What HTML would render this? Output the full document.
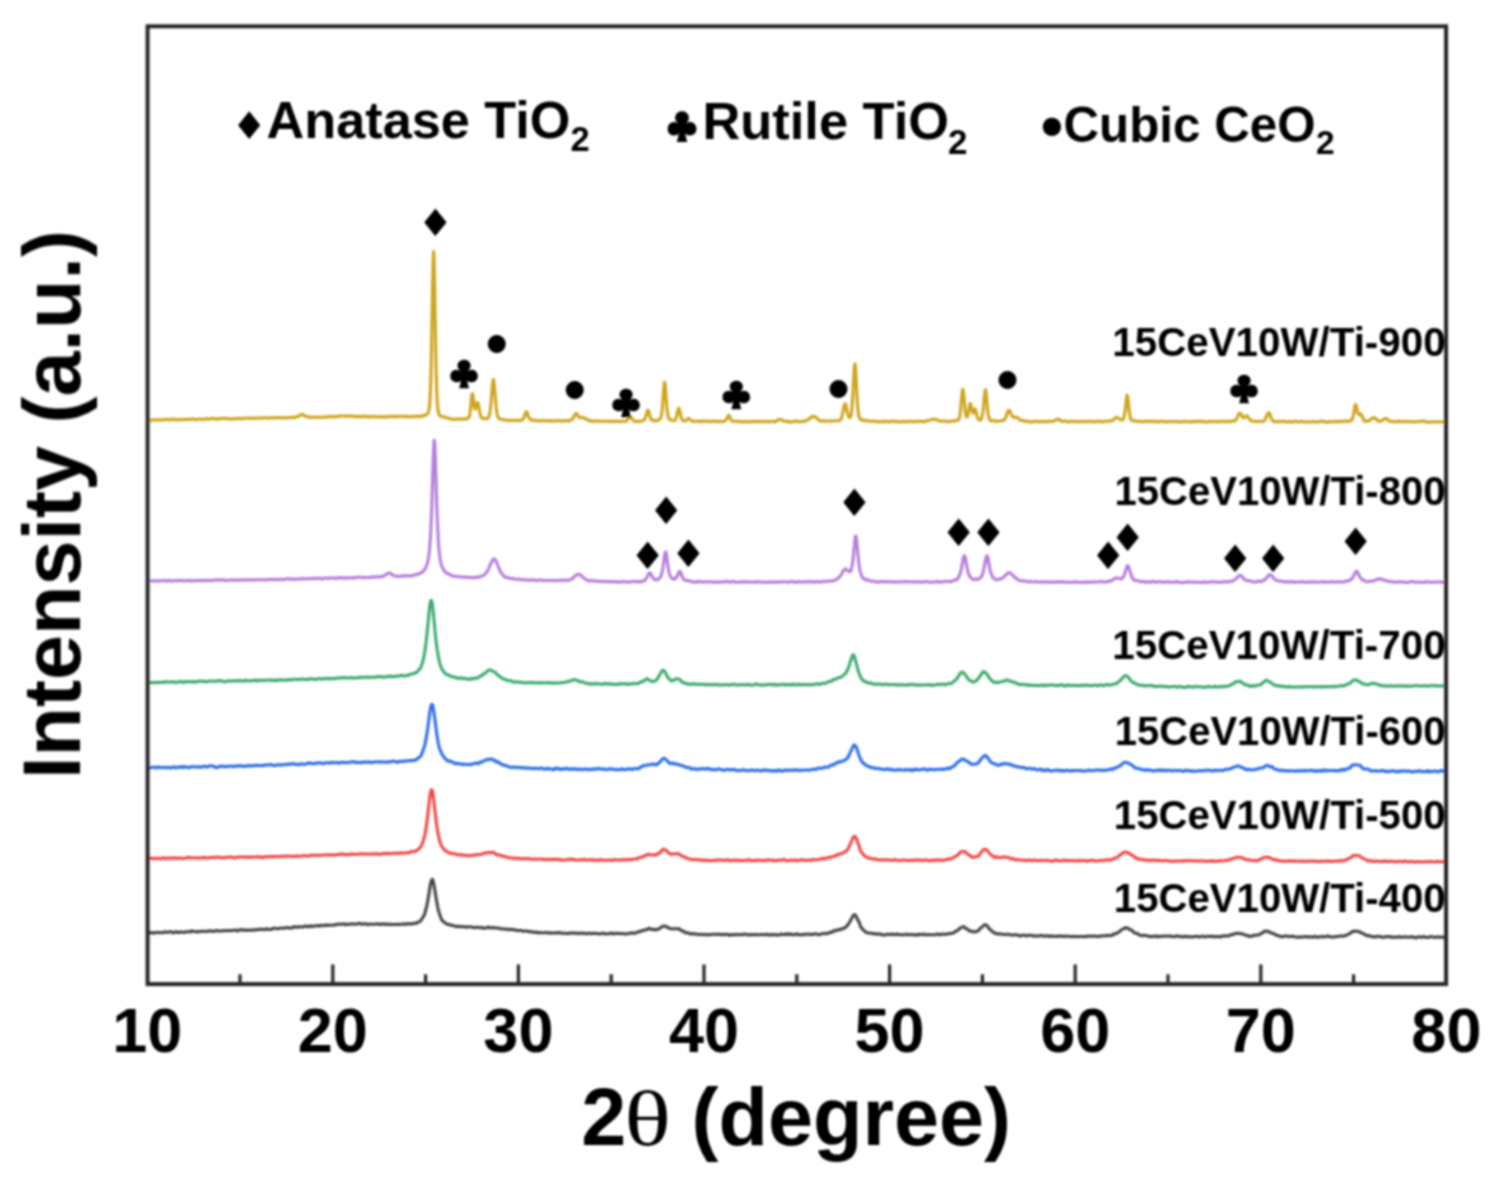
<!DOCTYPE html>
<html lang="en"><head><meta charset="utf-8"><title>XRD patterns</title>
<style>html,body{margin:0;padding:0;background:#fff}svg{display:block}</style></head>
<body>
<svg width="1497" height="1185" viewBox="0 0 1497 1185">
<rect width="100%" height="100%" fill="#fff"/>
<defs><filter id="soft" x="0" y="0" width="1497" height="1185" filterUnits="userSpaceOnUse"><feGaussianBlur stdDeviation="1"/></filter><clipPath id="cp"><rect x="147.6" y="26.3" width="1298.5" height="957.8"/></clipPath></defs>
<g filter="url(#soft)">
<g fill="none" stroke-width="3.1" stroke-linejoin="round" stroke-linecap="round" clip-path="url(#cp)">
<path stroke="#454545" d="M147.6,933.3 L148.1,933.1 L148.6,932.8 L149.1,932.5 L149.6,932.6 L150.1,932.6 L150.6,932.7 L151.1,932.7 L151.6,932.6 L152.1,932.6 L152.6,932.7 L153.1,933.0 L153.6,933.2 L154.1,933.3 L154.6,933.0 L155.1,932.6 L155.6,932.5 L156.1,932.4 L156.6,932.5 L157.1,932.4 L157.6,932.5 L158.1,932.6 L158.6,932.8 L159.1,932.7 L159.6,932.5 L160.1,932.5 L160.6,932.5 L161.1,932.5 L161.6,932.5 L162.1,932.6 L162.6,932.8 L163.1,932.8 L163.6,932.5 L164.1,932.1 L164.6,931.8 L165.1,931.7 L165.6,931.9 L166.1,932.1 L166.6,932.3 L167.1,932.3 L167.6,932.2 L168.1,932.2 L168.6,932.0 L169.1,931.9 L169.6,931.9 L170.1,931.9 L170.6,931.9 L171.1,931.9 L171.6,931.8 L172.1,932.1 L172.6,932.5 L173.1,932.7 L173.6,932.8 L174.1,932.7 L174.6,932.6 L175.1,932.2 L175.6,932.0 L176.1,931.7 L176.6,931.7 L177.1,931.8 L177.6,932.2 L178.1,932.4 L178.6,932.5 L179.1,932.4 L179.6,932.2 L180.1,932.0 L180.6,931.9 L181.1,932.0 L181.6,932.1 L182.1,932.3 L182.6,932.1 L183.1,932.2 L183.6,932.2 L184.1,932.4 L184.6,932.3 L185.1,932.3 L185.6,932.1 L186.1,931.9 L186.6,931.7 L187.1,931.8 L187.6,931.7 L188.1,931.8 L188.6,931.8 L189.1,931.8 L189.6,931.9 L190.1,931.9 L190.6,931.6 L191.1,931.2 L191.6,930.9 L192.1,931.0 L192.6,931.1 L193.1,931.3 L193.6,931.4 L194.1,931.5 L194.6,931.5 L195.1,931.6 L195.6,931.5 L196.1,931.6 L196.6,931.8 L197.1,931.9 L197.6,931.8 L198.1,931.5 L198.6,931.5 L199.1,931.7 L199.6,931.7 L200.1,931.6 L200.6,931.4 L201.1,931.3 L201.6,931.4 L202.1,931.4 L202.6,931.3 L203.1,931.3 L203.6,931.3 L204.1,931.3 L204.6,931.4 L205.1,931.5 L205.6,931.5 L206.1,931.5 L206.6,931.3 L207.1,931.4 L207.6,931.2 L208.1,931.1 L208.6,930.9 L209.1,930.8 L209.6,931.0 L210.1,931.1 L210.6,931.2 L211.1,931.1 L211.6,930.9 L212.1,931.0 L212.6,931.2 L213.1,931.4 L213.6,931.4 L214.1,931.2 L214.6,931.0 L215.1,930.9 L215.6,931.0 L216.1,930.9 L216.6,930.7 L217.1,930.5 L217.6,930.5 L218.1,930.8 L218.6,931.0 L219.1,931.1 L219.6,931.0 L220.1,931.0 L220.6,931.0 L221.1,931.0 L221.6,931.0 L222.1,930.9 L222.6,930.8 L223.1,930.7 L223.6,930.6 L224.1,930.7 L224.6,930.7 L225.1,930.7 L225.6,930.6 L226.1,930.7 L226.6,930.7 L227.1,930.7 L227.6,930.6 L228.1,930.5 L228.6,930.5 L229.1,930.6 L229.6,930.8 L230.1,930.7 L230.6,930.5 L231.1,930.5 L231.6,930.5 L232.1,930.6 L232.6,930.5 L233.1,930.4 L233.6,930.3 L234.1,930.1 L234.6,930.0 L235.1,929.9 L235.6,930.0 L236.1,930.3 L236.6,930.7 L237.1,930.9 L237.6,930.9 L238.1,930.6 L238.6,930.3 L239.1,929.9 L239.6,929.7 L240.1,929.7 L240.6,929.9 L241.1,930.1 L241.6,930.2 L242.1,930.0 L242.6,929.8 L243.1,929.8 L243.6,930.0 L244.1,930.1 L244.6,930.2 L245.1,930.3 L245.6,930.5 L246.1,930.4 L246.6,930.2 L247.1,930.0 L247.6,929.9 L248.1,930.0 L248.6,930.1 L249.1,930.2 L249.6,930.4 L250.1,930.4 L250.6,930.3 L251.1,930.1 L251.6,929.9 L252.1,929.8 L252.6,929.8 L253.1,930.1 L253.6,930.1 L254.1,930.1 L254.6,929.9 L255.1,929.9 L255.6,929.9 L256.1,929.8 L256.6,929.7 L257.1,929.5 L257.6,929.4 L258.1,929.4 L258.6,929.5 L259.1,929.7 L259.6,929.6 L260.1,929.4 L260.6,929.1 L261.1,929.1 L261.6,929.2 L262.1,929.4 L262.6,929.5 L263.1,929.4 L263.6,929.5 L264.1,929.6 L264.6,929.7 L265.1,929.5 L265.6,929.3 L266.1,928.9 L266.6,928.8 L267.1,928.8 L267.6,929.1 L268.1,929.4 L268.6,929.5 L269.1,929.5 L269.6,929.4 L270.1,929.5 L270.6,929.5 L271.1,929.4 L271.6,929.3 L272.1,929.0 L272.6,928.7 L273.1,928.3 L273.6,928.2 L274.1,928.2 L274.6,928.3 L275.1,928.2 L275.6,928.3 L276.1,928.6 L276.6,928.8 L277.1,928.8 L277.6,928.7 L278.1,928.6 L278.6,928.5 L279.1,928.6 L279.6,928.5 L280.1,928.4 L280.6,928.2 L281.1,928.1 L281.6,928.0 L282.1,928.0 L282.6,928.1 L283.1,928.1 L283.6,928.3 L284.1,928.3 L284.6,928.3 L285.1,928.0 L285.6,927.8 L286.1,927.5 L286.6,927.6 L287.1,927.6 L287.6,927.7 L288.1,927.7 L288.6,927.8 L289.1,927.9 L289.6,928.1 L290.1,928.1 L290.6,927.9 L291.1,927.7 L291.6,927.8 L292.1,927.9 L292.6,927.8 L293.1,927.3 L293.6,927.0 L294.1,926.7 L294.6,926.7 L295.1,926.7 L295.6,927.0 L296.1,927.2 L296.6,927.4 L297.1,927.2 L297.6,927.0 L298.1,926.8 L298.6,926.9 L299.1,926.9 L299.6,926.8 L300.1,926.7 L300.6,926.7 L301.1,926.9 L301.6,927.0 L302.1,927.1 L302.6,927.0 L303.1,926.9 L303.6,926.6 L304.1,926.5 L304.6,926.3 L305.1,926.1 L305.6,926.2 L306.1,926.1 L306.6,926.3 L307.1,926.4 L307.6,926.8 L308.1,926.9 L308.6,926.8 L309.1,926.4 L309.6,926.0 L310.1,925.8 L310.6,926.0 L311.1,926.3 L311.6,926.5 L312.1,926.5 L312.6,926.3 L313.1,926.2 L313.6,926.3 L314.1,926.2 L314.6,926.0 L315.1,925.7 L315.6,925.7 L316.1,925.7 L316.6,925.9 L317.1,925.7 L317.6,925.6 L318.1,925.6 L318.6,926.0 L319.1,926.1 L319.6,926.1 L320.1,925.6 L320.6,925.3 L321.1,925.1 L321.6,925.3 L322.1,925.4 L322.6,925.5 L323.1,925.6 L323.6,925.7 L324.1,925.8 L324.6,925.5 L325.1,925.3 L325.6,924.9 L326.1,924.9 L326.6,925.0 L327.1,925.3 L327.6,925.4 L328.1,925.4 L328.6,925.2 L329.1,925.2 L329.6,925.1 L330.1,925.1 L330.6,925.2 L331.1,925.2 L331.6,925.3 L332.1,925.2 L332.6,925.3 L333.1,925.2 L333.6,925.1 L334.1,924.9 L334.6,924.8 L335.1,924.8 L335.6,924.9 L336.1,924.8 L336.6,924.5 L337.1,924.3 L337.6,924.2 L338.1,924.3 L338.6,924.2 L339.1,924.2 L339.6,924.0 L340.1,924.1 L340.6,924.2 L341.1,924.3 L341.6,924.3 L342.1,924.2 L342.6,924.1 L343.1,923.9 L343.6,923.7 L344.1,923.9 L344.6,924.3 L345.1,924.7 L345.6,924.8 L346.1,924.6 L346.6,924.3 L347.1,924.0 L347.6,924.2 L348.1,924.3 L348.6,924.3 L349.1,924.2 L349.6,924.2 L350.1,924.4 L350.6,924.4 L351.1,924.2 L351.6,923.9 L352.1,923.7 L352.6,923.7 L353.1,923.9 L353.6,924.1 L354.1,924.3 L354.6,924.3 L355.1,924.2 L355.6,924.0 L356.1,923.9 L356.6,923.9 L357.1,924.0 L357.6,923.9 L358.1,923.7 L358.6,923.5 L359.1,923.4 L359.6,923.3 L360.1,923.4 L360.6,923.7 L361.1,924.0 L361.6,924.2 L362.1,924.2 L362.6,924.2 L363.1,924.1 L363.6,923.9 L364.1,923.8 L364.6,923.8 L365.1,923.7 L365.6,923.7 L366.1,923.9 L366.6,924.3 L367.1,924.5 L367.6,924.6 L368.1,924.5 L368.6,924.4 L369.1,924.2 L369.6,924.0 L370.1,924.0 L370.6,924.1 L371.1,924.2 L371.6,924.3 L372.1,924.3 L372.6,924.3 L373.1,924.3 L373.6,924.3 L374.1,924.3 L374.6,924.3 L375.1,924.3 L375.6,924.1 L376.1,923.9 L376.6,923.8 L377.1,923.9 L377.6,924.0 L378.1,924.3 L378.6,924.2 L379.1,924.0 L379.6,924.0 L380.1,924.2 L380.6,924.5 L381.1,924.5 L381.6,924.3 L382.1,924.1 L382.6,923.9 L383.1,923.9 L383.6,923.9 L384.1,924.0 L384.6,924.3 L385.1,924.5 L385.6,924.4 L386.1,924.2 L386.6,924.0 L387.1,924.1 L387.6,924.2 L388.1,924.5 L388.6,924.6 L389.1,924.5 L389.6,924.3 L390.1,924.2 L390.6,924.4 L391.1,924.4 L391.6,924.4 L392.1,924.4 L392.6,924.5 L393.1,924.5 L393.6,924.5 L394.1,924.4 L394.6,924.4 L395.1,924.5 L395.6,924.5 L396.1,924.4 L396.6,924.3 L397.1,924.3 L397.6,924.4 L398.1,924.3 L398.6,924.4 L399.1,924.4 L399.6,924.5 L400.1,924.5 L400.6,924.4 L401.1,924.3 L401.6,924.2 L402.1,924.1 L402.6,924.0 L403.1,924.0 L403.6,924.1 L404.1,924.3 L404.6,924.4 L405.1,924.5 L405.6,924.2 L406.1,923.8 L406.6,923.6 L407.1,923.7 L407.6,923.9 L408.1,924.0 L408.6,923.9 L409.1,923.8 L409.6,923.5 L410.1,923.7 L410.6,923.9 L411.1,924.1 L411.6,924.0 L412.1,923.8 L412.6,923.7 L413.1,923.7 L413.6,923.6 L414.1,923.3 L414.6,923.1 L415.1,923.2 L415.6,923.4 L416.1,923.4 L416.6,923.2 L417.1,922.7 L417.6,922.3 L418.1,922.0 L418.6,921.9 L419.1,921.8 L419.6,921.6 L420.1,921.3 L420.6,920.9 L421.1,920.1 L421.6,919.3 L422.1,918.4 L422.6,917.7 L423.1,916.9 L423.6,916.1 L424.1,915.3 L424.6,914.1 L425.1,912.5 L425.6,910.5 L426.1,908.6 L426.6,906.6 L427.1,904.4 L427.6,901.7 L428.1,899.0 L428.6,896.0 L429.1,892.9 L429.6,889.6 L430.1,886.6 L430.6,883.8 L431.1,881.7 L431.6,880.1 L432.1,879.3 L432.6,879.6 L433.1,881.0 L433.6,883.3 L434.1,886.0 L434.6,888.8 L435.1,891.7 L435.6,894.8 L436.1,898.0 L436.6,901.0 L437.1,903.8 L437.6,906.5 L438.1,908.8 L438.6,911.0 L439.1,912.6 L439.6,914.1 L440.1,915.4 L440.6,916.8 L441.1,918.2 L441.6,919.5 L442.1,920.5 L442.6,921.0 L443.1,921.3 L443.6,921.6 L444.1,921.8 L444.6,922.3 L445.1,922.8 L445.6,923.4 L446.1,923.7 L446.6,923.9 L447.1,924.0 L447.6,924.3 L448.1,924.5 L448.6,924.5 L449.1,924.5 L449.6,924.6 L450.1,924.9 L450.6,925.2 L451.1,925.3 L451.6,925.3 L452.1,925.3 L452.6,925.5 L453.1,925.6 L453.6,925.7 L454.1,925.8 L454.6,926.1 L455.1,926.3 L455.6,926.4 L456.1,926.6 L456.6,926.7 L457.1,926.7 L457.6,926.5 L458.1,926.3 L458.6,926.3 L459.1,926.5 L459.6,926.6 L460.1,926.7 L460.6,926.6 L461.1,926.6 L461.6,926.6 L462.1,926.8 L462.6,926.7 L463.1,926.7 L463.6,926.6 L464.1,926.7 L464.6,926.9 L465.1,927.1 L465.6,927.1 L466.1,926.9 L466.6,926.7 L467.1,926.9 L467.6,927.1 L468.1,927.1 L468.6,926.9 L469.1,926.8 L469.6,926.7 L470.1,926.7 L470.6,926.8 L471.1,926.9 L471.6,927.0 L472.1,927.1 L472.6,927.3 L473.1,927.4 L473.6,927.7 L474.1,927.7 L474.6,927.7 L475.1,927.6 L475.6,927.4 L476.1,927.4 L476.6,927.2 L477.1,927.3 L477.6,927.2 L478.1,927.4 L478.6,927.5 L479.1,927.7 L479.6,927.7 L480.1,927.8 L480.6,927.6 L481.1,927.5 L481.6,927.4 L482.1,927.5 L482.6,927.7 L483.1,928.0 L483.6,928.3 L484.1,928.4 L484.6,928.2 L485.1,928.1 L485.6,927.8 L486.1,927.8 L486.6,927.6 L487.1,927.6 L487.6,927.3 L488.1,927.1 L488.6,927.2 L489.1,927.4 L489.6,927.8 L490.1,927.9 L490.6,928.0 L491.1,927.8 L491.6,927.7 L492.1,927.6 L492.6,927.8 L493.1,927.9 L493.6,927.7 L494.1,927.6 L494.6,927.7 L495.1,928.0 L495.6,928.0 L496.1,928.0 L496.6,928.0 L497.1,928.1 L497.6,928.0 L498.1,927.9 L498.6,928.0 L499.1,928.3 L499.6,928.6 L500.1,928.7 L500.6,928.8 L501.1,928.8 L501.6,928.8 L502.1,928.8 L502.6,928.9 L503.1,929.0 L503.6,929.0 L504.1,928.9 L504.6,929.0 L505.1,929.0 L505.6,929.2 L506.1,929.2 L506.6,929.1 L507.1,929.1 L507.6,929.3 L508.1,929.5 L508.6,929.5 L509.1,929.7 L509.6,929.5 L510.1,929.5 L510.6,929.3 L511.1,929.5 L511.6,929.5 L512.1,929.6 L512.6,929.6 L513.1,929.5 L513.6,929.5 L514.1,929.6 L514.6,929.9 L515.1,930.2 L515.6,930.3 L516.1,930.3 L516.6,930.3 L517.1,930.4 L517.6,930.5 L518.1,930.6 L518.6,930.4 L519.1,930.3 L519.6,930.3 L520.1,930.5 L520.6,930.5 L521.1,930.6 L521.6,930.7 L522.1,930.9 L522.6,931.2 L523.1,931.3 L523.6,931.2 L524.1,931.1 L524.6,930.9 L525.1,931.0 L525.6,931.1 L526.1,931.3 L526.6,931.3 L527.1,931.3 L527.6,931.1 L528.1,931.1 L528.6,931.3 L529.1,931.7 L529.6,931.9 L530.1,931.8 L530.6,931.7 L531.1,931.7 L531.6,931.7 L532.1,931.6 L532.6,931.8 L533.1,932.1 L533.6,932.3 L534.1,932.4 L534.6,932.4 L535.1,932.4 L535.6,932.3 L536.1,932.2 L536.6,932.1 L537.1,932.3 L537.6,932.6 L538.1,932.9 L538.6,932.8 L539.1,932.7 L539.6,932.5 L540.1,932.5 L540.6,932.6 L541.1,932.8 L541.6,932.8 L542.1,932.8 L542.6,932.8 L543.1,932.8 L543.6,932.8 L544.1,932.8 L544.6,932.8 L545.1,932.8 L545.6,932.7 L546.1,932.6 L546.6,932.6 L547.1,932.7 L547.6,932.7 L548.1,932.6 L548.6,932.7 L549.1,932.8 L549.6,933.1 L550.1,933.1 L550.6,933.1 L551.1,932.8 L551.6,932.7 L552.1,932.7 L552.6,932.9 L553.1,933.0 L553.6,933.1 L554.1,933.1 L554.6,933.0 L555.1,933.0 L555.6,932.9 L556.1,932.8 L556.6,932.8 L557.1,933.0 L557.6,933.1 L558.1,932.9 L558.6,932.5 L559.1,932.4 L559.6,932.7 L560.1,933.0 L560.6,933.1 L561.1,933.1 L561.6,933.0 L562.1,933.2 L562.6,933.3 L563.1,933.4 L563.6,933.3 L564.1,933.3 L564.6,933.2 L565.1,933.2 L565.6,933.2 L566.1,933.2 L566.6,933.2 L567.1,933.5 L567.6,933.7 L568.1,933.7 L568.6,933.5 L569.1,933.2 L569.6,933.1 L570.1,933.0 L570.6,933.0 L571.1,933.2 L571.6,933.2 L572.1,933.2 L572.6,933.0 L573.1,933.0 L573.6,933.0 L574.1,933.3 L574.6,933.2 L575.1,933.1 L575.6,932.9 L576.1,932.9 L576.6,933.0 L577.1,933.4 L577.6,933.5 L578.1,933.7 L578.6,933.6 L579.1,933.5 L579.6,933.1 L580.1,932.9 L580.6,933.0 L581.1,933.2 L581.6,933.4 L582.1,933.4 L582.6,933.5 L583.1,933.5 L583.6,933.2 L584.1,933.0 L584.6,933.0 L585.1,933.3 L585.6,933.6 L586.1,933.8 L586.6,933.8 L587.1,933.8 L587.6,933.7 L588.1,933.5 L588.6,933.2 L589.1,933.1 L589.6,933.2 L590.1,933.4 L590.6,933.6 L591.1,933.7 L591.6,933.5 L592.1,933.4 L592.6,933.3 L593.1,933.4 L593.6,933.4 L594.1,933.4 L594.6,933.4 L595.1,933.5 L595.6,933.5 L596.1,933.4 L596.6,933.4 L597.1,933.6 L597.6,933.7 L598.1,933.7 L598.6,933.7 L599.1,933.9 L599.6,933.9 L600.1,933.9 L600.6,933.6 L601.1,933.5 L601.6,933.5 L602.1,933.6 L602.6,933.4 L603.1,933.2 L603.6,933.1 L604.1,933.4 L604.6,933.7 L605.1,934.0 L605.6,934.0 L606.1,933.9 L606.6,933.7 L607.1,933.8 L607.6,933.8 L608.1,933.8 L608.6,933.8 L609.1,933.7 L609.6,933.5 L610.1,933.4 L610.6,933.1 L611.1,933.1 L611.6,933.1 L612.1,933.6 L612.6,933.9 L613.1,934.1 L613.6,933.7 L614.1,933.5 L614.6,933.3 L615.1,933.5 L615.6,933.4 L616.1,933.4 L616.6,933.2 L617.1,933.4 L617.6,933.5 L618.1,933.6 L618.6,933.5 L619.1,933.3 L619.6,933.4 L620.1,933.6 L620.6,933.7 L621.1,933.6 L621.6,933.5 L622.1,933.6 L622.6,933.7 L623.1,933.7 L623.6,933.7 L624.1,933.6 L624.6,933.7 L625.1,933.9 L625.6,934.0 L626.1,934.0 L626.6,934.0 L627.1,933.8 L627.6,933.8 L628.1,933.5 L628.6,933.5 L629.1,933.4 L629.6,933.4 L630.1,933.3 L630.6,933.1 L631.1,932.9 L631.6,932.8 L632.1,933.0 L632.6,933.2 L633.1,933.2 L633.6,933.2 L634.1,933.2 L634.6,933.2 L635.1,933.0 L635.6,932.8 L636.1,932.7 L636.6,932.6 L637.1,932.4 L637.6,932.2 L638.1,932.0 L638.6,931.8 L639.1,931.8 L639.6,931.6 L640.1,931.5 L640.6,931.3 L641.1,931.0 L641.6,930.8 L642.1,930.7 L642.6,930.7 L643.1,930.6 L643.6,930.4 L644.1,930.2 L644.6,930.0 L645.1,929.8 L645.6,929.8 L646.1,929.7 L646.6,929.7 L647.1,929.5 L647.6,929.2 L648.1,928.9 L648.6,928.5 L649.1,928.3 L649.6,928.3 L650.1,928.7 L650.6,929.2 L651.1,929.4 L651.6,929.6 L652.1,929.4 L652.6,929.4 L653.1,929.3 L653.6,929.3 L654.1,929.5 L654.6,929.7 L655.1,929.9 L655.6,929.8 L656.1,929.7 L656.6,929.5 L657.1,929.4 L657.6,929.2 L658.1,929.2 L658.6,928.9 L659.1,928.7 L659.6,928.5 L660.1,928.2 L660.6,927.8 L661.1,927.4 L661.6,926.9 L662.1,926.6 L662.6,926.4 L663.1,926.2 L663.6,926.2 L664.1,926.0 L664.6,925.9 L665.1,926.0 L665.6,926.5 L666.1,926.8 L666.6,926.9 L667.1,926.9 L667.6,927.1 L668.1,927.7 L668.6,928.0 L669.1,928.3 L669.6,928.3 L670.1,928.6 L670.6,928.7 L671.1,928.8 L671.6,928.8 L672.1,928.8 L672.6,928.7 L673.1,928.7 L673.6,928.7 L674.1,928.7 L674.6,928.7 L675.1,928.8 L675.6,928.7 L676.1,928.7 L676.6,928.7 L677.1,928.9 L677.6,928.7 L678.1,928.8 L678.6,928.5 L679.1,928.8 L679.6,929.2 L680.1,929.8 L680.6,930.0 L681.1,930.2 L681.6,930.5 L682.1,931.0 L682.6,931.2 L683.1,931.3 L683.6,931.2 L684.1,931.6 L684.6,932.1 L685.1,932.6 L685.6,932.7 L686.1,932.8 L686.6,932.8 L687.1,933.0 L687.6,933.0 L688.1,932.9 L688.6,932.9 L689.1,933.3 L689.6,933.6 L690.1,933.9 L690.6,933.8 L691.1,933.9 L691.6,933.8 L692.1,933.7 L692.6,933.5 L693.1,933.6 L693.6,933.8 L694.1,934.0 L694.6,934.1 L695.1,934.1 L695.6,934.1 L696.1,934.0 L696.6,934.1 L697.1,934.2 L697.6,934.4 L698.1,934.5 L698.6,934.5 L699.1,934.5 L699.6,934.5 L700.1,934.5 L700.6,934.3 L701.1,934.3 L701.6,934.2 L702.1,934.4 L702.6,934.4 L703.1,934.7 L703.6,934.8 L704.1,934.8 L704.6,934.5 L705.1,934.4 L705.6,934.4 L706.1,934.6 L706.6,934.8 L707.1,934.9 L707.6,934.9 L708.1,934.6 L708.6,934.5 L709.1,934.4 L709.6,934.5 L710.1,934.6 L710.6,934.7 L711.1,934.7 L711.6,934.6 L712.1,934.4 L712.6,934.2 L713.1,934.2 L713.6,934.3 L714.1,934.3 L714.6,934.2 L715.1,934.2 L715.6,934.3 L716.1,934.4 L716.6,934.5 L717.1,934.5 L717.6,934.3 L718.1,934.3 L718.6,934.3 L719.1,934.4 L719.6,934.4 L720.1,934.4 L720.6,934.3 L721.1,934.5 L721.6,934.7 L722.1,934.8 L722.6,934.6 L723.1,934.6 L723.6,934.5 L724.1,934.6 L724.6,934.5 L725.1,934.3 L725.6,934.2 L726.1,934.3 L726.6,934.6 L727.1,934.7 L727.6,934.7 L728.1,934.5 L728.6,934.6 L729.1,935.0 L729.6,935.3 L730.1,935.4 L730.6,935.0 L731.1,934.6 L731.6,934.5 L732.1,934.6 L732.6,934.8 L733.1,934.8 L733.6,934.8 L734.1,934.8 L734.6,934.9 L735.1,934.8 L735.6,934.4 L736.1,934.3 L736.6,934.4 L737.1,934.7 L737.6,934.7 L738.1,934.7 L738.6,934.6 L739.1,934.8 L739.6,934.7 L740.1,934.7 L740.6,934.5 L741.1,934.6 L741.6,934.7 L742.1,934.8 L742.6,934.6 L743.1,934.3 L743.6,934.2 L744.1,934.3 L744.6,934.4 L745.1,934.3 L745.6,934.3 L746.1,934.3 L746.6,934.4 L747.1,934.6 L747.6,934.7 L748.1,934.9 L748.6,935.0 L749.1,934.9 L749.6,934.7 L750.1,934.6 L750.6,934.6 L751.1,934.8 L751.6,934.9 L752.1,934.9 L752.6,934.9 L753.1,934.7 L753.6,934.6 L754.1,934.4 L754.6,934.5 L755.1,934.5 L755.6,934.7 L756.1,934.6 L756.6,934.7 L757.1,934.7 L757.6,934.8 L758.1,934.8 L758.6,934.8 L759.1,934.8 L759.6,934.8 L760.1,934.8 L760.6,934.7 L761.1,934.6 L761.6,934.5 L762.1,934.5 L762.6,934.6 L763.1,934.7 L763.6,934.7 L764.1,934.8 L764.6,934.8 L765.1,934.7 L765.6,934.6 L766.1,934.3 L766.6,934.3 L767.1,934.3 L767.6,934.6 L768.1,935.0 L768.6,935.1 L769.1,934.9 L769.6,934.6 L770.1,934.6 L770.6,934.9 L771.1,935.0 L771.6,935.0 L772.1,934.6 L772.6,934.4 L773.1,934.3 L773.6,934.5 L774.1,934.7 L774.6,934.7 L775.1,934.9 L775.6,934.9 L776.1,934.9 L776.6,934.9 L777.1,934.9 L777.6,934.9 L778.1,934.9 L778.6,935.0 L779.1,935.1 L779.6,935.0 L780.1,934.7 L780.6,934.2 L781.1,934.1 L781.6,934.1 L782.1,934.4 L782.6,934.5 L783.1,934.6 L783.6,934.5 L784.1,934.6 L784.6,934.5 L785.1,934.5 L785.6,934.3 L786.1,934.0 L786.6,933.7 L787.1,933.8 L787.6,934.2 L788.1,934.6 L788.6,934.8 L789.1,934.6 L789.6,934.2 L790.1,933.9 L790.6,934.0 L791.1,934.1 L791.6,934.4 L792.1,934.5 L792.6,934.7 L793.1,934.7 L793.6,934.8 L794.1,934.7 L794.6,934.7 L795.1,934.5 L795.6,934.4 L796.1,934.0 L796.6,933.9 L797.1,934.0 L797.6,934.4 L798.1,934.7 L798.6,934.9 L799.1,934.9 L799.6,934.7 L800.1,934.6 L800.6,934.6 L801.1,934.7 L801.6,934.7 L802.1,934.8 L802.6,935.0 L803.1,934.9 L803.6,934.7 L804.1,934.3 L804.6,934.1 L805.1,934.1 L805.6,934.2 L806.1,934.3 L806.6,934.3 L807.1,934.4 L807.6,934.3 L808.1,934.3 L808.6,934.2 L809.1,934.3 L809.6,934.4 L810.1,934.4 L810.6,934.4 L811.1,934.3 L811.6,934.4 L812.1,934.4 L812.6,934.5 L813.1,934.5 L813.6,934.5 L814.1,934.2 L814.6,933.9 L815.1,933.7 L815.6,933.7 L816.1,933.9 L816.6,934.0 L817.1,934.1 L817.6,934.3 L818.1,934.6 L818.6,934.7 L819.1,934.6 L819.6,934.6 L820.1,934.4 L820.6,934.2 L821.1,933.9 L821.6,933.8 L822.1,933.8 L822.6,933.8 L823.1,933.6 L823.6,933.6 L824.1,933.5 L824.6,933.4 L825.1,933.3 L825.6,933.4 L826.1,933.5 L826.6,933.7 L827.1,933.5 L827.6,933.4 L828.1,933.1 L828.6,932.9 L829.1,932.6 L829.6,932.5 L830.1,932.4 L830.6,932.4 L831.1,932.5 L831.6,932.3 L832.1,932.2 L832.6,931.7 L833.1,931.3 L833.6,930.8 L834.1,930.6 L834.6,930.6 L835.1,930.7 L835.6,930.8 L836.1,930.7 L836.6,930.5 L837.1,930.2 L837.6,929.9 L838.1,929.7 L838.6,929.6 L839.1,929.6 L839.6,929.7 L840.1,929.6 L840.6,929.6 L841.1,929.3 L841.6,929.0 L842.1,928.7 L842.6,928.5 L843.1,928.4 L843.6,928.4 L844.1,928.2 L844.6,927.8 L845.1,927.5 L845.6,927.2 L846.1,926.9 L846.6,926.3 L847.1,925.7 L847.6,925.0 L848.1,924.4 L848.6,923.8 L849.1,923.0 L849.6,922.2 L850.1,921.3 L850.6,920.4 L851.1,919.4 L851.6,918.5 L852.1,917.7 L852.6,916.8 L853.1,915.9 L853.6,915.2 L854.1,914.9 L854.6,914.7 L855.1,914.9 L855.6,915.3 L856.1,916.2 L856.6,917.3 L857.1,918.5 L857.6,919.5 L858.1,920.4 L858.6,921.2 L859.1,922.2 L859.6,923.4 L860.1,925.0 L860.6,926.4 L861.1,927.4 L861.6,928.1 L862.1,928.7 L862.6,929.2 L863.1,929.7 L863.6,930.0 L864.1,930.6 L864.6,931.1 L865.1,931.6 L865.6,932.0 L866.1,932.4 L866.6,932.7 L867.1,932.7 L867.6,932.7 L868.1,932.7 L868.6,932.9 L869.1,933.1 L869.6,933.3 L870.1,933.3 L870.6,933.2 L871.1,933.2 L871.6,933.3 L872.1,933.4 L872.6,933.6 L873.1,933.6 L873.6,933.7 L874.1,933.6 L874.6,933.7 L875.1,933.8 L875.6,934.1 L876.1,934.1 L876.6,934.2 L877.1,934.1 L877.6,933.9 L878.1,933.7 L878.6,933.7 L879.1,934.0 L879.6,934.3 L880.1,934.4 L880.6,934.4 L881.1,934.4 L881.6,934.4 L882.1,934.7 L882.6,934.8 L883.1,935.0 L883.6,934.9 L884.1,935.0 L884.6,935.0 L885.1,934.9 L885.6,934.8 L886.1,934.6 L886.6,934.5 L887.1,934.2 L887.6,934.2 L888.1,934.2 L888.6,934.3 L889.1,934.4 L889.6,934.5 L890.1,934.6 L890.6,934.5 L891.1,934.3 L891.6,934.0 L892.1,934.0 L892.6,934.0 L893.1,934.3 L893.6,934.4 L894.1,934.6 L894.6,934.6 L895.1,934.8 L895.6,934.6 L896.1,934.3 L896.6,934.0 L897.1,934.0 L897.6,934.2 L898.1,934.6 L898.6,934.7 L899.1,934.7 L899.6,934.7 L900.1,934.5 L900.6,934.5 L901.1,934.7 L901.6,934.8 L902.1,934.8 L902.6,934.7 L903.1,934.7 L903.6,934.7 L904.1,934.7 L904.6,934.7 L905.1,934.6 L905.6,934.5 L906.1,934.4 L906.6,934.4 L907.1,934.3 L907.6,934.5 L908.1,934.6 L908.6,934.8 L909.1,934.7 L909.6,934.7 L910.1,934.7 L910.6,934.6 L911.1,934.6 L911.6,934.5 L912.1,934.5 L912.6,934.6 L913.1,934.8 L913.6,934.9 L914.1,934.9 L914.6,934.9 L915.1,935.0 L915.6,935.0 L916.1,934.8 L916.6,934.5 L917.1,934.7 L917.6,934.9 L918.1,935.0 L918.6,934.7 L919.1,934.4 L919.6,934.4 L920.1,934.4 L920.6,934.5 L921.1,934.5 L921.6,934.8 L922.1,934.8 L922.6,934.6 L923.1,934.3 L923.6,934.1 L924.1,934.1 L924.6,934.3 L925.1,934.5 L925.6,934.8 L926.1,934.9 L926.6,934.8 L927.1,934.8 L927.6,934.8 L928.1,934.8 L928.6,934.7 L929.1,934.6 L929.6,934.6 L930.1,934.7 L930.6,934.8 L931.1,934.8 L931.6,934.8 L932.1,934.7 L932.6,934.8 L933.1,934.8 L933.6,934.8 L934.1,934.8 L934.6,934.8 L935.1,934.7 L935.6,934.6 L936.1,934.4 L936.6,934.2 L937.1,934.0 L937.6,934.1 L938.1,934.2 L938.6,934.5 L939.1,934.7 L939.6,934.8 L940.1,934.7 L940.6,934.5 L941.1,934.2 L941.6,934.0 L942.1,934.1 L942.6,934.2 L943.1,934.3 L943.6,934.3 L944.1,934.3 L944.6,934.3 L945.1,934.4 L945.6,934.3 L946.1,934.3 L946.6,934.0 L947.1,934.0 L947.6,933.8 L948.1,933.8 L948.6,933.8 L949.1,933.7 L949.6,933.6 L950.1,933.5 L950.6,933.6 L951.1,933.5 L951.6,933.4 L952.1,933.2 L952.6,933.0 L953.1,933.0 L953.6,932.8 L954.1,932.4 L954.6,932.1 L955.1,931.7 L955.6,931.3 L956.1,931.0 L956.6,930.8 L957.1,930.7 L957.6,930.5 L958.1,930.1 L958.6,929.6 L959.1,928.9 L959.6,928.4 L960.1,928.1 L960.6,927.9 L961.1,927.9 L961.6,927.5 L962.1,927.2 L962.6,926.9 L963.1,926.8 L963.6,926.8 L964.1,926.8 L964.6,927.2 L965.1,927.8 L965.6,928.3 L966.1,928.5 L966.6,928.7 L967.1,929.0 L967.6,929.3 L968.1,929.8 L968.6,930.2 L969.1,930.8 L969.6,931.0 L970.1,931.1 L970.6,931.1 L971.1,931.1 L971.6,931.2 L972.1,931.5 L972.6,931.7 L973.1,931.7 L973.6,931.7 L974.1,931.8 L974.6,931.9 L975.1,931.8 L975.6,931.8 L976.1,931.7 L976.6,931.5 L977.1,931.2 L977.6,930.9 L978.1,930.8 L978.6,930.6 L979.1,930.0 L979.6,929.1 L980.1,928.5 L980.6,928.2 L981.1,927.8 L981.6,927.4 L982.1,926.9 L982.6,926.5 L983.1,926.0 L983.6,925.4 L984.1,925.1 L984.6,924.9 L985.1,924.9 L985.6,924.9 L986.1,925.0 L986.6,925.2 L987.1,925.7 L987.6,926.5 L988.1,927.5 L988.6,928.2 L989.1,928.6 L989.6,928.9 L990.1,929.3 L990.6,930.0 L991.1,930.6 L991.6,930.9 L992.1,931.2 L992.6,931.6 L993.1,932.2 L993.6,932.4 L994.1,932.7 L994.6,932.9 L995.1,933.3 L995.6,933.4 L996.1,933.5 L996.6,933.7 L997.1,933.8 L997.6,933.9 L998.1,933.8 L998.6,933.9 L999.1,933.8 L999.6,934.0 L1000.1,934.0 L1000.6,934.0 L1001.1,934.0 L1001.6,934.1 L1002.1,934.2 L1002.6,934.3 L1003.1,934.4 L1003.6,934.5 L1004.1,934.5 L1004.6,934.5 L1005.1,934.5 L1005.6,934.5 L1006.1,934.5 L1006.6,934.4 L1007.1,934.3 L1007.6,934.3 L1008.1,934.3 L1008.6,934.5 L1009.1,934.6 L1009.6,934.8 L1010.1,934.8 L1010.6,934.8 L1011.1,934.8 L1011.6,934.9 L1012.1,935.0 L1012.6,935.2 L1013.1,935.2 L1013.6,935.1 L1014.1,934.9 L1014.6,934.7 L1015.1,934.6 L1015.6,934.6 L1016.1,934.7 L1016.6,934.9 L1017.1,935.1 L1017.6,935.3 L1018.1,935.2 L1018.6,935.3 L1019.1,935.5 L1019.6,935.8 L1020.1,936.0 L1020.6,935.8 L1021.1,935.6 L1021.6,935.5 L1022.1,935.4 L1022.6,935.3 L1023.1,935.1 L1023.6,935.3 L1024.1,935.3 L1024.6,935.3 L1025.1,935.3 L1025.6,935.5 L1026.1,935.8 L1026.6,935.9 L1027.1,935.8 L1027.6,935.6 L1028.1,935.4 L1028.6,935.3 L1029.1,935.1 L1029.6,935.2 L1030.1,935.2 L1030.6,935.4 L1031.1,935.5 L1031.6,935.5 L1032.1,935.4 L1032.6,935.6 L1033.1,935.9 L1033.6,936.2 L1034.1,936.1 L1034.6,936.0 L1035.1,935.8 L1035.6,935.8 L1036.1,935.9 L1036.6,936.0 L1037.1,936.1 L1037.6,936.1 L1038.1,936.1 L1038.6,935.9 L1039.1,935.8 L1039.6,935.7 L1040.1,935.6 L1040.6,935.7 L1041.1,935.6 L1041.6,935.5 L1042.1,935.5 L1042.6,935.6 L1043.1,935.9 L1043.6,936.1 L1044.1,936.1 L1044.6,936.1 L1045.1,936.0 L1045.6,936.0 L1046.1,936.0 L1046.6,935.8 L1047.1,935.8 L1047.6,935.7 L1048.1,936.0 L1048.6,936.4 L1049.1,936.5 L1049.6,936.4 L1050.1,936.2 L1050.6,935.9 L1051.1,935.9 L1051.6,935.9 L1052.1,936.2 L1052.6,936.3 L1053.1,936.5 L1053.6,936.5 L1054.1,936.4 L1054.6,936.3 L1055.1,936.3 L1055.6,936.3 L1056.1,936.4 L1056.6,936.4 L1057.1,936.5 L1057.6,936.3 L1058.1,936.0 L1058.6,935.9 L1059.1,935.9 L1059.6,936.0 L1060.1,936.2 L1060.6,936.3 L1061.1,936.2 L1061.6,936.1 L1062.1,936.1 L1062.6,936.1 L1063.1,936.4 L1063.6,936.5 L1064.1,936.6 L1064.6,936.3 L1065.1,936.2 L1065.6,936.1 L1066.1,936.2 L1066.6,936.2 L1067.1,936.3 L1067.6,936.3 L1068.1,936.4 L1068.6,936.3 L1069.1,936.3 L1069.6,936.3 L1070.1,936.4 L1070.6,936.5 L1071.1,936.6 L1071.6,936.6 L1072.1,936.7 L1072.6,936.7 L1073.1,936.5 L1073.6,936.4 L1074.1,936.4 L1074.6,936.5 L1075.1,936.5 L1075.6,936.6 L1076.1,936.5 L1076.6,936.6 L1077.1,936.6 L1077.6,936.7 L1078.1,936.7 L1078.6,936.6 L1079.1,936.5 L1079.6,936.5 L1080.1,936.5 L1080.6,936.5 L1081.1,936.5 L1081.6,936.5 L1082.1,936.6 L1082.6,936.6 L1083.1,936.7 L1083.6,936.5 L1084.1,936.4 L1084.6,936.3 L1085.1,936.4 L1085.6,936.6 L1086.1,936.6 L1086.6,936.6 L1087.1,936.3 L1087.6,936.1 L1088.1,935.9 L1088.6,935.9 L1089.1,936.1 L1089.6,936.3 L1090.1,936.3 L1090.6,936.4 L1091.1,936.3 L1091.6,936.3 L1092.1,936.1 L1092.6,936.1 L1093.1,936.0 L1093.6,936.1 L1094.1,936.2 L1094.6,936.1 L1095.1,936.2 L1095.6,936.2 L1096.1,936.3 L1096.6,936.4 L1097.1,936.4 L1097.6,936.5 L1098.1,936.5 L1098.6,936.5 L1099.1,936.3 L1099.6,936.1 L1100.1,936.0 L1100.6,936.1 L1101.1,936.2 L1101.6,936.2 L1102.1,936.0 L1102.6,935.9 L1103.1,935.8 L1103.6,935.8 L1104.1,935.7 L1104.6,935.8 L1105.1,935.8 L1105.6,935.9 L1106.1,935.8 L1106.6,935.7 L1107.1,935.5 L1107.6,935.3 L1108.1,935.3 L1108.6,935.4 L1109.1,935.6 L1109.6,935.7 L1110.1,935.6 L1110.6,935.5 L1111.1,935.5 L1111.6,935.5 L1112.1,935.3 L1112.6,934.8 L1113.1,934.2 L1113.6,933.9 L1114.1,933.9 L1114.6,934.1 L1115.1,934.1 L1115.6,934.0 L1116.1,933.5 L1116.6,933.2 L1117.1,932.9 L1117.6,932.8 L1118.1,932.4 L1118.6,932.1 L1119.1,931.8 L1119.6,931.5 L1120.1,931.1 L1120.6,930.5 L1121.1,930.0 L1121.6,929.6 L1122.1,929.4 L1122.6,929.2 L1123.1,928.9 L1123.6,928.7 L1124.1,928.5 L1124.6,928.4 L1125.1,928.1 L1125.6,927.7 L1126.1,927.5 L1126.6,927.8 L1127.1,928.2 L1127.6,928.4 L1128.1,928.3 L1128.6,928.4 L1129.1,928.8 L1129.6,929.3 L1130.1,929.8 L1130.6,929.9 L1131.1,930.1 L1131.6,930.2 L1132.1,930.5 L1132.6,931.0 L1133.1,931.7 L1133.6,932.2 L1134.1,932.6 L1134.6,932.8 L1135.1,933.1 L1135.6,933.2 L1136.1,933.4 L1136.6,933.5 L1137.1,933.4 L1137.6,933.6 L1138.1,933.9 L1138.6,934.5 L1139.1,934.9 L1139.6,935.1 L1140.1,935.1 L1140.6,935.2 L1141.1,935.3 L1141.6,935.6 L1142.1,935.6 L1142.6,935.6 L1143.1,935.5 L1143.6,935.5 L1144.1,935.4 L1144.6,935.4 L1145.1,935.3 L1145.6,935.4 L1146.1,935.5 L1146.6,935.7 L1147.1,935.9 L1147.6,936.1 L1148.1,936.2 L1148.6,936.3 L1149.1,936.5 L1149.6,936.6 L1150.1,936.7 L1150.6,936.6 L1151.1,936.6 L1151.6,936.4 L1152.1,936.4 L1152.6,936.3 L1153.1,936.5 L1153.6,936.5 L1154.1,936.6 L1154.6,936.4 L1155.1,936.2 L1155.6,935.9 L1156.1,935.9 L1156.6,936.2 L1157.1,936.7 L1157.6,936.9 L1158.1,936.9 L1158.6,936.6 L1159.1,936.3 L1159.6,936.1 L1160.1,936.2 L1160.6,936.4 L1161.1,936.5 L1161.6,936.5 L1162.1,936.4 L1162.6,936.2 L1163.1,936.1 L1163.6,936.2 L1164.1,936.2 L1164.6,936.1 L1165.1,936.0 L1165.6,936.0 L1166.1,936.2 L1166.6,936.2 L1167.1,936.2 L1167.6,936.2 L1168.1,936.2 L1168.6,936.0 L1169.1,935.9 L1169.6,935.8 L1170.1,935.9 L1170.6,936.1 L1171.1,936.4 L1171.6,936.5 L1172.1,936.5 L1172.6,936.5 L1173.1,936.4 L1173.6,936.6 L1174.1,936.7 L1174.6,936.7 L1175.1,936.5 L1175.6,936.3 L1176.1,936.2 L1176.6,936.1 L1177.1,935.9 L1177.6,935.9 L1178.1,936.1 L1178.6,936.4 L1179.1,936.7 L1179.6,936.7 L1180.1,936.6 L1180.6,936.6 L1181.1,936.4 L1181.6,936.4 L1182.1,936.5 L1182.6,936.9 L1183.1,937.1 L1183.6,937.0 L1184.1,936.7 L1184.6,936.5 L1185.1,936.4 L1185.6,936.4 L1186.1,936.3 L1186.6,936.5 L1187.1,936.8 L1187.6,936.9 L1188.1,936.8 L1188.6,936.6 L1189.1,936.6 L1189.6,936.8 L1190.1,936.9 L1190.6,936.8 L1191.1,936.7 L1191.6,936.7 L1192.1,937.0 L1192.6,937.0 L1193.1,936.9 L1193.6,936.7 L1194.1,936.7 L1194.6,936.7 L1195.1,936.5 L1195.6,936.3 L1196.1,936.2 L1196.6,936.3 L1197.1,936.4 L1197.6,936.5 L1198.1,936.6 L1198.6,936.9 L1199.1,936.9 L1199.6,936.8 L1200.1,936.6 L1200.6,936.6 L1201.1,936.6 L1201.6,936.5 L1202.1,936.2 L1202.6,936.1 L1203.1,936.2 L1203.6,936.5 L1204.1,936.9 L1204.6,937.0 L1205.1,937.0 L1205.6,936.8 L1206.1,936.6 L1206.6,936.4 L1207.1,936.2 L1207.6,936.2 L1208.1,936.2 L1208.6,936.3 L1209.1,936.4 L1209.6,936.6 L1210.1,936.6 L1210.6,936.5 L1211.1,936.2 L1211.6,936.1 L1212.1,936.4 L1212.6,936.7 L1213.1,936.8 L1213.6,936.7 L1214.1,936.5 L1214.6,936.4 L1215.1,936.5 L1215.6,936.7 L1216.1,936.8 L1216.6,936.8 L1217.1,936.6 L1217.6,936.4 L1218.1,936.4 L1218.6,936.5 L1219.1,936.7 L1219.6,936.7 L1220.1,937.0 L1220.6,936.8 L1221.1,936.7 L1221.6,936.3 L1222.1,936.2 L1222.6,936.0 L1223.1,936.0 L1223.6,935.8 L1224.1,935.9 L1224.6,935.9 L1225.1,936.1 L1225.6,936.2 L1226.1,936.1 L1226.6,935.9 L1227.1,935.8 L1227.6,935.8 L1228.1,935.8 L1228.6,935.9 L1229.1,935.9 L1229.6,935.7 L1230.1,935.3 L1230.6,934.9 L1231.1,934.6 L1231.6,934.3 L1232.1,934.3 L1232.6,934.4 L1233.1,934.6 L1233.6,934.4 L1234.1,934.2 L1234.6,933.7 L1235.1,933.7 L1235.6,933.6 L1236.1,933.5 L1236.6,933.3 L1237.1,933.2 L1237.6,933.2 L1238.1,933.2 L1238.6,933.3 L1239.1,933.4 L1239.6,933.5 L1240.1,933.5 L1240.6,933.5 L1241.1,933.7 L1241.6,933.7 L1242.1,934.0 L1242.6,934.1 L1243.1,934.3 L1243.6,934.4 L1244.1,934.5 L1244.6,934.6 L1245.1,934.8 L1245.6,935.1 L1246.1,935.4 L1246.6,935.5 L1247.1,935.6 L1247.6,935.6 L1248.1,935.9 L1248.6,936.1 L1249.1,936.4 L1249.6,936.4 L1250.1,936.3 L1250.6,936.0 L1251.1,936.0 L1251.6,936.1 L1252.1,936.2 L1252.6,936.1 L1253.1,935.8 L1253.6,935.5 L1254.1,935.2 L1254.6,935.3 L1255.1,935.3 L1255.6,935.3 L1256.1,935.3 L1256.6,935.3 L1257.1,935.2 L1257.6,934.9 L1258.1,934.8 L1258.6,934.8 L1259.1,934.7 L1259.6,934.4 L1260.1,934.1 L1260.6,933.8 L1261.1,933.7 L1261.6,933.4 L1262.1,933.0 L1262.6,932.6 L1263.1,932.1 L1263.6,931.7 L1264.1,931.4 L1264.6,931.4 L1265.1,931.4 L1265.6,931.4 L1266.1,931.1 L1266.6,931.1 L1267.1,931.0 L1267.6,931.3 L1268.1,931.5 L1268.6,931.8 L1269.1,932.0 L1269.6,932.2 L1270.1,932.3 L1270.6,932.5 L1271.1,932.6 L1271.6,933.0 L1272.1,933.3 L1272.6,933.6 L1273.1,933.7 L1273.6,933.7 L1274.1,933.7 L1274.6,934.0 L1275.1,934.5 L1275.6,934.9 L1276.1,935.1 L1276.6,935.3 L1277.1,935.5 L1277.6,935.5 L1278.1,935.5 L1278.6,935.6 L1279.1,936.0 L1279.6,936.4 L1280.1,936.6 L1280.6,936.5 L1281.1,936.5 L1281.6,936.6 L1282.1,936.8 L1282.6,936.7 L1283.1,936.5 L1283.6,936.3 L1284.1,936.2 L1284.6,936.2 L1285.1,936.1 L1285.6,936.1 L1286.1,936.0 L1286.6,936.1 L1287.1,936.2 L1287.6,936.2 L1288.1,936.3 L1288.6,936.4 L1289.1,936.6 L1289.6,936.5 L1290.1,936.5 L1290.6,936.4 L1291.1,936.4 L1291.6,936.3 L1292.1,936.4 L1292.6,936.3 L1293.1,936.3 L1293.6,936.4 L1294.1,936.7 L1294.6,936.9 L1295.1,936.9 L1295.6,937.0 L1296.1,937.0 L1296.6,937.0 L1297.1,936.9 L1297.6,937.0 L1298.1,937.2 L1298.6,937.4 L1299.1,937.3 L1299.6,937.2 L1300.1,937.0 L1300.6,936.9 L1301.1,936.8 L1301.6,936.9 L1302.1,937.0 L1302.6,936.9 L1303.1,936.8 L1303.6,936.7 L1304.1,936.8 L1304.6,936.9 L1305.1,936.9 L1305.6,936.7 L1306.1,936.6 L1306.6,936.6 L1307.1,936.9 L1307.6,937.1 L1308.1,937.2 L1308.6,937.0 L1309.1,936.9 L1309.6,936.7 L1310.1,936.8 L1310.6,937.0 L1311.1,937.0 L1311.6,937.0 L1312.1,937.1 L1312.6,937.3 L1313.1,937.2 L1313.6,936.9 L1314.1,936.5 L1314.6,936.4 L1315.1,936.6 L1315.6,936.6 L1316.1,936.8 L1316.6,937.0 L1317.1,937.2 L1317.6,937.1 L1318.1,937.1 L1318.6,937.1 L1319.1,937.1 L1319.6,937.0 L1320.1,936.8 L1320.6,936.8 L1321.1,936.8 L1321.6,936.6 L1322.1,936.5 L1322.6,936.4 L1323.1,936.6 L1323.6,936.9 L1324.1,937.1 L1324.6,937.0 L1325.1,936.9 L1325.6,936.7 L1326.1,936.6 L1326.6,936.2 L1327.1,936.1 L1327.6,935.9 L1328.1,936.0 L1328.6,936.2 L1329.1,936.5 L1329.6,936.8 L1330.1,936.9 L1330.6,937.0 L1331.1,937.0 L1331.6,937.0 L1332.1,937.0 L1332.6,937.1 L1333.1,937.0 L1333.6,936.8 L1334.1,936.7 L1334.6,936.8 L1335.1,936.9 L1335.6,936.8 L1336.1,936.6 L1336.6,936.5 L1337.1,936.5 L1337.6,936.5 L1338.1,936.5 L1338.6,936.4 L1339.1,936.2 L1339.6,936.1 L1340.1,935.9 L1340.6,936.0 L1341.1,936.1 L1341.6,936.3 L1342.1,936.3 L1342.6,936.2 L1343.1,936.0 L1343.6,936.0 L1344.1,936.0 L1344.6,935.8 L1345.1,935.6 L1345.6,935.4 L1346.1,935.3 L1346.6,935.2 L1347.1,934.9 L1347.6,934.6 L1348.1,934.4 L1348.6,934.2 L1349.1,934.0 L1349.6,933.5 L1350.1,933.1 L1350.6,932.8 L1351.1,932.5 L1351.6,932.2 L1352.1,931.8 L1352.6,931.5 L1353.1,931.3 L1353.6,931.3 L1354.1,931.4 L1354.6,931.4 L1355.1,931.2 L1355.6,931.2 L1356.1,931.1 L1356.6,931.3 L1357.1,931.2 L1357.6,931.3 L1358.1,931.4 L1358.6,931.5 L1359.1,931.6 L1359.6,931.8 L1360.1,932.3 L1360.6,932.5 L1361.1,932.7 L1361.6,932.9 L1362.1,933.2 L1362.6,933.5 L1363.1,933.5 L1363.6,933.7 L1364.1,934.0 L1364.6,934.3 L1365.1,934.6 L1365.6,934.9 L1366.1,935.4 L1366.6,935.7 L1367.1,935.8 L1367.6,935.7 L1368.1,935.5 L1368.6,935.4 L1369.1,935.7 L1369.6,936.0 L1370.1,936.3 L1370.6,936.3 L1371.1,936.4 L1371.6,936.3 L1372.1,936.6 L1372.6,936.7 L1373.1,937.0 L1373.6,937.0 L1374.1,936.9 L1374.6,936.8 L1375.1,936.7 L1375.6,936.9 L1376.1,936.8 L1376.6,936.7 L1377.1,936.4 L1377.6,936.4 L1378.1,936.5 L1378.6,936.5 L1379.1,936.4 L1379.6,936.4 L1380.1,936.6 L1380.6,936.8 L1381.1,937.0 L1381.6,937.1 L1382.1,937.1 L1382.6,937.1 L1383.1,937.2 L1383.6,937.2 L1384.1,937.3 L1384.6,937.0 L1385.1,936.8 L1385.6,936.5 L1386.1,936.6 L1386.6,936.6 L1387.1,936.7 L1387.6,936.7 L1388.1,936.6 L1388.6,936.6 L1389.1,936.6 L1389.6,936.8 L1390.1,937.1 L1390.6,937.1 L1391.1,937.0 L1391.6,936.8 L1392.1,936.9 L1392.6,937.2 L1393.1,937.3 L1393.6,937.4 L1394.1,937.3 L1394.6,937.2 L1395.1,937.2 L1395.6,937.2 L1396.1,937.1 L1396.6,937.1 L1397.1,937.3 L1397.6,937.2 L1398.1,937.0 L1398.6,936.7 L1399.1,936.6 L1399.6,936.8 L1400.1,937.2 L1400.6,937.3 L1401.1,937.3 L1401.6,937.2 L1402.1,937.1 L1402.6,937.1 L1403.1,937.1 L1403.6,937.1 L1404.1,936.9 L1404.6,936.8 L1405.1,936.7 L1405.6,936.8 L1406.1,936.9 L1406.6,937.0 L1407.1,937.1 L1407.6,937.2 L1408.1,937.3 L1408.6,937.3 L1409.1,937.2 L1409.6,937.1 L1410.1,936.9 L1410.6,936.9 L1411.1,936.9 L1411.6,937.0 L1412.1,936.8 L1412.6,936.8 L1413.1,936.9 L1413.6,937.3 L1414.1,937.5 L1414.6,937.6 L1415.1,937.5 L1415.6,937.7 L1416.1,937.7 L1416.6,937.7 L1417.1,937.3 L1417.6,937.1 L1418.1,936.8 L1418.6,936.8 L1419.1,936.7 L1419.6,936.8 L1420.1,936.9 L1420.6,937.2 L1421.1,937.4 L1421.6,937.3 L1422.1,937.1 L1422.6,936.7 L1423.1,936.6 L1423.6,936.5 L1424.1,936.8 L1424.6,937.1 L1425.1,937.3 L1425.6,937.4 L1426.1,937.3 L1426.6,937.2 L1427.1,937.2 L1427.6,937.2 L1428.1,937.4 L1428.6,937.4 L1429.1,937.3 L1429.6,937.0 L1430.1,936.7 L1430.6,936.6 L1431.1,936.7 L1431.6,936.8 L1432.1,936.8 L1432.6,936.8 L1433.1,936.9 L1433.6,937.2 L1434.1,937.3 L1434.6,937.4 L1435.1,937.3 L1435.6,937.3 L1436.1,937.2 L1436.6,937.1 L1437.1,936.9 L1437.6,936.8 L1438.1,937.0 L1438.6,937.2 L1439.1,937.3 L1439.6,937.1 L1440.1,937.1 L1440.6,937.1 L1441.1,937.2 L1441.6,937.0 L1442.1,936.9 L1442.6,937.1 L1443.1,937.4 L1443.6,937.6 L1444.1,937.4 L1444.6,937.2 L1445.1,937.1 L1445.6,937.2 L1446.1,937.2"/>
<path stroke="#F04848" d="M147.6,858.5 L148.1,858.5 L148.6,858.4 L149.1,858.3 L149.6,858.1 L150.1,858.1 L150.6,858.2 L151.1,858.3 L151.6,858.4 L152.1,858.3 L152.6,858.4 L153.1,858.5 L153.6,858.5 L154.1,858.4 L154.6,858.2 L155.1,858.3 L155.6,858.5 L156.1,858.7 L156.6,858.6 L157.1,858.4 L157.6,858.2 L158.1,858.2 L158.6,858.3 L159.1,858.4 L159.6,858.8 L160.1,858.7 L160.6,858.8 L161.1,858.4 L161.6,858.4 L162.1,858.1 L162.6,858.2 L163.1,858.1 L163.6,857.9 L164.1,857.8 L164.6,858.0 L165.1,858.4 L165.6,858.8 L166.1,858.7 L166.6,858.4 L167.1,858.3 L167.6,858.1 L168.1,858.0 L168.6,857.9 L169.1,858.1 L169.6,858.2 L170.1,858.3 L170.6,858.3 L171.1,858.4 L171.6,858.4 L172.1,858.3 L172.6,858.2 L173.1,858.0 L173.6,857.9 L174.1,857.9 L174.6,857.9 L175.1,857.9 L175.6,857.9 L176.1,858.1 L176.6,858.4 L177.1,858.6 L177.6,858.7 L178.1,858.4 L178.6,858.2 L179.1,857.9 L179.6,858.0 L180.1,858.0 L180.6,858.1 L181.1,858.2 L181.6,858.4 L182.1,858.5 L182.6,858.6 L183.1,858.5 L183.6,858.4 L184.1,858.3 L184.6,858.2 L185.1,858.0 L185.6,858.0 L186.1,858.0 L186.6,858.0 L187.1,857.9 L187.6,857.5 L188.1,857.3 L188.6,857.2 L189.1,857.5 L189.6,857.7 L190.1,857.9 L190.6,857.8 L191.1,857.8 L191.6,857.8 L192.1,857.9 L192.6,858.0 L193.1,857.9 L193.6,857.9 L194.1,858.0 L194.6,858.0 L195.1,858.0 L195.6,857.8 L196.1,857.7 L196.6,857.7 L197.1,857.9 L197.6,858.0 L198.1,858.1 L198.6,858.1 L199.1,858.1 L199.6,858.1 L200.1,857.9 L200.6,857.8 L201.1,857.7 L201.6,857.8 L202.1,858.0 L202.6,858.0 L203.1,857.8 L203.6,857.4 L204.1,857.3 L204.6,857.5 L205.1,857.8 L205.6,858.0 L206.1,857.9 L206.6,857.8 L207.1,857.8 L207.6,858.0 L208.1,857.9 L208.6,857.7 L209.1,857.6 L209.6,857.7 L210.1,857.9 L210.6,857.9 L211.1,857.7 L211.6,857.5 L212.1,857.3 L212.6,857.4 L213.1,857.3 L213.6,857.3 L214.1,857.3 L214.6,857.6 L215.1,857.8 L215.6,857.8 L216.1,857.6 L216.6,857.4 L217.1,857.1 L217.6,857.0 L218.1,857.1 L218.6,857.2 L219.1,857.2 L219.6,857.3 L220.1,857.4 L220.6,857.6 L221.1,857.8 L221.6,858.0 L222.1,858.0 L222.6,857.8 L223.1,857.6 L223.6,857.6 L224.1,857.7 L224.6,857.8 L225.1,857.6 L225.6,857.5 L226.1,857.4 L226.6,857.4 L227.1,857.4 L227.6,857.4 L228.1,857.3 L228.6,857.1 L229.1,857.0 L229.6,857.1 L230.1,857.1 L230.6,857.1 L231.1,857.0 L231.6,857.0 L232.1,857.0 L232.6,857.3 L233.1,857.6 L233.6,858.0 L234.1,858.0 L234.6,858.0 L235.1,857.8 L235.6,857.7 L236.1,857.4 L236.6,857.2 L237.1,857.1 L237.6,857.2 L238.1,857.3 L238.6,857.2 L239.1,857.1 L239.6,857.0 L240.1,856.9 L240.6,857.0 L241.1,856.9 L241.6,857.0 L242.1,856.8 L242.6,857.0 L243.1,857.1 L243.6,857.3 L244.1,857.2 L244.6,857.1 L245.1,857.1 L245.6,857.2 L246.1,857.2 L246.6,857.0 L247.1,856.9 L247.6,857.0 L248.1,857.3 L248.6,857.5 L249.1,857.4 L249.6,857.0 L250.1,856.8 L250.6,856.9 L251.1,857.2 L251.6,857.3 L252.1,857.4 L252.6,857.3 L253.1,857.1 L253.6,856.9 L254.1,856.8 L254.6,856.9 L255.1,857.0 L255.6,857.1 L256.1,856.9 L256.6,857.0 L257.1,857.0 L257.6,857.0 L258.1,856.8 L258.6,856.6 L259.1,856.7 L259.6,857.0 L260.1,857.4 L260.6,857.4 L261.1,857.2 L261.6,856.9 L262.1,857.0 L262.6,857.2 L263.1,857.6 L263.6,857.6 L264.1,857.4 L264.6,856.9 L265.1,856.6 L265.6,856.4 L266.1,856.6 L266.6,856.7 L267.1,856.9 L267.6,856.9 L268.1,856.9 L268.6,856.8 L269.1,856.8 L269.6,856.8 L270.1,856.5 L270.6,856.5 L271.1,856.4 L271.6,856.4 L272.1,856.6 L272.6,856.8 L273.1,856.9 L273.6,856.7 L274.1,856.5 L274.6,856.3 L275.1,856.4 L275.6,856.4 L276.1,856.5 L276.6,856.5 L277.1,856.5 L277.6,856.5 L278.1,856.5 L278.6,856.6 L279.1,856.6 L279.6,856.5 L280.1,856.5 L280.6,856.4 L281.1,856.4 L281.6,856.5 L282.1,856.5 L282.6,856.3 L283.1,856.1 L283.6,856.2 L284.1,856.3 L284.6,856.3 L285.1,856.3 L285.6,856.2 L286.1,856.1 L286.6,856.3 L287.1,856.3 L287.6,856.2 L288.1,856.0 L288.6,856.0 L289.1,856.1 L289.6,856.2 L290.1,856.3 L290.6,856.3 L291.1,856.2 L291.6,856.1 L292.1,856.4 L292.6,856.6 L293.1,856.7 L293.6,856.7 L294.1,856.5 L294.6,856.4 L295.1,856.1 L295.6,856.1 L296.1,856.2 L296.6,856.4 L297.1,856.4 L297.6,856.2 L298.1,856.1 L298.6,856.1 L299.1,856.2 L299.6,856.3 L300.1,856.3 L300.6,856.3 L301.1,856.3 L301.6,856.2 L302.1,855.9 L302.6,855.8 L303.1,855.8 L303.6,855.8 L304.1,855.6 L304.6,855.5 L305.1,855.5 L305.6,855.8 L306.1,855.9 L306.6,856.1 L307.1,856.1 L307.6,856.2 L308.1,856.2 L308.6,856.1 L309.1,855.9 L309.6,855.6 L310.1,855.5 L310.6,855.3 L311.1,855.3 L311.6,855.3 L312.1,855.4 L312.6,855.4 L313.1,855.4 L313.6,855.2 L314.1,855.3 L314.6,855.2 L315.1,855.3 L315.6,855.2 L316.1,855.4 L316.6,855.5 L317.1,855.5 L317.6,855.2 L318.1,855.2 L318.6,855.2 L319.1,855.4 L319.6,855.4 L320.1,855.6 L320.6,855.6 L321.1,855.4 L321.6,855.2 L322.1,855.1 L322.6,855.0 L323.1,855.0 L323.6,855.0 L324.1,855.0 L324.6,855.0 L325.1,855.0 L325.6,855.0 L326.1,855.0 L326.6,855.0 L327.1,854.8 L327.6,854.9 L328.1,854.9 L328.6,854.9 L329.1,854.9 L329.6,855.0 L330.1,855.0 L330.6,854.9 L331.1,854.8 L331.6,854.8 L332.1,855.0 L332.6,855.0 L333.1,855.1 L333.6,855.1 L334.1,855.1 L334.6,854.9 L335.1,855.0 L335.6,855.0 L336.1,855.0 L336.6,854.8 L337.1,854.7 L337.6,854.5 L338.1,854.4 L338.6,854.3 L339.1,854.3 L339.6,854.4 L340.1,854.4 L340.6,854.3 L341.1,854.0 L341.6,854.0 L342.1,853.9 L342.6,854.0 L343.1,854.1 L343.6,854.4 L344.1,854.5 L344.6,854.6 L345.1,854.6 L345.6,854.6 L346.1,854.6 L346.6,854.6 L347.1,854.5 L347.6,854.6 L348.1,854.7 L348.6,854.7 L349.1,854.5 L349.6,854.3 L350.1,854.2 L350.6,854.3 L351.1,854.3 L351.6,854.2 L352.1,853.9 L352.6,853.9 L353.1,854.0 L353.6,854.3 L354.1,854.5 L354.6,854.5 L355.1,854.4 L355.6,854.3 L356.1,854.3 L356.6,854.2 L357.1,854.2 L357.6,854.3 L358.1,854.3 L358.6,854.2 L359.1,854.0 L359.6,853.9 L360.1,853.9 L360.6,853.9 L361.1,853.7 L361.6,853.8 L362.1,854.0 L362.6,854.2 L363.1,854.0 L363.6,854.0 L364.1,853.9 L364.6,854.0 L365.1,854.0 L365.6,854.0 L366.1,854.0 L366.6,854.1 L367.1,854.1 L367.6,854.1 L368.1,854.0 L368.6,853.9 L369.1,854.0 L369.6,854.1 L370.1,854.3 L370.6,854.3 L371.1,854.3 L371.6,854.0 L372.1,853.9 L372.6,853.8 L373.1,853.8 L373.6,853.7 L374.1,853.9 L374.6,854.1 L375.1,854.3 L375.6,854.3 L376.1,854.2 L376.6,853.9 L377.1,853.9 L377.6,853.9 L378.1,854.2 L378.6,854.5 L379.1,854.6 L379.6,854.4 L380.1,854.2 L380.6,854.1 L381.1,854.0 L381.6,853.9 L382.1,853.6 L382.6,853.6 L383.1,853.5 L383.6,853.7 L384.1,853.7 L384.6,853.6 L385.1,853.5 L385.6,853.7 L386.1,853.9 L386.6,853.8 L387.1,853.5 L387.6,853.3 L388.1,853.3 L388.6,853.5 L389.1,853.6 L389.6,853.7 L390.1,853.7 L390.6,853.7 L391.1,853.5 L391.6,853.5 L392.1,853.5 L392.6,853.6 L393.1,853.4 L393.6,853.3 L394.1,853.2 L394.6,853.3 L395.1,853.4 L395.6,853.5 L396.1,853.3 L396.6,853.2 L397.1,853.0 L397.6,853.1 L398.1,853.4 L398.6,853.6 L399.1,853.5 L399.6,853.2 L400.1,853.0 L400.6,852.9 L401.1,852.9 L401.6,852.9 L402.1,853.1 L402.6,853.2 L403.1,853.4 L403.6,853.3 L404.1,853.2 L404.6,853.2 L405.1,853.3 L405.6,853.2 L406.1,852.9 L406.6,852.7 L407.1,852.6 L407.6,852.6 L408.1,852.6 L408.6,852.6 L409.1,852.6 L409.6,852.6 L410.1,852.3 L410.6,851.9 L411.1,851.5 L411.6,851.4 L412.1,851.4 L412.6,851.5 L413.1,851.4 L413.6,851.5 L414.1,851.6 L414.6,851.6 L415.1,851.5 L415.6,851.2 L416.1,850.8 L416.6,850.4 L417.1,850.1 L417.6,849.9 L418.1,849.5 L418.6,849.1 L419.1,848.6 L419.6,848.3 L420.1,847.7 L420.6,846.9 L421.1,845.9 L421.6,845.0 L422.1,844.0 L422.6,842.8 L423.1,841.4 L423.6,839.7 L424.1,837.8 L424.6,835.8 L425.1,833.5 L425.6,830.9 L426.1,827.8 L426.6,824.2 L427.1,820.4 L427.6,816.2 L428.1,812.0 L428.6,807.4 L429.1,803.0 L429.6,798.6 L430.1,795.0 L430.6,792.2 L431.1,790.4 L431.6,789.6 L432.1,790.1 L432.6,791.9 L433.1,795.0 L433.6,799.1 L434.1,803.6 L434.6,808.1 L435.1,812.3 L435.6,816.6 L436.1,820.8 L436.6,824.7 L437.1,827.9 L437.6,830.7 L438.1,833.4 L438.6,836.0 L439.1,838.5 L439.6,840.4 L440.1,842.1 L440.6,843.6 L441.1,844.9 L441.6,845.9 L442.1,846.8 L442.6,847.6 L443.1,848.2 L443.6,848.7 L444.1,849.3 L444.6,850.1 L445.1,850.6 L445.6,850.8 L446.1,850.8 L446.6,851.1 L447.1,851.6 L447.6,852.0 L448.1,852.3 L448.6,852.5 L449.1,853.0 L449.6,853.3 L450.1,853.3 L450.6,853.1 L451.1,853.1 L451.6,853.4 L452.1,853.7 L452.6,853.9 L453.1,853.7 L453.6,853.7 L454.1,853.8 L454.6,853.9 L455.1,853.9 L455.6,854.0 L456.1,854.2 L456.6,854.5 L457.1,854.7 L457.6,854.8 L458.1,854.8 L458.6,854.8 L459.1,854.8 L459.6,854.8 L460.1,854.7 L460.6,854.6 L461.1,854.8 L461.6,855.1 L462.1,855.2 L462.6,855.2 L463.1,855.0 L463.6,855.1 L464.1,855.1 L464.6,855.3 L465.1,855.5 L465.6,855.5 L466.1,855.5 L466.6,855.5 L467.1,855.5 L467.6,855.7 L468.1,855.8 L468.6,855.9 L469.1,855.7 L469.6,855.5 L470.1,855.4 L470.6,855.5 L471.1,855.4 L471.6,855.5 L472.1,855.6 L472.6,855.6 L473.1,855.4 L473.6,855.1 L474.1,854.9 L474.6,854.8 L475.1,854.8 L475.6,854.9 L476.1,854.8 L476.6,854.9 L477.1,854.8 L477.6,854.8 L478.1,854.6 L478.6,854.6 L479.1,854.5 L479.6,854.5 L480.1,854.5 L480.6,854.5 L481.1,854.4 L481.6,854.3 L482.1,854.0 L482.6,853.8 L483.1,853.7 L483.6,853.6 L484.1,853.4 L484.6,853.1 L485.1,852.8 L485.6,852.8 L486.1,852.9 L486.6,853.1 L487.1,853.0 L487.6,852.9 L488.1,852.6 L488.6,852.3 L489.1,852.2 L489.6,852.2 L490.1,852.4 L490.6,852.5 L491.1,852.7 L491.6,852.6 L492.1,852.4 L492.6,852.3 L493.1,852.5 L493.6,852.4 L494.1,852.5 L494.6,852.8 L495.1,853.5 L495.6,854.1 L496.1,854.6 L496.6,854.9 L497.1,855.0 L497.6,855.0 L498.1,854.7 L498.6,854.7 L499.1,854.8 L499.6,855.0 L500.1,855.3 L500.6,855.6 L501.1,855.9 L501.6,855.9 L502.1,855.9 L502.6,855.8 L503.1,856.0 L503.6,856.3 L504.1,856.6 L504.6,856.7 L505.1,856.8 L505.6,856.8 L506.1,857.0 L506.6,857.1 L507.1,857.2 L507.6,857.4 L508.1,857.6 L508.6,857.8 L509.1,857.9 L509.6,858.0 L510.1,858.0 L510.6,857.9 L511.1,857.8 L511.6,857.7 L512.1,857.9 L512.6,858.0 L513.1,858.3 L513.6,858.3 L514.1,858.4 L514.6,858.3 L515.1,858.3 L515.6,858.2 L516.1,858.2 L516.6,858.1 L517.1,858.2 L517.6,858.4 L518.1,858.7 L518.6,858.6 L519.1,858.5 L519.6,858.4 L520.1,858.5 L520.6,858.7 L521.1,858.9 L521.6,858.8 L522.1,858.7 L522.6,858.5 L523.1,858.7 L523.6,858.8 L524.1,859.0 L524.6,858.7 L525.1,858.6 L525.6,858.6 L526.1,858.7 L526.6,858.7 L527.1,858.6 L527.6,858.6 L528.1,858.6 L528.6,858.7 L529.1,858.8 L529.6,858.7 L530.1,858.8 L530.6,858.9 L531.1,859.1 L531.6,859.2 L532.1,859.2 L532.6,859.1 L533.1,859.1 L533.6,859.0 L534.1,859.2 L534.6,859.2 L535.1,859.2 L535.6,859.2 L536.1,859.1 L536.6,859.2 L537.1,859.1 L537.6,859.3 L538.1,859.3 L538.6,859.3 L539.1,859.2 L539.6,859.1 L540.1,859.0 L540.6,858.9 L541.1,859.0 L541.6,859.1 L542.1,859.2 L542.6,859.3 L543.1,859.5 L543.6,859.7 L544.1,859.8 L544.6,859.7 L545.1,859.5 L545.6,859.3 L546.1,859.3 L546.6,859.6 L547.1,859.8 L547.6,859.7 L548.1,859.4 L548.6,859.2 L549.1,859.2 L549.6,859.4 L550.1,859.7 L550.6,859.7 L551.1,859.7 L551.6,859.6 L552.1,859.5 L552.6,859.3 L553.1,859.3 L553.6,859.3 L554.1,859.5 L554.6,859.5 L555.1,859.3 L555.6,859.2 L556.1,859.2 L556.6,859.4 L557.1,859.5 L557.6,859.5 L558.1,859.4 L558.6,859.4 L559.1,859.4 L559.6,859.8 L560.1,860.0 L560.6,860.1 L561.1,859.9 L561.6,859.8 L562.1,859.9 L562.6,860.1 L563.1,860.1 L563.6,860.0 L564.1,860.0 L564.6,860.0 L565.1,860.0 L565.6,859.9 L566.1,860.0 L566.6,859.9 L567.1,859.8 L567.6,859.6 L568.1,859.4 L568.6,859.2 L569.1,859.1 L569.6,859.3 L570.1,859.3 L570.6,859.5 L571.1,859.4 L571.6,859.4 L572.1,859.4 L572.6,859.4 L573.1,859.4 L573.6,859.4 L574.1,859.6 L574.6,859.9 L575.1,860.1 L575.6,860.1 L576.1,860.0 L576.6,860.0 L577.1,860.0 L577.6,860.1 L578.1,860.0 L578.6,860.0 L579.1,859.8 L579.6,859.7 L580.1,859.7 L580.6,859.9 L581.1,860.0 L581.6,860.1 L582.1,860.0 L582.6,859.8 L583.1,859.6 L583.6,859.5 L584.1,859.3 L584.6,859.5 L585.1,859.7 L585.6,860.1 L586.1,860.2 L586.6,860.2 L587.1,860.1 L587.6,860.0 L588.1,859.9 L588.6,859.8 L589.1,859.8 L589.6,859.7 L590.1,859.6 L590.6,859.7 L591.1,860.0 L591.6,860.2 L592.1,860.3 L592.6,860.2 L593.1,860.0 L593.6,859.8 L594.1,859.8 L594.6,860.0 L595.1,860.2 L595.6,860.4 L596.1,860.4 L596.6,860.3 L597.1,860.1 L597.6,860.1 L598.1,860.2 L598.6,860.5 L599.1,860.5 L599.6,860.2 L600.1,859.8 L600.6,859.6 L601.1,859.6 L601.6,859.8 L602.1,859.9 L602.6,860.1 L603.1,860.1 L603.6,860.3 L604.1,860.3 L604.6,860.3 L605.1,860.3 L605.6,860.3 L606.1,860.2 L606.6,860.1 L607.1,860.1 L607.6,860.1 L608.1,860.1 L608.6,860.1 L609.1,860.0 L609.6,860.1 L610.1,860.2 L610.6,860.3 L611.1,860.4 L611.6,860.4 L612.1,860.4 L612.6,860.4 L613.1,860.2 L613.6,859.9 L614.1,859.6 L614.6,859.5 L615.1,859.6 L615.6,859.8 L616.1,859.9 L616.6,860.0 L617.1,860.0 L617.6,860.0 L618.1,860.1 L618.6,860.1 L619.1,860.0 L619.6,859.8 L620.1,859.8 L620.6,859.9 L621.1,860.0 L621.6,860.0 L622.1,860.1 L622.6,860.0 L623.1,859.9 L623.6,859.6 L624.1,859.5 L624.6,859.5 L625.1,859.7 L625.6,859.9 L626.1,859.9 L626.6,859.9 L627.1,859.9 L627.6,859.8 L628.1,859.6 L628.6,859.6 L629.1,859.6 L629.6,859.7 L630.1,859.6 L630.6,859.6 L631.1,859.6 L631.6,859.7 L632.1,859.6 L632.6,859.5 L633.1,859.4 L633.6,859.3 L634.1,859.3 L634.6,859.1 L635.1,859.0 L635.6,858.8 L636.1,858.8 L636.6,858.8 L637.1,858.9 L637.6,858.7 L638.1,858.2 L638.6,857.9 L639.1,857.7 L639.6,857.7 L640.1,857.4 L640.6,857.3 L641.1,857.1 L641.6,857.1 L642.1,857.1 L642.6,857.2 L643.1,856.8 L643.6,856.3 L644.1,855.7 L644.6,855.6 L645.1,855.6 L645.6,855.7 L646.1,855.4 L646.6,855.2 L647.1,854.8 L647.6,854.5 L648.1,854.2 L648.6,854.2 L649.1,854.4 L649.6,854.8 L650.1,854.8 L650.6,854.8 L651.1,854.7 L651.6,854.7 L652.1,854.7 L652.6,854.7 L653.1,854.8 L653.6,855.0 L654.1,855.2 L654.6,855.1 L655.1,854.8 L655.6,854.7 L656.1,854.5 L656.6,854.6 L657.1,854.3 L657.6,854.1 L658.1,853.5 L658.6,853.0 L659.1,852.7 L659.6,852.7 L660.1,852.7 L660.6,852.3 L661.1,851.6 L661.6,850.7 L662.1,849.9 L662.6,849.4 L663.1,849.3 L663.6,849.3 L664.1,849.6 L664.6,849.6 L665.1,849.6 L665.6,849.9 L666.1,850.4 L666.6,851.1 L667.1,851.5 L667.6,851.9 L668.1,852.4 L668.6,853.1 L669.1,853.3 L669.6,853.5 L670.1,853.6 L670.6,854.0 L671.1,854.5 L671.6,854.4 L672.1,854.1 L672.6,853.7 L673.1,853.7 L673.6,853.7 L674.1,853.9 L674.6,853.9 L675.1,854.0 L675.6,854.0 L676.1,854.0 L676.6,853.8 L677.1,853.7 L677.6,853.6 L678.1,853.6 L678.6,853.7 L679.1,854.2 L679.6,854.6 L680.1,854.9 L680.6,855.2 L681.1,855.6 L681.6,856.0 L682.1,856.0 L682.6,856.0 L683.1,856.2 L683.6,856.5 L684.1,857.0 L684.6,857.3 L685.1,857.4 L685.6,857.5 L686.1,857.6 L686.6,857.8 L687.1,858.1 L687.6,858.4 L688.1,858.7 L688.6,858.9 L689.1,859.0 L689.6,859.1 L690.1,859.2 L690.6,859.4 L691.1,859.4 L691.6,859.5 L692.1,859.4 L692.6,859.6 L693.1,859.6 L693.6,859.7 L694.1,859.6 L694.6,859.7 L695.1,859.6 L695.6,859.5 L696.1,859.5 L696.6,859.6 L697.1,859.7 L697.6,859.8 L698.1,859.9 L698.6,859.9 L699.1,859.9 L699.6,859.8 L700.1,859.9 L700.6,860.1 L701.1,860.1 L701.6,860.2 L702.1,860.3 L702.6,860.5 L703.1,860.4 L703.6,860.3 L704.1,860.0 L704.6,860.1 L705.1,860.4 L705.6,860.7 L706.1,860.8 L706.6,860.6 L707.1,860.5 L707.6,860.4 L708.1,860.3 L708.6,860.2 L709.1,860.4 L709.6,860.6 L710.1,860.9 L710.6,860.8 L711.1,860.7 L711.6,860.6 L712.1,860.5 L712.6,860.4 L713.1,860.4 L713.6,860.6 L714.1,860.7 L714.6,860.7 L715.1,860.5 L715.6,860.2 L716.1,860.1 L716.6,860.1 L717.1,860.1 L717.6,860.1 L718.1,860.1 L718.6,860.2 L719.1,860.1 L719.6,860.0 L720.1,859.9 L720.6,859.9 L721.1,860.0 L721.6,860.1 L722.1,860.2 L722.6,860.3 L723.1,860.4 L723.6,860.4 L724.1,860.4 L724.6,860.4 L725.1,860.4 L725.6,860.2 L726.1,860.1 L726.6,860.0 L727.1,859.9 L727.6,859.8 L728.1,859.8 L728.6,860.0 L729.1,860.3 L729.6,860.7 L730.1,860.9 L730.6,861.0 L731.1,860.7 L731.6,860.5 L732.1,860.3 L732.6,860.3 L733.1,860.2 L733.6,860.1 L734.1,860.1 L734.6,860.2 L735.1,860.3 L735.6,860.5 L736.1,860.6 L736.6,860.6 L737.1,860.2 L737.6,860.0 L738.1,860.0 L738.6,860.3 L739.1,860.7 L739.6,860.8 L740.1,860.7 L740.6,860.6 L741.1,860.6 L741.6,860.7 L742.1,860.6 L742.6,860.7 L743.1,860.6 L743.6,860.4 L744.1,860.3 L744.6,860.3 L745.1,860.4 L745.6,860.6 L746.1,860.7 L746.6,860.6 L747.1,860.4 L747.6,860.1 L748.1,859.9 L748.6,859.7 L749.1,859.6 L749.6,859.9 L750.1,860.4 L750.6,860.8 L751.1,860.9 L751.6,860.9 L752.1,860.6 L752.6,860.6 L753.1,860.5 L753.6,860.5 L754.1,860.4 L754.6,860.3 L755.1,860.5 L755.6,860.6 L756.1,860.9 L756.6,860.6 L757.1,860.3 L757.6,860.1 L758.1,860.1 L758.6,860.2 L759.1,860.2 L759.6,860.2 L760.1,860.4 L760.6,860.6 L761.1,860.6 L761.6,860.5 L762.1,860.3 L762.6,860.4 L763.1,860.6 L763.6,860.8 L764.1,860.7 L764.6,860.4 L765.1,860.2 L765.6,860.3 L766.1,860.5 L766.6,860.6 L767.1,860.4 L767.6,860.1 L768.1,859.8 L768.6,859.7 L769.1,859.9 L769.6,860.1 L770.1,860.3 L770.6,860.3 L771.1,860.3 L771.6,860.3 L772.1,860.1 L772.6,860.1 L773.1,860.2 L773.6,860.6 L774.1,860.9 L774.6,860.9 L775.1,860.6 L775.6,860.4 L776.1,860.5 L776.6,860.5 L777.1,860.6 L777.6,860.3 L778.1,860.2 L778.6,860.0 L779.1,860.1 L779.6,860.2 L780.1,860.3 L780.6,860.3 L781.1,860.2 L781.6,860.2 L782.1,860.1 L782.6,859.9 L783.1,859.7 L783.6,859.5 L784.1,859.5 L784.6,859.6 L785.1,860.0 L785.6,860.3 L786.1,860.7 L786.6,860.7 L787.1,860.7 L787.6,860.5 L788.1,860.6 L788.6,860.5 L789.1,860.6 L789.6,860.4 L790.1,860.3 L790.6,860.1 L791.1,860.1 L791.6,860.3 L792.1,860.4 L792.6,860.3 L793.1,860.3 L793.6,860.3 L794.1,860.3 L794.6,860.2 L795.1,860.0 L795.6,860.1 L796.1,860.4 L796.6,860.7 L797.1,860.8 L797.6,860.6 L798.1,860.5 L798.6,860.3 L799.1,860.3 L799.6,860.2 L800.1,860.1 L800.6,860.1 L801.1,860.1 L801.6,860.1 L802.1,859.9 L802.6,859.7 L803.1,859.8 L803.6,860.0 L804.1,860.3 L804.6,860.4 L805.1,860.5 L805.6,860.5 L806.1,860.4 L806.6,860.3 L807.1,860.3 L807.6,860.3 L808.1,860.3 L808.6,860.1 L809.1,859.9 L809.6,859.9 L810.1,860.1 L810.6,860.6 L811.1,860.5 L811.6,860.3 L812.1,859.9 L812.6,859.7 L813.1,859.5 L813.6,859.5 L814.1,859.4 L814.6,859.6 L815.1,859.7 L815.6,859.8 L816.1,859.8 L816.6,859.7 L817.1,859.7 L817.6,859.7 L818.1,859.8 L818.6,859.7 L819.1,859.5 L819.6,859.2 L820.1,859.1 L820.6,859.0 L821.1,858.9 L821.6,858.6 L822.1,858.3 L822.6,858.2 L823.1,858.4 L823.6,858.7 L824.1,858.9 L824.6,859.0 L825.1,858.9 L825.6,858.6 L826.1,858.2 L826.6,857.9 L827.1,857.6 L827.6,857.6 L828.1,857.5 L828.6,857.5 L829.1,857.6 L829.6,857.6 L830.1,857.4 L830.6,857.2 L831.1,857.0 L831.6,856.8 L832.1,856.7 L832.6,856.6 L833.1,856.5 L833.6,856.4 L834.1,856.2 L834.6,856.2 L835.1,856.0 L835.6,855.8 L836.1,855.3 L836.6,854.9 L837.1,854.6 L837.6,854.5 L838.1,854.6 L838.6,854.3 L839.1,854.2 L839.6,854.1 L840.1,854.2 L840.6,854.1 L841.1,853.9 L841.6,853.5 L842.1,853.2 L842.6,853.0 L843.1,853.0 L843.6,852.8 L844.1,852.5 L844.6,852.0 L845.1,851.6 L845.6,851.2 L846.1,851.0 L846.6,850.6 L847.1,850.3 L847.6,849.7 L848.1,848.9 L848.6,847.8 L849.1,846.6 L849.6,845.4 L850.1,844.3 L850.6,843.2 L851.1,842.2 L851.6,841.0 L852.1,839.7 L852.6,838.5 L853.1,837.6 L853.6,836.9 L854.1,836.6 L854.6,836.3 L855.1,836.5 L855.6,837.0 L856.1,838.0 L856.6,839.3 L857.1,840.6 L857.6,842.0 L858.1,843.4 L858.6,844.8 L859.1,846.3 L859.6,847.9 L860.1,849.3 L860.6,850.6 L861.1,851.6 L861.6,852.4 L862.1,852.9 L862.6,853.4 L863.1,854.1 L863.6,854.9 L864.1,855.6 L864.6,856.1 L865.1,856.3 L865.6,856.5 L866.1,856.8 L866.6,857.1 L867.1,857.3 L867.6,857.5 L868.1,857.8 L868.6,858.0 L869.1,858.3 L869.6,858.4 L870.1,858.5 L870.6,858.5 L871.1,858.5 L871.6,858.6 L872.1,858.7 L872.6,858.8 L873.1,858.9 L873.6,859.1 L874.1,859.3 L874.6,859.2 L875.1,859.0 L875.6,858.9 L876.1,859.2 L876.6,859.5 L877.1,859.6 L877.6,859.7 L878.1,859.8 L878.6,860.0 L879.1,860.1 L879.6,859.9 L880.1,859.8 L880.6,859.7 L881.1,859.9 L881.6,859.9 L882.1,859.9 L882.6,859.8 L883.1,859.9 L883.6,860.1 L884.1,860.1 L884.6,860.0 L885.1,859.8 L885.6,859.7 L886.1,859.8 L886.6,859.9 L887.1,860.1 L887.6,860.0 L888.1,859.9 L888.6,859.9 L889.1,859.9 L889.6,860.0 L890.1,860.1 L890.6,860.3 L891.1,860.3 L891.6,860.4 L892.1,860.3 L892.6,860.3 L893.1,860.2 L893.6,860.2 L894.1,859.8 L894.6,859.6 L895.1,859.5 L895.6,859.8 L896.1,860.1 L896.6,860.3 L897.1,860.2 L897.6,860.2 L898.1,860.2 L898.6,860.6 L899.1,860.6 L899.6,860.7 L900.1,860.6 L900.6,860.5 L901.1,860.4 L901.6,860.3 L902.1,860.1 L902.6,860.0 L903.1,859.9 L903.6,859.9 L904.1,860.0 L904.6,860.2 L905.1,860.2 L905.6,860.2 L906.1,860.2 L906.6,860.3 L907.1,860.4 L907.6,860.4 L908.1,860.5 L908.6,860.6 L909.1,860.6 L909.6,860.5 L910.1,860.3 L910.6,860.1 L911.1,860.1 L911.6,860.3 L912.1,860.5 L912.6,860.6 L913.1,860.5 L913.6,860.3 L914.1,860.1 L914.6,860.1 L915.1,859.9 L915.6,860.0 L916.1,860.0 L916.6,860.2 L917.1,860.3 L917.6,860.3 L918.1,860.1 L918.6,859.9 L919.1,859.9 L919.6,860.1 L920.1,860.3 L920.6,860.3 L921.1,860.4 L921.6,860.6 L922.1,860.7 L922.6,860.4 L923.1,860.3 L923.6,860.2 L924.1,860.4 L924.6,860.3 L925.1,860.2 L925.6,860.1 L926.1,860.2 L926.6,860.2 L927.1,860.1 L927.6,860.1 L928.1,860.2 L928.6,860.5 L929.1,860.9 L929.6,861.0 L930.1,860.9 L930.6,860.6 L931.1,860.5 L931.6,860.3 L932.1,860.2 L932.6,860.0 L933.1,860.3 L933.6,860.5 L934.1,860.7 L934.6,860.6 L935.1,860.3 L935.6,860.2 L936.1,860.1 L936.6,860.2 L937.1,859.9 L937.6,859.7 L938.1,859.7 L938.6,859.9 L939.1,860.2 L939.6,860.3 L940.1,860.4 L940.6,860.3 L941.1,860.3 L941.6,860.0 L942.1,860.1 L942.6,860.1 L943.1,860.4 L943.6,860.3 L944.1,860.2 L944.6,860.0 L945.1,859.8 L945.6,859.7 L946.1,859.6 L946.6,859.7 L947.1,859.6 L947.6,859.3 L948.1,859.0 L948.6,858.8 L949.1,859.0 L949.6,859.1 L950.1,859.1 L950.6,858.9 L951.1,858.9 L951.6,858.7 L952.1,858.4 L952.6,858.0 L953.1,857.7 L953.6,857.5 L954.1,857.3 L954.6,857.0 L955.1,856.6 L955.6,856.2 L956.1,855.9 L956.6,855.6 L957.1,855.4 L957.6,855.0 L958.1,854.7 L958.6,854.3 L959.1,853.7 L959.6,853.0 L960.1,852.3 L960.6,851.9 L961.1,851.7 L961.6,851.6 L962.1,851.5 L962.6,851.5 L963.1,851.4 L963.6,851.5 L964.1,851.5 L964.6,851.7 L965.1,851.8 L965.6,852.2 L966.1,852.7 L966.6,853.2 L967.1,853.6 L967.6,854.0 L968.1,854.5 L968.6,854.9 L969.1,855.1 L969.6,855.2 L970.1,855.4 L970.6,855.8 L971.1,856.4 L971.6,857.0 L972.1,857.3 L972.6,857.4 L973.1,857.3 L973.6,857.2 L974.1,857.0 L974.6,857.0 L975.1,856.9 L975.6,856.7 L976.1,856.6 L976.6,856.5 L977.1,856.5 L977.6,856.5 L978.1,856.3 L978.6,855.9 L979.1,855.2 L979.6,854.4 L980.1,853.4 L980.6,852.8 L981.1,852.2 L981.6,851.9 L982.1,851.3 L982.6,850.6 L983.1,850.0 L983.6,849.6 L984.1,849.4 L984.6,849.2 L985.1,849.2 L985.6,849.4 L986.1,849.7 L986.6,850.1 L987.1,850.3 L987.6,850.9 L988.1,851.5 L988.6,852.3 L989.1,853.0 L989.6,853.5 L990.1,853.9 L990.6,854.5 L991.1,855.0 L991.6,855.4 L992.1,855.7 L992.6,856.0 L993.1,856.1 L993.6,856.4 L994.1,856.8 L994.6,857.4 L995.1,857.6 L995.6,857.5 L996.1,857.2 L996.6,857.0 L997.1,856.8 L997.6,856.8 L998.1,857.1 L998.6,857.4 L999.1,857.6 L999.6,857.5 L1000.1,857.6 L1000.6,857.5 L1001.1,857.4 L1001.6,857.2 L1002.1,857.3 L1002.6,857.3 L1003.1,857.2 L1003.6,857.1 L1004.1,857.1 L1004.6,857.0 L1005.1,856.9 L1005.6,856.9 L1006.1,857.0 L1006.6,857.3 L1007.1,857.5 L1007.6,857.6 L1008.1,857.7 L1008.6,857.7 L1009.1,857.7 L1009.6,857.8 L1010.1,858.2 L1010.6,858.5 L1011.1,859.0 L1011.6,859.1 L1012.1,859.1 L1012.6,858.7 L1013.1,858.6 L1013.6,858.7 L1014.1,859.0 L1014.6,859.5 L1015.1,859.9 L1015.6,859.9 L1016.1,859.7 L1016.6,859.4 L1017.1,859.5 L1017.6,859.8 L1018.1,860.0 L1018.6,860.0 L1019.1,860.0 L1019.6,860.0 L1020.1,860.0 L1020.6,860.0 L1021.1,859.9 L1021.6,860.0 L1022.1,860.1 L1022.6,860.3 L1023.1,860.3 L1023.6,860.4 L1024.1,860.4 L1024.6,860.4 L1025.1,860.4 L1025.6,860.4 L1026.1,860.4 L1026.6,860.5 L1027.1,860.5 L1027.6,860.4 L1028.1,860.1 L1028.6,860.0 L1029.1,859.9 L1029.6,860.1 L1030.1,860.3 L1030.6,860.4 L1031.1,860.5 L1031.6,860.6 L1032.1,860.6 L1032.6,860.7 L1033.1,860.6 L1033.6,860.4 L1034.1,860.1 L1034.6,860.0 L1035.1,860.2 L1035.6,860.3 L1036.1,860.4 L1036.6,860.5 L1037.1,860.5 L1037.6,860.6 L1038.1,860.6 L1038.6,860.6 L1039.1,860.6 L1039.6,860.4 L1040.1,860.3 L1040.6,860.3 L1041.1,860.5 L1041.6,860.6 L1042.1,860.7 L1042.6,860.6 L1043.1,860.5 L1043.6,860.5 L1044.1,860.5 L1044.6,860.5 L1045.1,860.5 L1045.6,860.4 L1046.1,860.4 L1046.6,860.3 L1047.1,860.4 L1047.6,860.5 L1048.1,860.6 L1048.6,860.6 L1049.1,860.7 L1049.6,860.7 L1050.1,860.8 L1050.6,860.9 L1051.1,861.1 L1051.6,861.3 L1052.1,861.4 L1052.6,861.3 L1053.1,861.0 L1053.6,860.7 L1054.1,860.6 L1054.6,860.5 L1055.1,860.4 L1055.6,860.2 L1056.1,860.1 L1056.6,860.2 L1057.1,860.3 L1057.6,860.4 L1058.1,860.7 L1058.6,860.8 L1059.1,860.9 L1059.6,860.7 L1060.1,860.7 L1060.6,860.8 L1061.1,861.0 L1061.6,861.0 L1062.1,861.0 L1062.6,860.7 L1063.1,860.5 L1063.6,860.3 L1064.1,860.2 L1064.6,860.1 L1065.1,860.2 L1065.6,860.5 L1066.1,860.8 L1066.6,860.9 L1067.1,860.7 L1067.6,860.5 L1068.1,860.6 L1068.6,860.6 L1069.1,860.8 L1069.6,860.7 L1070.1,860.6 L1070.6,860.5 L1071.1,860.5 L1071.6,860.6 L1072.1,860.5 L1072.6,860.5 L1073.1,860.5 L1073.6,860.6 L1074.1,860.8 L1074.6,860.9 L1075.1,860.9 L1075.6,860.9 L1076.1,860.9 L1076.6,860.9 L1077.1,860.9 L1077.6,860.8 L1078.1,860.6 L1078.6,860.4 L1079.1,860.4 L1079.6,860.5 L1080.1,860.8 L1080.6,860.9 L1081.1,860.9 L1081.6,860.7 L1082.1,860.6 L1082.6,860.5 L1083.1,860.5 L1083.6,860.6 L1084.1,860.6 L1084.6,860.7 L1085.1,860.6 L1085.6,860.7 L1086.1,860.9 L1086.6,861.2 L1087.1,861.5 L1087.6,861.2 L1088.1,860.9 L1088.6,860.5 L1089.1,860.5 L1089.6,860.6 L1090.1,860.6 L1090.6,860.4 L1091.1,860.3 L1091.6,860.2 L1092.1,860.4 L1092.6,860.5 L1093.1,860.7 L1093.6,860.6 L1094.1,860.6 L1094.6,860.7 L1095.1,861.0 L1095.6,861.1 L1096.1,861.2 L1096.6,861.1 L1097.1,861.1 L1097.6,861.0 L1098.1,860.9 L1098.6,860.7 L1099.1,860.7 L1099.6,860.6 L1100.1,860.5 L1100.6,860.4 L1101.1,860.3 L1101.6,860.3 L1102.1,860.4 L1102.6,860.5 L1103.1,860.6 L1103.6,860.7 L1104.1,860.6 L1104.6,860.4 L1105.1,860.2 L1105.6,860.0 L1106.1,859.8 L1106.6,859.7 L1107.1,859.7 L1107.6,860.0 L1108.1,860.2 L1108.6,860.2 L1109.1,860.0 L1109.6,859.8 L1110.1,859.9 L1110.6,859.9 L1111.1,860.0 L1111.6,859.9 L1112.1,859.7 L1112.6,859.2 L1113.1,858.8 L1113.6,858.4 L1114.1,858.3 L1114.6,858.3 L1115.1,858.1 L1115.6,858.1 L1116.1,858.0 L1116.6,857.8 L1117.1,857.5 L1117.6,857.2 L1118.1,856.7 L1118.6,856.3 L1119.1,855.7 L1119.6,855.1 L1120.1,854.8 L1120.6,854.6 L1121.1,854.4 L1121.6,854.1 L1122.1,853.7 L1122.6,853.1 L1123.1,852.7 L1123.6,852.4 L1124.1,852.3 L1124.6,852.2 L1125.1,852.1 L1125.6,852.0 L1126.1,852.1 L1126.6,852.3 L1127.1,852.6 L1127.6,852.8 L1128.1,853.0 L1128.6,853.1 L1129.1,853.4 L1129.6,853.7 L1130.1,854.1 L1130.6,854.4 L1131.1,854.8 L1131.6,855.2 L1132.1,855.6 L1132.6,855.8 L1133.1,855.9 L1133.6,856.0 L1134.1,856.3 L1134.6,856.7 L1135.1,857.3 L1135.6,857.8 L1136.1,858.1 L1136.6,858.1 L1137.1,858.2 L1137.6,858.4 L1138.1,858.7 L1138.6,859.0 L1139.1,859.3 L1139.6,859.4 L1140.1,859.3 L1140.6,859.3 L1141.1,859.4 L1141.6,859.6 L1142.1,859.7 L1142.6,859.7 L1143.1,859.5 L1143.6,859.7 L1144.1,859.8 L1144.6,860.1 L1145.1,860.2 L1145.6,860.2 L1146.1,860.1 L1146.6,860.1 L1147.1,860.0 L1147.6,860.1 L1148.1,860.3 L1148.6,860.6 L1149.1,860.6 L1149.6,860.4 L1150.1,860.2 L1150.6,860.0 L1151.1,860.3 L1151.6,860.5 L1152.1,860.5 L1152.6,860.2 L1153.1,860.1 L1153.6,860.1 L1154.1,860.3 L1154.6,860.4 L1155.1,860.5 L1155.6,860.3 L1156.1,860.2 L1156.6,860.3 L1157.1,860.6 L1157.6,860.7 L1158.1,860.5 L1158.6,860.3 L1159.1,860.4 L1159.6,860.5 L1160.1,860.6 L1160.6,860.7 L1161.1,860.8 L1161.6,860.7 L1162.1,860.6 L1162.6,860.6 L1163.1,860.8 L1163.6,860.9 L1164.1,860.8 L1164.6,860.6 L1165.1,860.5 L1165.6,860.5 L1166.1,860.6 L1166.6,860.6 L1167.1,860.7 L1167.6,860.7 L1168.1,860.9 L1168.6,860.9 L1169.1,861.0 L1169.6,861.0 L1170.1,861.2 L1170.6,861.3 L1171.1,861.4 L1171.6,861.2 L1172.1,861.1 L1172.6,861.0 L1173.1,861.3 L1173.6,861.4 L1174.1,861.3 L1174.6,861.2 L1175.1,861.1 L1175.6,861.2 L1176.1,861.0 L1176.6,861.0 L1177.1,860.9 L1177.6,861.1 L1178.1,861.1 L1178.6,861.1 L1179.1,861.1 L1179.6,861.0 L1180.1,860.9 L1180.6,860.8 L1181.1,860.7 L1181.6,860.9 L1182.1,860.9 L1182.6,861.2 L1183.1,861.2 L1183.6,861.1 L1184.1,860.8 L1184.6,860.5 L1185.1,860.6 L1185.6,860.7 L1186.1,860.9 L1186.6,860.9 L1187.1,860.8 L1187.6,860.7 L1188.1,860.6 L1188.6,860.4 L1189.1,860.5 L1189.6,860.7 L1190.1,860.8 L1190.6,860.8 L1191.1,860.7 L1191.6,860.9 L1192.1,860.9 L1192.6,861.0 L1193.1,860.9 L1193.6,861.0 L1194.1,860.8 L1194.6,860.7 L1195.1,860.8 L1195.6,860.9 L1196.1,861.1 L1196.6,861.2 L1197.1,861.3 L1197.6,861.2 L1198.1,861.1 L1198.6,861.0 L1199.1,861.0 L1199.6,860.9 L1200.1,860.8 L1200.6,860.8 L1201.1,860.9 L1201.6,861.0 L1202.1,861.0 L1202.6,860.9 L1203.1,860.8 L1203.6,860.7 L1204.1,860.7 L1204.6,861.1 L1205.1,861.3 L1205.6,861.5 L1206.1,861.4 L1206.6,861.2 L1207.1,861.1 L1207.6,861.0 L1208.1,861.2 L1208.6,861.3 L1209.1,861.3 L1209.6,861.1 L1210.1,860.9 L1210.6,860.9 L1211.1,860.9 L1211.6,860.9 L1212.1,860.9 L1212.6,861.1 L1213.1,861.5 L1213.6,861.6 L1214.1,861.4 L1214.6,861.0 L1215.1,860.9 L1215.6,861.0 L1216.1,861.3 L1216.6,861.4 L1217.1,861.4 L1217.6,861.3 L1218.1,861.3 L1218.6,861.1 L1219.1,860.8 L1219.6,860.5 L1220.1,860.5 L1220.6,860.6 L1221.1,860.8 L1221.6,860.9 L1222.1,861.1 L1222.6,861.0 L1223.1,861.0 L1223.6,860.9 L1224.1,860.8 L1224.6,860.6 L1225.1,860.4 L1225.6,860.2 L1226.1,860.3 L1226.6,860.4 L1227.1,860.5 L1227.6,860.4 L1228.1,860.3 L1228.6,860.1 L1229.1,859.7 L1229.6,859.4 L1230.1,859.1 L1230.6,859.2 L1231.1,859.3 L1231.6,859.3 L1232.1,859.0 L1232.6,858.7 L1233.1,858.3 L1233.6,858.3 L1234.1,858.1 L1234.6,857.9 L1235.1,857.7 L1235.6,857.6 L1236.1,857.6 L1236.6,857.5 L1237.1,857.3 L1237.6,857.2 L1238.1,857.2 L1238.6,857.3 L1239.1,857.4 L1239.6,857.5 L1240.1,857.4 L1240.6,857.3 L1241.1,857.4 L1241.6,857.5 L1242.1,857.9 L1242.6,858.1 L1243.1,858.2 L1243.6,858.4 L1244.1,858.7 L1244.6,859.2 L1245.1,859.5 L1245.6,859.6 L1246.1,859.7 L1246.6,859.8 L1247.1,859.8 L1247.6,859.5 L1248.1,859.4 L1248.6,859.6 L1249.1,859.9 L1249.6,860.2 L1250.1,860.3 L1250.6,860.2 L1251.1,860.3 L1251.6,860.2 L1252.1,860.4 L1252.6,860.5 L1253.1,860.6 L1253.6,860.5 L1254.1,860.5 L1254.6,860.6 L1255.1,860.7 L1255.6,860.6 L1256.1,860.5 L1256.6,860.4 L1257.1,860.4 L1257.6,860.6 L1258.1,860.6 L1258.6,860.3 L1259.1,859.8 L1259.6,859.4 L1260.1,859.2 L1260.6,859.2 L1261.1,859.1 L1261.6,858.8 L1262.1,858.4 L1262.6,858.0 L1263.1,857.9 L1263.6,857.7 L1264.1,857.7 L1264.6,857.4 L1265.1,857.2 L1265.6,857.2 L1266.1,857.4 L1266.6,857.5 L1267.1,857.5 L1267.6,857.2 L1268.1,857.2 L1268.6,857.3 L1269.1,857.7 L1269.6,857.9 L1270.1,858.1 L1270.6,858.1 L1271.1,858.3 L1271.6,858.6 L1272.1,859.0 L1272.6,859.4 L1273.1,859.6 L1273.6,859.8 L1274.1,859.8 L1274.6,859.7 L1275.1,859.5 L1275.6,859.5 L1276.1,859.7 L1276.6,860.1 L1277.1,860.4 L1277.6,860.5 L1278.1,860.5 L1278.6,860.6 L1279.1,860.6 L1279.6,860.8 L1280.1,861.0 L1280.6,861.1 L1281.1,861.1 L1281.6,860.9 L1282.1,860.9 L1282.6,860.9 L1283.1,861.1 L1283.6,861.1 L1284.1,861.0 L1284.6,861.1 L1285.1,861.3 L1285.6,861.5 L1286.1,861.4 L1286.6,861.4 L1287.1,861.2 L1287.6,861.1 L1288.1,860.8 L1288.6,860.7 L1289.1,860.7 L1289.6,861.0 L1290.1,861.2 L1290.6,861.3 L1291.1,861.1 L1291.6,860.8 L1292.1,860.8 L1292.6,861.0 L1293.1,861.3 L1293.6,861.4 L1294.1,861.3 L1294.6,861.1 L1295.1,860.9 L1295.6,860.9 L1296.1,861.1 L1296.6,861.2 L1297.1,861.3 L1297.6,861.2 L1298.1,861.2 L1298.6,861.1 L1299.1,861.0 L1299.6,861.0 L1300.1,861.2 L1300.6,861.4 L1301.1,861.5 L1301.6,861.3 L1302.1,861.2 L1302.6,861.0 L1303.1,861.2 L1303.6,861.2 L1304.1,861.4 L1304.6,861.3 L1305.1,861.3 L1305.6,861.3 L1306.1,861.4 L1306.6,861.4 L1307.1,861.4 L1307.6,861.3 L1308.1,861.1 L1308.6,861.1 L1309.1,861.0 L1309.6,861.0 L1310.1,861.1 L1310.6,861.3 L1311.1,861.3 L1311.6,861.2 L1312.1,861.1 L1312.6,861.2 L1313.1,861.1 L1313.6,861.1 L1314.1,861.0 L1314.6,861.1 L1315.1,861.2 L1315.6,861.2 L1316.1,861.3 L1316.6,861.4 L1317.1,861.4 L1317.6,861.4 L1318.1,861.4 L1318.6,861.4 L1319.1,861.6 L1319.6,861.7 L1320.1,861.7 L1320.6,861.4 L1321.1,861.2 L1321.6,861.1 L1322.1,861.1 L1322.6,861.3 L1323.1,861.4 L1323.6,861.4 L1324.1,861.3 L1324.6,861.3 L1325.1,861.2 L1325.6,861.3 L1326.1,861.2 L1326.6,861.1 L1327.1,860.9 L1327.6,860.8 L1328.1,860.9 L1328.6,861.3 L1329.1,861.5 L1329.6,861.6 L1330.1,861.5 L1330.6,861.3 L1331.1,861.2 L1331.6,861.3 L1332.1,861.4 L1332.6,861.4 L1333.1,861.3 L1333.6,861.2 L1334.1,861.1 L1334.6,861.2 L1335.1,861.3 L1335.6,861.2 L1336.1,861.1 L1336.6,861.0 L1337.1,861.0 L1337.6,861.1 L1338.1,861.3 L1338.6,861.3 L1339.1,861.0 L1339.6,860.7 L1340.1,860.5 L1340.6,860.6 L1341.1,860.7 L1341.6,860.9 L1342.1,861.0 L1342.6,860.9 L1343.1,860.6 L1343.6,860.4 L1344.1,860.3 L1344.6,860.1 L1345.1,860.1 L1345.6,860.1 L1346.1,860.0 L1346.6,859.8 L1347.1,859.4 L1347.6,859.0 L1348.1,858.7 L1348.6,858.4 L1349.1,858.2 L1349.6,858.1 L1350.1,857.9 L1350.6,857.8 L1351.1,857.5 L1351.6,857.2 L1352.1,856.7 L1352.6,856.1 L1353.1,855.5 L1353.6,855.2 L1354.1,855.2 L1354.6,855.4 L1355.1,855.6 L1355.6,855.6 L1356.1,855.5 L1356.6,855.4 L1357.1,855.5 L1357.6,855.5 L1358.1,855.6 L1358.6,855.8 L1359.1,856.0 L1359.6,856.1 L1360.1,856.4 L1360.6,856.6 L1361.1,857.0 L1361.6,857.5 L1362.1,857.9 L1362.6,858.3 L1363.1,858.4 L1363.6,858.6 L1364.1,858.7 L1364.6,859.1 L1365.1,859.3 L1365.6,859.5 L1366.1,859.8 L1366.6,860.1 L1367.1,860.4 L1367.6,860.4 L1368.1,860.5 L1368.6,860.7 L1369.1,860.9 L1369.6,860.9 L1370.1,860.8 L1370.6,860.7 L1371.1,860.9 L1371.6,861.0 L1372.1,861.2 L1372.6,861.1 L1373.1,861.2 L1373.6,861.4 L1374.1,861.6 L1374.6,861.5 L1375.1,861.3 L1375.6,861.0 L1376.1,861.0 L1376.6,861.2 L1377.1,861.3 L1377.6,861.2 L1378.1,861.1 L1378.6,861.3 L1379.1,861.4 L1379.6,861.4 L1380.1,861.3 L1380.6,861.4 L1381.1,861.6 L1381.6,861.7 L1382.1,861.7 L1382.6,861.5 L1383.1,861.4 L1383.6,861.1 L1384.1,860.8 L1384.6,860.7 L1385.1,860.8 L1385.6,861.3 L1386.1,861.6 L1386.6,861.7 L1387.1,861.6 L1387.6,861.4 L1388.1,861.3 L1388.6,861.3 L1389.1,861.4 L1389.6,861.4 L1390.1,861.5 L1390.6,861.3 L1391.1,861.3 L1391.6,861.3 L1392.1,861.3 L1392.6,861.2 L1393.1,861.4 L1393.6,861.6 L1394.1,861.8 L1394.6,861.9 L1395.1,861.9 L1395.6,861.7 L1396.1,861.7 L1396.6,861.6 L1397.1,861.6 L1397.6,861.5 L1398.1,861.4 L1398.6,861.5 L1399.1,861.4 L1399.6,861.3 L1400.1,861.2 L1400.6,861.3 L1401.1,861.6 L1401.6,861.8 L1402.1,861.7 L1402.6,861.7 L1403.1,861.6 L1403.6,861.6 L1404.1,861.3 L1404.6,861.1 L1405.1,861.0 L1405.6,861.0 L1406.1,861.2 L1406.6,861.6 L1407.1,861.8 L1407.6,861.8 L1408.1,861.6 L1408.6,861.6 L1409.1,861.8 L1409.6,861.9 L1410.1,861.8 L1410.6,861.6 L1411.1,861.4 L1411.6,861.4 L1412.1,861.4 L1412.6,861.6 L1413.1,861.7 L1413.6,861.9 L1414.1,862.0 L1414.6,862.3 L1415.1,862.3 L1415.6,862.1 L1416.1,861.8 L1416.6,861.6 L1417.1,861.5 L1417.6,861.6 L1418.1,861.7 L1418.6,861.9 L1419.1,861.9 L1419.6,862.0 L1420.1,861.9 L1420.6,861.8 L1421.1,861.8 L1421.6,861.9 L1422.1,862.0 L1422.6,861.8 L1423.1,861.8 L1423.6,861.7 L1424.1,861.8 L1424.6,861.7 L1425.1,861.8 L1425.6,861.8 L1426.1,861.9 L1426.6,861.9 L1427.1,861.8 L1427.6,861.7 L1428.1,861.5 L1428.6,861.5 L1429.1,861.6 L1429.6,861.7 L1430.1,861.6 L1430.6,861.6 L1431.1,861.6 L1431.6,861.7 L1432.1,861.7 L1432.6,861.8 L1433.1,861.8 L1433.6,861.9 L1434.1,862.0 L1434.6,862.1 L1435.1,862.1 L1435.6,861.9 L1436.1,861.6 L1436.6,861.3 L1437.1,861.3 L1437.6,861.3 L1438.1,861.6 L1438.6,861.7 L1439.1,861.9 L1439.6,861.9 L1440.1,861.8 L1440.6,861.7 L1441.1,861.7 L1441.6,861.7 L1442.1,861.8 L1442.6,861.5 L1443.1,861.6 L1443.6,861.6 L1444.1,861.8 L1444.6,861.7 L1445.1,861.6 L1445.6,861.5 L1446.1,861.8"/>
<path stroke="#2E6FE8" d="M147.6,767.9 L148.1,768.0 L148.6,768.2 L149.1,768.1 L149.6,768.0 L150.1,767.8 L150.6,767.6 L151.1,767.4 L151.6,767.3 L152.1,767.3 L152.6,767.2 L153.1,767.3 L153.6,767.3 L154.1,767.3 L154.6,767.2 L155.1,767.5 L155.6,767.8 L156.1,767.9 L156.6,767.6 L157.1,767.4 L157.6,767.1 L158.1,767.0 L158.6,767.1 L159.1,767.4 L159.6,767.7 L160.1,767.8 L160.6,767.6 L161.1,767.4 L161.6,767.4 L162.1,767.5 L162.6,767.5 L163.1,767.4 L163.6,767.4 L164.1,767.3 L164.6,767.4 L165.1,767.6 L165.6,767.7 L166.1,767.9 L166.6,767.8 L167.1,767.7 L167.6,767.4 L168.1,767.3 L168.6,767.3 L169.1,767.5 L169.6,767.7 L170.1,767.9 L170.6,767.9 L171.1,767.6 L171.6,767.5 L172.1,767.5 L172.6,767.5 L173.1,767.3 L173.6,766.9 L174.1,766.9 L174.6,767.1 L175.1,767.5 L175.6,767.7 L176.1,767.9 L176.6,767.7 L177.1,767.5 L177.6,767.3 L178.1,767.2 L178.6,767.1 L179.1,767.1 L179.6,767.2 L180.1,767.4 L180.6,767.2 L181.1,766.9 L181.6,766.5 L182.1,766.7 L182.6,766.9 L183.1,767.5 L183.6,767.5 L184.1,767.1 L184.6,766.7 L185.1,766.6 L185.6,766.9 L186.1,766.9 L186.6,767.1 L187.1,767.2 L187.6,767.5 L188.1,767.6 L188.6,767.6 L189.1,767.6 L189.6,767.5 L190.1,767.3 L190.6,766.9 L191.1,766.7 L191.6,766.6 L192.1,766.8 L192.6,766.9 L193.1,766.9 L193.6,766.7 L194.1,766.7 L194.6,766.7 L195.1,766.8 L195.6,766.8 L196.1,766.9 L196.6,767.0 L197.1,767.2 L197.6,767.0 L198.1,766.8 L198.6,766.6 L199.1,766.9 L199.6,767.0 L200.1,767.2 L200.6,767.1 L201.1,767.2 L201.6,766.9 L202.1,766.9 L202.6,766.8 L203.1,766.8 L203.6,766.6 L204.1,766.3 L204.6,766.0 L205.1,766.3 L205.6,766.7 L206.1,767.0 L206.6,766.8 L207.1,766.9 L207.6,767.0 L208.1,766.9 L208.6,766.4 L209.1,766.0 L209.6,765.8 L210.1,765.8 L210.6,765.8 L211.1,765.7 L211.6,765.8 L212.1,766.1 L212.6,766.3 L213.1,766.2 L213.6,766.3 L214.1,766.5 L214.6,767.0 L215.1,767.4 L215.6,767.5 L216.1,767.4 L216.6,767.4 L217.1,767.4 L217.6,767.5 L218.1,767.4 L218.6,766.9 L219.1,766.5 L219.6,766.2 L220.1,766.3 L220.6,766.4 L221.1,766.2 L221.6,766.1 L222.1,766.2 L222.6,766.5 L223.1,766.5 L223.6,766.4 L224.1,766.4 L224.6,766.7 L225.1,766.9 L225.6,766.9 L226.1,766.5 L226.6,766.2 L227.1,766.1 L227.6,766.2 L228.1,766.4 L228.6,766.4 L229.1,766.4 L229.6,766.3 L230.1,766.3 L230.6,766.2 L231.1,766.2 L231.6,766.1 L232.1,766.0 L232.6,766.2 L233.1,766.3 L233.6,766.6 L234.1,766.6 L234.6,766.5 L235.1,766.1 L235.6,766.0 L236.1,765.7 L236.6,766.0 L237.1,766.1 L237.6,766.2 L238.1,766.0 L238.6,766.0 L239.1,765.8 L239.6,765.8 L240.1,765.9 L240.6,765.9 L241.1,765.8 L241.6,765.7 L242.1,765.8 L242.6,766.2 L243.1,766.5 L243.6,766.4 L244.1,766.3 L244.6,766.1 L245.1,766.1 L245.6,766.1 L246.1,766.2 L246.6,766.3 L247.1,766.2 L247.6,766.0 L248.1,765.6 L248.6,765.4 L249.1,765.4 L249.6,765.7 L250.1,766.0 L250.6,766.1 L251.1,766.2 L251.6,766.1 L252.1,766.0 L252.6,765.6 L253.1,765.4 L253.6,765.4 L254.1,765.6 L254.6,765.5 L255.1,765.6 L255.6,765.5 L256.1,765.7 L256.6,765.5 L257.1,765.3 L257.6,765.2 L258.1,765.4 L258.6,765.6 L259.1,765.7 L259.6,765.6 L260.1,765.5 L260.6,765.4 L261.1,765.6 L261.6,765.7 L262.1,765.6 L262.6,765.4 L263.1,765.2 L263.6,765.3 L264.1,765.5 L264.6,765.3 L265.1,765.2 L265.6,764.9 L266.1,764.9 L266.6,764.7 L267.1,764.8 L267.6,764.9 L268.1,765.0 L268.6,765.1 L269.1,764.9 L269.6,764.7 L270.1,764.6 L270.6,764.5 L271.1,764.6 L271.6,764.8 L272.1,765.1 L272.6,765.2 L273.1,765.5 L273.6,765.6 L274.1,765.7 L274.6,765.6 L275.1,765.5 L275.6,765.3 L276.1,765.1 L276.6,764.9 L277.1,764.9 L277.6,765.0 L278.1,765.0 L278.6,764.8 L279.1,764.7 L279.6,764.7 L280.1,765.0 L280.6,765.1 L281.1,765.2 L281.6,765.0 L282.1,765.0 L282.6,764.8 L283.1,764.6 L283.6,764.5 L284.1,764.4 L284.6,764.6 L285.1,764.5 L285.6,764.6 L286.1,764.5 L286.6,764.6 L287.1,764.3 L287.6,764.1 L288.1,764.0 L288.6,764.1 L289.1,764.3 L289.6,764.3 L290.1,764.4 L290.6,764.0 L291.1,763.9 L291.6,763.7 L292.1,763.9 L292.6,763.8 L293.1,763.8 L293.6,763.7 L294.1,763.9 L294.6,764.2 L295.1,764.3 L295.6,764.4 L296.1,764.2 L296.6,764.2 L297.1,764.3 L297.6,764.6 L298.1,764.8 L298.6,764.7 L299.1,764.4 L299.6,764.3 L300.1,764.3 L300.6,764.0 L301.1,763.8 L301.6,763.8 L302.1,764.1 L302.6,764.3 L303.1,764.3 L303.6,764.3 L304.1,764.3 L304.6,764.3 L305.1,764.3 L305.6,764.2 L306.1,763.9 L306.6,763.6 L307.1,763.4 L307.6,763.4 L308.1,763.5 L308.6,763.3 L309.1,763.0 L309.6,762.8 L310.1,763.1 L310.6,763.4 L311.1,763.6 L311.6,763.5 L312.1,763.4 L312.6,763.5 L313.1,763.6 L313.6,763.6 L314.1,763.7 L314.6,763.7 L315.1,763.6 L315.6,763.3 L316.1,763.2 L316.6,763.0 L317.1,763.0 L317.6,763.2 L318.1,763.1 L318.6,763.0 L319.1,762.8 L319.6,762.8 L320.1,762.8 L320.6,762.9 L321.1,763.2 L321.6,763.2 L322.1,763.4 L322.6,763.3 L323.1,763.6 L323.6,763.6 L324.1,763.4 L324.6,763.1 L325.1,763.0 L325.6,763.0 L326.1,762.9 L326.6,762.8 L327.1,762.7 L327.6,762.7 L328.1,762.7 L328.6,762.7 L329.1,763.0 L329.6,763.2 L330.1,763.3 L330.6,762.9 L331.1,762.7 L331.6,762.4 L332.1,762.4 L332.6,762.4 L333.1,762.4 L333.6,762.7 L334.1,762.7 L334.6,762.8 L335.1,762.7 L335.6,762.7 L336.1,762.7 L336.6,762.5 L337.1,762.5 L337.6,762.6 L338.1,762.9 L338.6,763.1 L339.1,763.2 L339.6,763.1 L340.1,762.9 L340.6,762.5 L341.1,762.2 L341.6,762.2 L342.1,762.2 L342.6,762.5 L343.1,762.4 L343.6,762.5 L344.1,762.4 L344.6,762.4 L345.1,762.5 L345.6,762.7 L346.1,762.7 L346.6,762.7 L347.1,762.6 L347.6,762.5 L348.1,762.5 L348.6,762.4 L349.1,762.4 L349.6,762.3 L350.1,762.1 L350.6,762.0 L351.1,761.9 L351.6,762.0 L352.1,762.0 L352.6,761.8 L353.1,761.6 L353.6,761.7 L354.1,761.8 L354.6,762.2 L355.1,762.4 L355.6,762.6 L356.1,762.5 L356.6,762.5 L357.1,762.2 L357.6,762.4 L358.1,762.4 L358.6,762.6 L359.1,762.5 L359.6,762.4 L360.1,762.3 L360.6,762.4 L361.1,762.7 L361.6,762.7 L362.1,762.4 L362.6,762.1 L363.1,761.9 L363.6,761.9 L364.1,762.0 L364.6,762.2 L365.1,762.5 L365.6,762.4 L366.1,762.3 L366.6,762.0 L367.1,761.9 L367.6,761.8 L368.1,761.9 L368.6,762.2 L369.1,762.5 L369.6,762.6 L370.1,762.4 L370.6,762.1 L371.1,762.1 L371.6,762.3 L372.1,762.5 L372.6,762.6 L373.1,762.4 L373.6,762.4 L374.1,762.1 L374.6,761.9 L375.1,761.7 L375.6,761.7 L376.1,761.7 L376.6,761.7 L377.1,761.8 L377.6,762.0 L378.1,762.0 L378.6,762.1 L379.1,762.0 L379.6,762.2 L380.1,762.0 L380.6,761.9 L381.1,761.6 L381.6,761.8 L382.1,761.9 L382.6,762.1 L383.1,762.0 L383.6,762.1 L384.1,762.1 L384.6,762.2 L385.1,762.3 L385.6,762.2 L386.1,762.2 L386.6,761.9 L387.1,761.9 L387.6,761.9 L388.1,762.1 L388.6,762.2 L389.1,762.2 L389.6,762.0 L390.1,761.8 L390.6,761.6 L391.1,761.6 L391.6,761.7 L392.1,761.4 L392.6,761.3 L393.1,760.9 L393.6,761.1 L394.1,761.1 L394.6,761.3 L395.1,761.3 L395.6,761.6 L396.1,761.8 L396.6,762.1 L397.1,762.1 L397.6,762.2 L398.1,762.0 L398.6,761.9 L399.1,761.5 L399.6,761.3 L400.1,761.2 L400.6,761.4 L401.1,761.4 L401.6,761.3 L402.1,761.2 L402.6,761.4 L403.1,761.6 L403.6,761.6 L404.1,761.2 L404.6,761.1 L405.1,760.9 L405.6,760.9 L406.1,760.7 L406.6,760.9 L407.1,761.0 L407.6,761.0 L408.1,760.8 L408.6,760.7 L409.1,760.7 L409.6,760.6 L410.1,760.6 L410.6,760.6 L411.1,760.6 L411.6,760.4 L412.1,760.4 L412.6,760.3 L413.1,760.3 L413.6,760.4 L414.1,760.6 L414.6,760.5 L415.1,760.2 L415.6,759.8 L416.1,759.5 L416.6,759.4 L417.1,759.2 L417.6,758.8 L418.1,758.1 L418.6,757.6 L419.1,757.1 L419.6,756.9 L420.1,756.6 L420.6,756.3 L421.1,755.6 L421.6,754.6 L422.1,753.1 L422.6,751.6 L423.1,750.2 L423.6,749.0 L424.1,747.6 L424.6,745.9 L425.1,743.7 L425.6,741.1 L426.1,738.4 L426.6,735.4 L427.1,732.5 L427.6,729.0 L428.1,725.4 L428.6,721.5 L429.1,717.7 L429.6,713.9 L430.1,710.6 L430.6,707.7 L431.1,705.9 L431.6,704.6 L432.1,704.4 L432.6,705.2 L433.1,707.3 L433.6,710.3 L434.1,713.5 L434.6,717.0 L435.1,720.7 L435.6,724.8 L436.1,728.8 L436.6,732.6 L437.1,735.9 L437.6,739.1 L438.1,741.9 L438.6,744.5 L439.1,746.7 L439.6,748.5 L440.1,749.9 L440.6,751.2 L441.1,752.3 L441.6,753.3 L442.1,754.4 L442.6,755.1 L443.1,755.8 L443.6,756.4 L444.1,757.2 L444.6,758.0 L445.1,758.6 L445.6,759.0 L446.1,759.4 L446.6,759.9 L447.1,760.5 L447.6,760.9 L448.1,761.1 L448.6,761.1 L449.1,760.9 L449.6,760.8 L450.1,760.9 L450.6,761.3 L451.1,761.7 L451.6,761.9 L452.1,762.1 L452.6,762.1 L453.1,762.3 L453.6,762.5 L454.1,763.1 L454.6,763.5 L455.1,763.9 L455.6,763.8 L456.1,763.6 L456.6,763.5 L457.1,763.3 L457.6,763.3 L458.1,763.5 L458.6,763.9 L459.1,764.1 L459.6,764.0 L460.1,763.9 L460.6,764.0 L461.1,764.3 L461.6,764.3 L462.1,764.0 L462.6,763.9 L463.1,764.0 L463.6,764.3 L464.1,764.6 L464.6,764.5 L465.1,764.3 L465.6,764.2 L466.1,764.3 L466.6,764.4 L467.1,764.5 L467.6,764.5 L468.1,764.6 L468.6,764.7 L469.1,764.6 L469.6,764.5 L470.1,764.3 L470.6,764.3 L471.1,764.4 L471.6,764.4 L472.1,764.3 L472.6,763.9 L473.1,763.7 L473.6,763.6 L474.1,763.5 L474.6,763.5 L475.1,763.4 L475.6,763.3 L476.1,763.0 L476.6,762.9 L477.1,763.0 L477.6,763.3 L478.1,763.6 L478.6,763.5 L479.1,763.1 L479.6,762.6 L480.1,762.1 L480.6,762.2 L481.1,762.3 L481.6,762.2 L482.1,761.8 L482.6,761.3 L483.1,761.1 L483.6,761.0 L484.1,760.9 L484.6,760.6 L485.1,760.4 L485.6,760.1 L486.1,759.8 L486.6,759.4 L487.1,759.3 L487.6,759.5 L488.1,759.7 L488.6,759.8 L489.1,759.6 L489.6,759.4 L490.1,759.1 L490.6,759.0 L491.1,758.9 L491.6,759.0 L492.1,759.4 L492.6,759.8 L493.1,760.2 L493.6,760.2 L494.1,760.1 L494.6,760.1 L495.1,760.6 L495.6,761.3 L496.1,762.0 L496.6,762.2 L497.1,762.2 L497.6,761.9 L498.1,761.9 L498.6,762.0 L499.1,762.6 L499.6,763.1 L500.1,763.4 L500.6,763.7 L501.1,764.1 L501.6,764.4 L502.1,764.6 L502.6,764.6 L503.1,764.9 L503.6,765.2 L504.1,765.4 L504.6,765.5 L505.1,765.4 L505.6,765.4 L506.1,765.6 L506.6,765.9 L507.1,766.1 L507.6,766.3 L508.1,766.5 L508.6,766.8 L509.1,766.9 L509.6,767.1 L510.1,767.1 L510.6,767.3 L511.1,767.3 L511.6,767.4 L512.1,767.4 L512.6,767.3 L513.1,767.1 L513.6,767.0 L514.1,767.1 L514.6,767.3 L515.1,767.5 L515.6,767.6 L516.1,767.4 L516.6,767.3 L517.1,767.3 L517.6,767.4 L518.1,767.5 L518.6,767.4 L519.1,767.3 L519.6,767.3 L520.1,767.5 L520.6,767.7 L521.1,767.9 L521.6,768.0 L522.1,767.9 L522.6,767.7 L523.1,767.6 L523.6,767.8 L524.1,768.0 L524.6,768.0 L525.1,767.9 L525.6,767.7 L526.1,767.8 L526.6,768.0 L527.1,768.2 L527.6,768.4 L528.1,768.4 L528.6,768.2 L529.1,768.1 L529.6,767.9 L530.1,768.1 L530.6,768.2 L531.1,768.4 L531.6,768.5 L532.1,768.5 L532.6,768.4 L533.1,768.5 L533.6,768.7 L534.1,768.7 L534.6,768.4 L535.1,768.2 L535.6,768.1 L536.1,768.2 L536.6,768.4 L537.1,768.5 L537.6,768.6 L538.1,768.7 L538.6,768.7 L539.1,768.7 L539.6,768.5 L540.1,768.4 L540.6,768.2 L541.1,768.1 L541.6,768.0 L542.1,768.2 L542.6,768.5 L543.1,768.9 L543.6,769.1 L544.1,769.3 L544.6,769.1 L545.1,769.0 L545.6,769.1 L546.1,768.9 L546.6,768.7 L547.1,768.2 L547.6,768.5 L548.1,768.9 L548.6,769.2 L549.1,769.0 L549.6,768.7 L550.1,768.7 L550.6,768.9 L551.1,769.0 L551.6,769.0 L552.1,768.9 L552.6,769.3 L553.1,769.6 L553.6,769.9 L554.1,769.5 L554.6,769.0 L555.1,768.3 L555.6,768.0 L556.1,768.2 L556.6,768.7 L557.1,768.9 L557.6,768.7 L558.1,768.4 L558.6,768.4 L559.1,768.7 L559.6,769.1 L560.1,769.5 L560.6,769.6 L561.1,769.4 L561.6,769.0 L562.1,768.9 L562.6,768.7 L563.1,768.9 L563.6,768.9 L564.1,769.2 L564.6,769.0 L565.1,768.9 L565.6,768.6 L566.1,768.5 L566.6,768.2 L567.1,768.4 L567.6,768.7 L568.1,769.2 L568.6,769.2 L569.1,769.2 L569.6,769.4 L570.1,769.5 L570.6,769.1 L571.1,768.7 L571.6,768.7 L572.1,769.0 L572.6,769.3 L573.1,769.1 L573.6,768.8 L574.1,768.6 L574.6,768.8 L575.1,769.1 L575.6,769.1 L576.1,769.1 L576.6,768.9 L577.1,769.2 L577.6,769.4 L578.1,769.7 L578.6,769.6 L579.1,769.4 L579.6,769.3 L580.1,769.1 L580.6,769.1 L581.1,769.2 L581.6,769.5 L582.1,769.8 L582.6,769.8 L583.1,769.6 L583.6,769.2 L584.1,769.1 L584.6,769.1 L585.1,769.3 L585.6,769.3 L586.1,769.2 L586.6,769.0 L587.1,769.2 L587.6,769.4 L588.1,769.6 L588.6,769.4 L589.1,769.5 L589.6,769.7 L590.1,769.8 L590.6,769.6 L591.1,769.3 L591.6,769.0 L592.1,769.0 L592.6,769.1 L593.1,769.3 L593.6,769.4 L594.1,769.2 L594.6,768.9 L595.1,768.9 L595.6,769.1 L596.1,769.3 L596.6,769.2 L597.1,768.8 L597.6,768.4 L598.1,768.3 L598.6,768.4 L599.1,768.5 L599.6,768.7 L600.1,768.8 L600.6,768.9 L601.1,769.1 L601.6,769.3 L602.1,769.3 L602.6,769.2 L603.1,768.9 L603.6,768.8 L604.1,768.9 L604.6,769.3 L605.1,769.6 L605.6,769.7 L606.1,769.6 L606.6,769.5 L607.1,769.4 L607.6,769.3 L608.1,769.2 L608.6,769.2 L609.1,769.0 L609.6,768.9 L610.1,768.9 L610.6,768.9 L611.1,769.1 L611.6,769.0 L612.1,769.1 L612.6,769.1 L613.1,769.3 L613.6,769.5 L614.1,769.6 L614.6,769.5 L615.1,769.4 L615.6,769.3 L616.1,769.5 L616.6,769.7 L617.1,769.8 L617.6,769.7 L618.1,769.5 L618.6,769.5 L619.1,769.5 L619.6,769.7 L620.1,769.6 L620.6,769.5 L621.1,769.1 L621.6,768.9 L622.1,768.9 L622.6,769.2 L623.1,769.5 L623.6,769.7 L624.1,769.8 L624.6,769.7 L625.1,769.5 L625.6,769.4 L626.1,769.4 L626.6,769.5 L627.1,769.4 L627.6,769.3 L628.1,769.0 L628.6,768.8 L629.1,768.8 L629.6,768.8 L630.1,768.8 L630.6,769.0 L631.1,769.3 L631.6,769.7 L632.1,769.5 L632.6,769.2 L633.1,768.8 L633.6,768.8 L634.1,768.6 L634.6,768.6 L635.1,768.5 L635.6,768.7 L636.1,768.7 L636.6,768.7 L637.1,768.5 L637.6,768.6 L638.1,768.6 L638.6,768.8 L639.1,768.5 L639.6,768.0 L640.1,767.3 L640.6,766.8 L641.1,766.7 L641.6,766.7 L642.1,766.5 L642.6,766.1 L643.1,765.7 L643.6,765.5 L644.1,765.6 L644.6,765.8 L645.1,765.8 L645.6,765.6 L646.1,765.3 L646.6,765.1 L647.1,765.0 L647.6,765.0 L648.1,764.9 L648.6,764.8 L649.1,764.7 L649.6,764.8 L650.1,764.8 L650.6,764.7 L651.1,764.4 L651.6,764.5 L652.1,764.5 L652.6,764.4 L653.1,764.0 L653.6,763.9 L654.1,764.1 L654.6,764.4 L655.1,764.6 L655.6,764.9 L656.1,765.0 L656.6,764.8 L657.1,764.4 L657.6,763.7 L658.1,763.3 L658.6,762.9 L659.1,763.0 L659.6,762.7 L660.1,762.1 L660.6,761.3 L661.1,760.7 L661.6,760.1 L662.1,759.4 L662.6,758.9 L663.1,758.5 L663.6,758.2 L664.1,758.2 L664.6,758.6 L665.1,759.1 L665.6,759.5 L666.1,759.7 L666.6,760.0 L667.1,760.4 L667.6,761.0 L668.1,761.8 L668.6,762.5 L669.1,763.2 L669.6,763.5 L670.1,763.6 L670.6,763.4 L671.1,763.4 L671.6,763.2 L672.1,763.0 L672.6,763.1 L673.1,763.4 L673.6,763.8 L674.1,764.0 L674.6,763.8 L675.1,763.6 L675.6,763.6 L676.1,764.0 L676.6,764.2 L677.1,764.3 L677.6,764.2 L678.1,764.4 L678.6,764.6 L679.1,764.9 L679.6,764.9 L680.1,765.1 L680.6,765.2 L681.1,765.3 L681.6,765.4 L682.1,765.6 L682.6,765.8 L683.1,766.0 L683.6,766.2 L684.1,766.6 L684.6,766.8 L685.1,766.9 L685.6,766.9 L686.1,767.2 L686.6,767.5 L687.1,767.7 L687.6,767.6 L688.1,767.5 L688.6,767.5 L689.1,767.6 L689.6,767.9 L690.1,768.3 L690.6,768.5 L691.1,768.9 L691.6,769.1 L692.1,769.2 L692.6,769.1 L693.1,768.9 L693.6,768.6 L694.1,768.7 L694.6,769.0 L695.1,769.3 L695.6,769.2 L696.1,769.0 L696.6,769.0 L697.1,769.1 L697.6,769.4 L698.1,769.4 L698.6,769.4 L699.1,769.2 L699.6,769.0 L700.1,768.8 L700.6,768.8 L701.1,768.9 L701.6,769.0 L702.1,768.8 L702.6,768.8 L703.1,768.7 L703.6,768.6 L704.1,768.7 L704.6,768.8 L705.1,769.0 L705.6,769.2 L706.1,769.2 L706.6,769.1 L707.1,768.7 L707.6,768.5 L708.1,768.3 L708.6,768.6 L709.1,768.7 L709.6,769.0 L710.1,769.3 L710.6,769.6 L711.1,769.6 L711.6,769.7 L712.1,769.5 L712.6,769.5 L713.1,769.3 L713.6,769.4 L714.1,769.5 L714.6,769.8 L715.1,770.0 L715.6,769.8 L716.1,769.7 L716.6,769.4 L717.1,769.3 L717.6,769.1 L718.1,769.0 L718.6,768.9 L719.1,768.8 L719.6,769.0 L720.1,769.3 L720.6,769.6 L721.1,769.7 L721.6,769.7 L722.1,769.7 L722.6,769.8 L723.1,770.2 L723.6,770.4 L724.1,770.4 L724.6,770.2 L725.1,769.8 L725.6,769.7 L726.1,769.6 L726.6,769.8 L727.1,769.7 L727.6,769.6 L728.1,769.3 L728.6,769.4 L729.1,769.6 L729.6,769.9 L730.1,769.9 L730.6,769.8 L731.1,769.6 L731.6,769.6 L732.1,769.7 L732.6,769.9 L733.1,769.6 L733.6,769.5 L734.1,769.4 L734.6,769.9 L735.1,770.0 L735.6,770.2 L736.1,770.1 L736.6,770.2 L737.1,770.4 L737.6,770.8 L738.1,770.8 L738.6,770.6 L739.1,770.5 L739.6,770.5 L740.1,770.5 L740.6,770.4 L741.1,770.2 L741.6,770.1 L742.1,770.2 L742.6,770.0 L743.1,769.9 L743.6,769.9 L744.1,769.9 L744.6,770.0 L745.1,770.0 L745.6,770.3 L746.1,770.6 L746.6,770.8 L747.1,770.8 L747.6,770.6 L748.1,770.6 L748.6,770.4 L749.1,770.4 L749.6,770.3 L750.1,770.5 L750.6,770.5 L751.1,770.4 L751.6,770.3 L752.1,770.1 L752.6,770.0 L753.1,770.1 L753.6,770.4 L754.1,770.6 L754.6,770.6 L755.1,770.6 L755.6,770.5 L756.1,770.5 L756.6,770.2 L757.1,770.2 L757.6,770.1 L758.1,770.3 L758.6,770.4 L759.1,770.5 L759.6,770.6 L760.1,770.7 L760.6,771.0 L761.1,771.0 L761.6,771.0 L762.1,770.6 L762.6,770.1 L763.1,769.8 L763.6,769.7 L764.1,769.9 L764.6,770.1 L765.1,770.4 L765.6,770.4 L766.1,770.2 L766.6,770.0 L767.1,769.9 L767.6,770.3 L768.1,770.5 L768.6,770.7 L769.1,770.6 L769.6,770.6 L770.1,770.5 L770.6,770.6 L771.1,770.6 L771.6,770.9 L772.1,771.2 L772.6,771.2 L773.1,770.9 L773.6,770.5 L774.1,770.5 L774.6,770.5 L775.1,770.6 L775.6,770.8 L776.1,771.1 L776.6,771.2 L777.1,771.0 L777.6,770.5 L778.1,770.1 L778.6,769.9 L779.1,770.0 L779.6,770.2 L780.1,770.6 L780.6,771.1 L781.1,771.2 L781.6,771.0 L782.1,770.7 L782.6,770.6 L783.1,770.7 L783.6,770.9 L784.1,770.7 L784.6,770.4 L785.1,770.1 L785.6,770.0 L786.1,770.1 L786.6,770.4 L787.1,770.4 L787.6,770.4 L788.1,770.2 L788.6,770.4 L789.1,770.4 L789.6,770.5 L790.1,770.1 L790.6,770.1 L791.1,770.2 L791.6,770.3 L792.1,770.3 L792.6,769.9 L793.1,769.8 L793.6,770.0 L794.1,770.5 L794.6,770.4 L795.1,770.2 L795.6,769.8 L796.1,770.0 L796.6,770.0 L797.1,770.2 L797.6,770.2 L798.1,770.5 L798.6,770.4 L799.1,770.5 L799.6,770.3 L800.1,770.5 L800.6,770.4 L801.1,770.3 L801.6,770.1 L802.1,770.1 L802.6,770.2 L803.1,770.3 L803.6,770.3 L804.1,770.2 L804.6,770.1 L805.1,770.0 L805.6,770.0 L806.1,770.0 L806.6,770.1 L807.1,770.1 L807.6,770.1 L808.1,770.0 L808.6,770.1 L809.1,770.2 L809.6,770.3 L810.1,770.1 L810.6,770.0 L811.1,769.7 L811.6,769.6 L812.1,769.4 L812.6,769.2 L813.1,769.1 L813.6,769.1 L814.1,769.3 L814.6,769.4 L815.1,769.5 L815.6,769.5 L816.1,769.3 L816.6,769.0 L817.1,768.8 L817.6,768.4 L818.1,768.2 L818.6,768.0 L819.1,768.2 L819.6,768.3 L820.1,768.4 L820.6,768.4 L821.1,768.3 L821.6,768.1 L822.1,768.1 L822.6,768.0 L823.1,768.1 L823.6,767.9 L824.1,767.5 L824.6,767.0 L825.1,767.0 L825.6,767.0 L826.1,767.3 L826.6,767.3 L827.1,767.3 L827.6,767.2 L828.1,767.1 L828.6,766.9 L829.1,766.6 L829.6,766.3 L830.1,765.7 L830.6,765.4 L831.1,765.0 L831.6,764.9 L832.1,764.8 L832.6,764.9 L833.1,765.1 L833.6,764.9 L834.1,764.6 L834.6,764.0 L835.1,763.8 L835.6,763.3 L836.1,763.0 L836.6,762.6 L837.1,762.8 L837.6,762.8 L838.1,762.8 L838.6,762.2 L839.1,761.7 L839.6,761.5 L840.1,761.7 L840.6,761.8 L841.1,761.6 L841.6,761.5 L842.1,761.3 L842.6,761.1 L843.1,760.9 L843.6,760.6 L844.1,760.5 L844.6,760.2 L845.1,760.0 L845.6,759.6 L846.1,759.4 L846.6,759.0 L847.1,758.5 L847.6,757.7 L848.1,757.0 L848.6,755.9 L849.1,755.0 L849.6,753.9 L850.1,752.8 L850.6,751.7 L851.1,750.6 L851.6,749.6 L852.1,748.6 L852.6,747.5 L853.1,746.4 L853.6,745.3 L854.1,744.9 L854.6,745.0 L855.1,745.5 L855.6,746.1 L856.1,747.0 L856.6,748.1 L857.1,749.4 L857.6,750.8 L858.1,752.4 L858.6,754.0 L859.1,755.6 L859.6,757.0 L860.1,758.2 L860.6,759.3 L861.1,760.2 L861.6,761.1 L862.1,761.8 L862.6,762.6 L863.1,763.2 L863.6,763.6 L864.1,763.9 L864.6,763.9 L865.1,764.2 L865.6,764.6 L866.1,765.3 L866.6,765.7 L867.1,766.1 L867.6,766.3 L868.1,766.5 L868.6,766.5 L869.1,766.5 L869.6,766.6 L870.1,767.1 L870.6,767.4 L871.1,767.7 L871.6,767.7 L872.1,767.5 L872.6,767.6 L873.1,767.7 L873.6,767.9 L874.1,768.0 L874.6,768.1 L875.1,768.4 L875.6,768.4 L876.1,768.4 L876.6,768.3 L877.1,768.3 L877.6,768.3 L878.1,768.5 L878.6,768.5 L879.1,768.7 L879.6,769.0 L880.1,769.1 L880.6,769.0 L881.1,768.9 L881.6,769.0 L882.1,769.2 L882.6,769.5 L883.1,769.4 L883.6,769.5 L884.1,769.5 L884.6,769.5 L885.1,769.3 L885.6,769.3 L886.1,769.4 L886.6,769.4 L887.1,769.1 L887.6,768.8 L888.1,768.9 L888.6,769.2 L889.1,769.6 L889.6,769.6 L890.1,769.6 L890.6,769.4 L891.1,769.3 L891.6,769.5 L892.1,769.8 L892.6,770.1 L893.1,770.1 L893.6,769.9 L894.1,769.8 L894.6,770.0 L895.1,770.1 L895.6,770.2 L896.1,770.2 L896.6,770.2 L897.1,770.1 L897.6,769.7 L898.1,769.4 L898.6,769.3 L899.1,769.6 L899.6,769.8 L900.1,770.0 L900.6,769.9 L901.1,769.8 L901.6,769.8 L902.1,769.8 L902.6,769.9 L903.1,770.1 L903.6,770.3 L904.1,770.3 L904.6,770.3 L905.1,770.0 L905.6,769.6 L906.1,769.3 L906.6,769.4 L907.1,769.6 L907.6,769.8 L908.1,769.8 L908.6,770.1 L909.1,770.1 L909.6,769.9 L910.1,769.6 L910.6,769.4 L911.1,769.9 L911.6,770.4 L912.1,770.8 L912.6,770.7 L913.1,770.4 L913.6,770.0 L914.1,769.3 L914.6,769.1 L915.1,769.1 L915.6,769.7 L916.1,769.8 L916.6,769.8 L917.1,769.5 L917.6,769.5 L918.1,769.6 L918.6,769.8 L919.1,769.9 L919.6,769.9 L920.1,769.7 L920.6,769.7 L921.1,769.6 L921.6,769.6 L922.1,769.4 L922.6,769.2 L923.1,769.0 L923.6,769.1 L924.1,769.1 L924.6,769.0 L925.1,769.0 L925.6,769.3 L926.1,769.7 L926.6,770.1 L927.1,770.1 L927.6,770.2 L928.1,770.0 L928.6,769.8 L929.1,769.3 L929.6,769.1 L930.1,769.2 L930.6,769.4 L931.1,769.5 L931.6,769.5 L932.1,769.3 L932.6,769.5 L933.1,769.6 L933.6,769.8 L934.1,769.7 L934.6,769.6 L935.1,769.6 L935.6,769.5 L936.1,769.7 L936.6,769.5 L937.1,769.3 L937.6,769.2 L938.1,769.2 L938.6,769.2 L939.1,769.2 L939.6,769.3 L940.1,769.4 L940.6,769.4 L941.1,769.4 L941.6,769.1 L942.1,769.2 L942.6,769.3 L943.1,769.5 L943.6,769.4 L944.1,769.2 L944.6,768.9 L945.1,768.9 L945.6,768.8 L946.1,769.0 L946.6,768.6 L947.1,768.5 L947.6,768.0 L948.1,768.2 L948.6,768.4 L949.1,768.8 L949.6,768.7 L950.1,768.4 L950.6,767.8 L951.1,767.3 L951.6,767.0 L952.1,766.9 L952.6,766.8 L953.1,766.7 L953.6,766.4 L954.1,765.9 L954.6,765.6 L955.1,765.0 L955.6,764.4 L956.1,763.7 L956.6,763.2 L957.1,762.8 L957.6,762.4 L958.1,762.0 L958.6,761.6 L959.1,761.2 L959.6,760.7 L960.1,760.4 L960.6,760.1 L961.1,759.7 L961.6,759.5 L962.1,759.2 L962.6,759.1 L963.1,759.1 L963.6,759.3 L964.1,759.5 L964.6,759.8 L965.1,760.1 L965.6,760.5 L966.1,760.8 L966.6,761.1 L967.1,761.2 L967.6,761.6 L968.1,761.7 L968.6,762.1 L969.1,762.4 L969.6,763.0 L970.1,763.6 L970.6,763.8 L971.1,764.1 L971.6,764.0 L972.1,764.1 L972.6,764.1 L973.1,764.3 L973.6,764.3 L974.1,764.3 L974.6,764.2 L975.1,764.1 L975.6,764.1 L976.1,764.0 L976.6,764.0 L977.1,763.6 L977.6,763.4 L978.1,763.0 L978.6,762.7 L979.1,762.1 L979.6,761.2 L980.1,760.3 L980.6,759.6 L981.1,759.0 L981.6,758.6 L982.1,757.9 L982.6,757.4 L983.1,756.8 L983.6,756.4 L984.1,756.0 L984.6,755.8 L985.1,755.5 L985.6,755.5 L986.1,755.8 L986.6,756.4 L987.1,757.0 L987.6,757.7 L988.1,758.4 L988.6,759.1 L989.1,759.7 L989.6,760.3 L990.1,760.9 L990.6,761.7 L991.1,762.3 L991.6,762.7 L992.1,762.9 L992.6,763.1 L993.1,763.4 L993.6,763.6 L994.1,763.8 L994.6,763.8 L995.1,764.0 L995.6,764.2 L996.1,764.6 L996.6,764.6 L997.1,764.8 L997.6,764.9 L998.1,765.4 L998.6,765.5 L999.1,765.2 L999.6,764.8 L1000.1,764.4 L1000.6,764.4 L1001.1,764.4 L1001.6,764.4 L1002.1,764.2 L1002.6,763.9 L1003.1,763.9 L1003.6,763.7 L1004.1,763.7 L1004.6,763.4 L1005.1,763.6 L1005.6,763.8 L1006.1,764.0 L1006.6,763.8 L1007.1,763.8 L1007.6,763.8 L1008.1,764.3 L1008.6,764.3 L1009.1,764.4 L1009.6,764.2 L1010.1,764.3 L1010.6,764.3 L1011.1,764.5 L1011.6,764.7 L1012.1,765.0 L1012.6,765.5 L1013.1,765.8 L1013.6,766.2 L1014.1,766.1 L1014.6,766.0 L1015.1,766.0 L1015.6,766.1 L1016.1,766.5 L1016.6,766.5 L1017.1,766.7 L1017.6,766.7 L1018.1,767.0 L1018.6,767.0 L1019.1,767.0 L1019.6,767.0 L1020.1,767.2 L1020.6,767.4 L1021.1,767.6 L1021.6,767.7 L1022.1,767.5 L1022.6,767.4 L1023.1,767.3 L1023.6,767.5 L1024.1,767.6 L1024.6,767.8 L1025.1,768.2 L1025.6,768.7 L1026.1,768.8 L1026.6,768.7 L1027.1,768.5 L1027.6,768.6 L1028.1,768.6 L1028.6,768.5 L1029.1,768.4 L1029.6,768.4 L1030.1,768.6 L1030.6,768.8 L1031.1,768.8 L1031.6,769.0 L1032.1,769.1 L1032.6,769.1 L1033.1,768.9 L1033.6,768.5 L1034.1,768.4 L1034.6,768.5 L1035.1,769.0 L1035.6,769.5 L1036.1,769.8 L1036.6,769.9 L1037.1,769.8 L1037.6,769.9 L1038.1,769.8 L1038.6,769.8 L1039.1,769.5 L1039.6,769.4 L1040.1,769.1 L1040.6,769.1 L1041.1,769.2 L1041.6,769.9 L1042.1,770.4 L1042.6,770.7 L1043.1,770.4 L1043.6,770.2 L1044.1,769.9 L1044.6,770.2 L1045.1,770.5 L1045.6,770.8 L1046.1,770.6 L1046.6,770.0 L1047.1,769.6 L1047.6,769.4 L1048.1,769.6 L1048.6,769.9 L1049.1,770.3 L1049.6,770.7 L1050.1,770.8 L1050.6,771.0 L1051.1,771.0 L1051.6,771.0 L1052.1,771.0 L1052.6,770.8 L1053.1,770.6 L1053.6,770.4 L1054.1,770.3 L1054.6,770.2 L1055.1,770.2 L1055.6,770.3 L1056.1,770.4 L1056.6,770.3 L1057.1,770.2 L1057.6,770.1 L1058.1,770.1 L1058.6,770.3 L1059.1,770.5 L1059.6,770.7 L1060.1,770.9 L1060.6,770.8 L1061.1,770.5 L1061.6,770.3 L1062.1,770.4 L1062.6,770.7 L1063.1,771.1 L1063.6,771.2 L1064.1,771.0 L1064.6,770.8 L1065.1,770.6 L1065.6,770.6 L1066.1,770.5 L1066.6,770.3 L1067.1,770.2 L1067.6,770.4 L1068.1,770.6 L1068.6,770.6 L1069.1,770.6 L1069.6,770.8 L1070.1,771.0 L1070.6,771.1 L1071.1,770.9 L1071.6,770.8 L1072.1,770.5 L1072.6,770.4 L1073.1,770.5 L1073.6,770.7 L1074.1,770.6 L1074.6,770.6 L1075.1,770.4 L1075.6,770.5 L1076.1,770.4 L1076.6,770.5 L1077.1,770.5 L1077.6,770.6 L1078.1,770.5 L1078.6,770.4 L1079.1,770.5 L1079.6,770.7 L1080.1,770.8 L1080.6,770.5 L1081.1,770.4 L1081.6,770.6 L1082.1,771.0 L1082.6,771.1 L1083.1,771.1 L1083.6,771.1 L1084.1,771.1 L1084.6,771.0 L1085.1,771.0 L1085.6,770.9 L1086.1,770.8 L1086.6,770.7 L1087.1,770.7 L1087.6,770.4 L1088.1,770.2 L1088.6,770.0 L1089.1,770.3 L1089.6,770.6 L1090.1,770.8 L1090.6,770.6 L1091.1,770.5 L1091.6,770.4 L1092.1,770.6 L1092.6,770.7 L1093.1,770.7 L1093.6,770.7 L1094.1,770.5 L1094.6,770.4 L1095.1,770.1 L1095.6,770.1 L1096.1,769.9 L1096.6,770.0 L1097.1,770.0 L1097.6,770.0 L1098.1,770.1 L1098.6,770.3 L1099.1,770.3 L1099.6,770.1 L1100.1,770.1 L1100.6,770.3 L1101.1,770.5 L1101.6,770.4 L1102.1,770.2 L1102.6,770.0 L1103.1,770.2 L1103.6,770.4 L1104.1,770.5 L1104.6,770.2 L1105.1,770.4 L1105.6,770.3 L1106.1,770.3 L1106.6,770.0 L1107.1,770.0 L1107.6,770.0 L1108.1,770.0 L1108.6,769.9 L1109.1,769.7 L1109.6,769.4 L1110.1,769.1 L1110.6,769.0 L1111.1,769.1 L1111.6,769.4 L1112.1,769.6 L1112.6,769.4 L1113.1,769.2 L1113.6,768.6 L1114.1,768.2 L1114.6,767.9 L1115.1,768.0 L1115.6,768.0 L1116.1,768.0 L1116.6,767.6 L1117.1,767.2 L1117.6,766.9 L1118.1,766.7 L1118.6,766.6 L1119.1,766.3 L1119.6,766.1 L1120.1,765.8 L1120.6,765.5 L1121.1,764.9 L1121.6,764.4 L1122.1,764.0 L1122.6,763.7 L1123.1,763.2 L1123.6,762.9 L1124.1,762.5 L1124.6,762.4 L1125.1,762.4 L1125.6,762.5 L1126.1,762.6 L1126.6,762.6 L1127.1,762.7 L1127.6,762.9 L1128.1,763.1 L1128.6,763.4 L1129.1,763.5 L1129.6,763.7 L1130.1,764.1 L1130.6,764.6 L1131.1,764.7 L1131.6,764.9 L1132.1,765.1 L1132.6,765.6 L1133.1,766.2 L1133.6,766.7 L1134.1,767.3 L1134.6,767.5 L1135.1,767.7 L1135.6,767.9 L1136.1,768.1 L1136.6,768.3 L1137.1,768.1 L1137.6,768.3 L1138.1,768.4 L1138.6,768.8 L1139.1,768.8 L1139.6,768.9 L1140.1,768.8 L1140.6,768.9 L1141.1,769.1 L1141.6,769.4 L1142.1,769.6 L1142.6,769.9 L1143.1,770.0 L1143.6,769.9 L1144.1,769.8 L1144.6,769.9 L1145.1,770.3 L1145.6,770.4 L1146.1,770.0 L1146.6,769.5 L1147.1,769.4 L1147.6,769.8 L1148.1,770.2 L1148.6,770.2 L1149.1,770.0 L1149.6,769.9 L1150.1,770.0 L1150.6,770.3 L1151.1,770.3 L1151.6,770.4 L1152.1,770.4 L1152.6,770.6 L1153.1,770.9 L1153.6,771.0 L1154.1,771.0 L1154.6,770.9 L1155.1,770.7 L1155.6,770.4 L1156.1,770.3 L1156.6,770.2 L1157.1,770.4 L1157.6,770.3 L1158.1,770.4 L1158.6,770.4 L1159.1,770.3 L1159.6,769.9 L1160.1,769.8 L1160.6,770.0 L1161.1,770.6 L1161.6,770.9 L1162.1,770.7 L1162.6,770.4 L1163.1,770.0 L1163.6,769.9 L1164.1,770.0 L1164.6,770.3 L1165.1,770.7 L1165.6,770.7 L1166.1,770.9 L1166.6,770.7 L1167.1,770.5 L1167.6,770.2 L1168.1,770.1 L1168.6,770.2 L1169.1,770.2 L1169.6,770.3 L1170.1,770.4 L1170.6,770.6 L1171.1,770.8 L1171.6,770.9 L1172.1,770.9 L1172.6,770.7 L1173.1,770.4 L1173.6,770.4 L1174.1,770.4 L1174.6,770.5 L1175.1,770.5 L1175.6,770.7 L1176.1,770.8 L1176.6,770.7 L1177.1,770.6 L1177.6,770.5 L1178.1,770.5 L1178.6,770.3 L1179.1,770.3 L1179.6,770.5 L1180.1,770.7 L1180.6,770.7 L1181.1,770.8 L1181.6,770.8 L1182.1,771.0 L1182.6,771.1 L1183.1,771.4 L1183.6,771.3 L1184.1,771.1 L1184.6,770.7 L1185.1,770.3 L1185.6,770.1 L1186.1,770.2 L1186.6,770.5 L1187.1,770.6 L1187.6,770.6 L1188.1,770.6 L1188.6,770.9 L1189.1,770.9 L1189.6,770.9 L1190.1,770.5 L1190.6,770.7 L1191.1,770.8 L1191.6,771.2 L1192.1,771.3 L1192.6,771.4 L1193.1,771.2 L1193.6,771.0 L1194.1,770.9 L1194.6,771.0 L1195.1,771.0 L1195.6,771.1 L1196.1,771.2 L1196.6,771.3 L1197.1,771.3 L1197.6,771.0 L1198.1,770.9 L1198.6,770.7 L1199.1,770.8 L1199.6,770.7 L1200.1,770.5 L1200.6,770.4 L1201.1,770.5 L1201.6,771.0 L1202.1,771.0 L1202.6,771.0 L1203.1,770.8 L1203.6,770.7 L1204.1,770.5 L1204.6,770.4 L1205.1,770.3 L1205.6,770.2 L1206.1,770.1 L1206.6,770.2 L1207.1,770.4 L1207.6,770.5 L1208.1,770.5 L1208.6,770.4 L1209.1,770.2 L1209.6,770.1 L1210.1,770.1 L1210.6,770.4 L1211.1,770.7 L1211.6,770.9 L1212.1,771.0 L1212.6,771.1 L1213.1,771.1 L1213.6,770.7 L1214.1,770.3 L1214.6,770.0 L1215.1,770.0 L1215.6,770.1 L1216.1,770.3 L1216.6,770.5 L1217.1,770.7 L1217.6,770.6 L1218.1,770.5 L1218.6,770.4 L1219.1,770.4 L1219.6,770.4 L1220.1,770.3 L1220.6,770.3 L1221.1,770.2 L1221.6,770.3 L1222.1,770.5 L1222.6,770.6 L1223.1,770.6 L1223.6,770.2 L1224.1,770.0 L1224.6,769.5 L1225.1,769.5 L1225.6,769.3 L1226.1,769.5 L1226.6,769.4 L1227.1,769.6 L1227.6,769.4 L1228.1,769.2 L1228.6,769.1 L1229.1,769.1 L1229.6,769.0 L1230.1,768.6 L1230.6,768.5 L1231.1,768.4 L1231.6,768.4 L1232.1,768.2 L1232.6,767.7 L1233.1,767.5 L1233.6,767.2 L1234.1,767.1 L1234.6,766.9 L1235.1,766.8 L1235.6,766.7 L1236.1,766.6 L1236.6,766.5 L1237.1,766.2 L1237.6,766.0 L1238.1,765.9 L1238.6,766.0 L1239.1,766.2 L1239.6,766.4 L1240.1,766.7 L1240.6,766.9 L1241.1,767.2 L1241.6,767.4 L1242.1,767.5 L1242.6,767.5 L1243.1,767.8 L1243.6,768.2 L1244.1,768.8 L1244.6,768.9 L1245.1,768.9 L1245.6,768.9 L1246.1,769.3 L1246.6,769.7 L1247.1,769.9 L1247.6,769.6 L1248.1,769.2 L1248.6,769.1 L1249.1,769.3 L1249.6,769.7 L1250.1,769.7 L1250.6,769.8 L1251.1,769.7 L1251.6,769.9 L1252.1,769.9 L1252.6,769.8 L1253.1,769.7 L1253.6,769.7 L1254.1,769.7 L1254.6,769.6 L1255.1,769.4 L1255.6,769.4 L1256.1,769.4 L1256.6,769.3 L1257.1,769.1 L1257.6,768.9 L1258.1,768.7 L1258.6,768.6 L1259.1,768.5 L1259.6,768.3 L1260.1,768.0 L1260.6,767.9 L1261.1,768.0 L1261.6,768.1 L1262.1,768.0 L1262.6,767.9 L1263.1,767.7 L1263.6,767.6 L1264.1,767.2 L1264.6,766.8 L1265.1,766.2 L1265.6,765.9 L1266.1,765.6 L1266.6,765.5 L1267.1,765.4 L1267.6,765.5 L1268.1,765.7 L1268.6,765.8 L1269.1,766.2 L1269.6,766.6 L1270.1,767.0 L1270.6,767.0 L1271.1,766.7 L1271.6,766.4 L1272.1,766.6 L1272.6,767.2 L1273.1,767.9 L1273.6,768.3 L1274.1,768.6 L1274.6,768.9 L1275.1,769.1 L1275.6,769.3 L1276.1,769.4 L1276.6,769.6 L1277.1,769.6 L1277.6,769.6 L1278.1,769.9 L1278.6,770.3 L1279.1,770.6 L1279.6,770.7 L1280.1,770.8 L1280.6,770.5 L1281.1,770.4 L1281.6,770.1 L1282.1,770.2 L1282.6,770.2 L1283.1,770.5 L1283.6,770.7 L1284.1,771.0 L1284.6,771.0 L1285.1,771.0 L1285.6,770.7 L1286.1,770.6 L1286.6,770.5 L1287.1,770.5 L1287.6,770.8 L1288.1,771.1 L1288.6,771.1 L1289.1,771.0 L1289.6,770.8 L1290.1,770.9 L1290.6,770.8 L1291.1,770.8 L1291.6,770.7 L1292.1,770.8 L1292.6,770.9 L1293.1,771.0 L1293.6,771.1 L1294.1,770.9 L1294.6,771.0 L1295.1,771.0 L1295.6,771.4 L1296.1,771.3 L1296.6,771.1 L1297.1,770.8 L1297.6,770.7 L1298.1,770.6 L1298.6,770.9 L1299.1,771.0 L1299.6,771.1 L1300.1,770.8 L1300.6,770.5 L1301.1,770.4 L1301.6,770.6 L1302.1,770.8 L1302.6,771.0 L1303.1,771.1 L1303.6,771.0 L1304.1,770.6 L1304.6,770.2 L1305.1,770.2 L1305.6,770.5 L1306.1,770.8 L1306.6,771.1 L1307.1,771.0 L1307.6,770.9 L1308.1,770.7 L1308.6,770.5 L1309.1,770.5 L1309.6,770.4 L1310.1,770.5 L1310.6,770.3 L1311.1,770.2 L1311.6,770.2 L1312.1,770.6 L1312.6,770.8 L1313.1,771.2 L1313.6,771.1 L1314.1,771.0 L1314.6,770.5 L1315.1,770.4 L1315.6,770.5 L1316.1,771.0 L1316.6,771.4 L1317.1,771.5 L1317.6,771.4 L1318.1,771.1 L1318.6,770.7 L1319.1,770.5 L1319.6,770.4 L1320.1,770.3 L1320.6,770.4 L1321.1,770.8 L1321.6,771.3 L1322.1,771.5 L1322.6,771.1 L1323.1,770.5 L1323.6,769.9 L1324.1,769.8 L1324.6,770.0 L1325.1,770.5 L1325.6,770.8 L1326.1,770.9 L1326.6,770.6 L1327.1,770.4 L1327.6,770.1 L1328.1,770.3 L1328.6,770.4 L1329.1,770.8 L1329.6,770.8 L1330.1,770.8 L1330.6,770.6 L1331.1,770.6 L1331.6,770.5 L1332.1,770.4 L1332.6,770.4 L1333.1,770.4 L1333.6,770.4 L1334.1,770.5 L1334.6,770.8 L1335.1,771.0 L1335.6,770.8 L1336.1,770.6 L1336.6,770.5 L1337.1,770.7 L1337.6,770.9 L1338.1,770.9 L1338.6,770.8 L1339.1,770.7 L1339.6,770.3 L1340.1,769.9 L1340.6,769.7 L1341.1,770.0 L1341.6,770.3 L1342.1,770.4 L1342.6,769.9 L1343.1,769.5 L1343.6,769.3 L1344.1,769.5 L1344.6,769.9 L1345.1,770.1 L1345.6,769.9 L1346.1,769.5 L1346.6,769.1 L1347.1,768.8 L1347.6,768.5 L1348.1,768.3 L1348.6,768.1 L1349.1,768.1 L1349.6,768.1 L1350.1,767.8 L1350.6,767.3 L1351.1,766.5 L1351.6,765.8 L1352.1,765.2 L1352.6,765.0 L1353.1,765.0 L1353.6,765.1 L1354.1,765.0 L1354.6,764.8 L1355.1,764.7 L1355.6,764.6 L1356.1,764.8 L1356.6,764.8 L1357.1,764.9 L1357.6,765.0 L1358.1,765.1 L1358.6,765.3 L1359.1,765.3 L1359.6,765.3 L1360.1,765.4 L1360.6,765.8 L1361.1,766.5 L1361.6,767.2 L1362.1,767.9 L1362.6,768.2 L1363.1,768.5 L1363.6,768.8 L1364.1,769.1 L1364.6,769.0 L1365.1,769.0 L1365.6,769.0 L1366.1,769.1 L1366.6,769.0 L1367.1,769.0 L1367.6,769.0 L1368.1,769.3 L1368.6,769.5 L1369.1,769.7 L1369.6,770.1 L1370.1,770.4 L1370.6,770.8 L1371.1,770.9 L1371.6,770.9 L1372.1,770.9 L1372.6,770.9 L1373.1,770.9 L1373.6,770.8 L1374.1,770.7 L1374.6,770.7 L1375.1,770.8 L1375.6,770.9 L1376.1,771.0 L1376.6,771.1 L1377.1,771.1 L1377.6,771.2 L1378.1,771.1 L1378.6,771.0 L1379.1,770.9 L1379.6,771.0 L1380.1,771.1 L1380.6,771.0 L1381.1,770.7 L1381.6,770.5 L1382.1,770.5 L1382.6,770.5 L1383.1,770.6 L1383.6,770.8 L1384.1,771.1 L1384.6,771.5 L1385.1,771.6 L1385.6,771.4 L1386.1,771.0 L1386.6,771.0 L1387.1,771.4 L1387.6,771.8 L1388.1,771.7 L1388.6,771.5 L1389.1,771.1 L1389.6,771.2 L1390.1,771.2 L1390.6,771.4 L1391.1,771.2 L1391.6,771.0 L1392.1,770.6 L1392.6,770.7 L1393.1,770.8 L1393.6,771.0 L1394.1,771.1 L1394.6,771.1 L1395.1,771.3 L1395.6,771.6 L1396.1,771.8 L1396.6,771.9 L1397.1,771.9 L1397.6,771.7 L1398.1,771.3 L1398.6,771.0 L1399.1,771.1 L1399.6,771.4 L1400.1,771.7 L1400.6,771.5 L1401.1,771.2 L1401.6,770.9 L1402.1,771.0 L1402.6,771.1 L1403.1,771.2 L1403.6,771.0 L1404.1,770.8 L1404.6,770.9 L1405.1,771.1 L1405.6,771.2 L1406.1,771.1 L1406.6,771.2 L1407.1,771.4 L1407.6,771.5 L1408.1,771.2 L1408.6,771.0 L1409.1,771.0 L1409.6,771.3 L1410.1,771.4 L1410.6,771.5 L1411.1,771.5 L1411.6,771.7 L1412.1,772.0 L1412.6,772.1 L1413.1,772.0 L1413.6,771.8 L1414.1,771.5 L1414.6,771.4 L1415.1,771.3 L1415.6,771.2 L1416.1,771.3 L1416.6,771.3 L1417.1,771.4 L1417.6,771.4 L1418.1,771.2 L1418.6,771.0 L1419.1,770.8 L1419.6,770.8 L1420.1,770.9 L1420.6,771.2 L1421.1,771.4 L1421.6,771.7 L1422.1,771.8 L1422.6,771.7 L1423.1,771.4 L1423.6,771.3 L1424.1,771.4 L1424.6,771.6 L1425.1,771.8 L1425.6,771.8 L1426.1,771.8 L1426.6,771.3 L1427.1,770.8 L1427.6,770.6 L1428.1,770.8 L1428.6,771.3 L1429.1,771.8 L1429.6,772.0 L1430.1,772.0 L1430.6,771.7 L1431.1,771.4 L1431.6,771.4 L1432.1,771.4 L1432.6,771.4 L1433.1,771.4 L1433.6,771.3 L1434.1,771.3 L1434.6,771.2 L1435.1,771.1 L1435.6,771.0 L1436.1,771.2 L1436.6,771.4 L1437.1,771.8 L1437.6,771.9 L1438.1,771.7 L1438.6,771.5 L1439.1,771.3 L1439.6,771.5 L1440.1,771.1 L1440.6,770.9 L1441.1,770.4 L1441.6,770.6 L1442.1,770.8 L1442.6,771.2 L1443.1,771.2 L1443.6,771.2 L1444.1,771.1 L1444.6,771.2 L1445.1,771.4 L1445.6,771.5 L1446.1,771.3"/>
<path stroke="#3DAA6D" d="M147.6,682.5 L148.1,682.5 L148.6,682.3 L149.1,682.1 L149.6,682.0 L150.1,682.3 L150.6,682.5 L151.1,682.5 L151.6,682.7 L152.1,682.8 L152.6,683.0 L153.1,682.8 L153.6,682.7 L154.1,682.6 L154.6,682.5 L155.1,682.5 L155.6,682.4 L156.1,682.4 L156.6,682.5 L157.1,682.7 L157.6,682.6 L158.1,682.5 L158.6,682.3 L159.1,682.2 L159.6,682.2 L160.1,682.4 L160.6,682.5 L161.1,682.5 L161.6,682.4 L162.1,682.2 L162.6,682.0 L163.1,682.1 L163.6,682.3 L164.1,682.4 L164.6,682.2 L165.1,681.9 L165.6,681.6 L166.1,681.7 L166.6,681.9 L167.1,682.2 L167.6,682.3 L168.1,682.2 L168.6,682.1 L169.1,682.0 L169.6,682.0 L170.1,682.0 L170.6,682.0 L171.1,681.8 L171.6,681.8 L172.1,681.8 L172.6,682.0 L173.1,682.2 L173.6,682.1 L174.1,682.2 L174.6,682.3 L175.1,682.5 L175.6,682.5 L176.1,682.3 L176.6,682.2 L177.1,682.2 L177.6,682.1 L178.1,681.9 L178.6,681.9 L179.1,682.0 L179.6,682.0 L180.1,681.8 L180.6,681.6 L181.1,681.4 L181.6,681.5 L182.1,681.7 L182.6,682.1 L183.1,682.3 L183.6,682.5 L184.1,682.4 L184.6,682.1 L185.1,681.7 L185.6,681.5 L186.1,681.5 L186.6,681.6 L187.1,681.7 L187.6,681.8 L188.1,681.8 L188.6,681.6 L189.1,681.7 L189.6,681.7 L190.1,681.8 L190.6,681.7 L191.1,681.6 L191.6,681.7 L192.1,681.6 L192.6,681.6 L193.1,681.5 L193.6,681.7 L194.1,681.8 L194.6,682.1 L195.1,682.1 L195.6,682.0 L196.1,681.9 L196.6,681.7 L197.1,681.5 L197.6,681.4 L198.1,681.4 L198.6,681.3 L199.1,681.2 L199.6,681.1 L200.1,681.2 L200.6,681.3 L201.1,681.3 L201.6,681.1 L202.1,681.2 L202.6,681.4 L203.1,681.5 L203.6,681.5 L204.1,681.3 L204.6,681.5 L205.1,681.6 L205.6,681.8 L206.1,681.6 L206.6,681.6 L207.1,681.5 L207.6,681.5 L208.1,681.4 L208.6,681.4 L209.1,681.2 L209.6,681.1 L210.1,681.0 L210.6,680.9 L211.1,681.0 L211.6,681.0 L212.1,681.1 L212.6,681.1 L213.1,681.2 L213.6,681.3 L214.1,681.3 L214.6,681.3 L215.1,681.3 L215.6,681.2 L216.1,681.1 L216.6,681.1 L217.1,681.0 L217.6,680.9 L218.1,680.7 L218.6,680.5 L219.1,680.7 L219.6,680.8 L220.1,681.1 L220.6,681.0 L221.1,681.1 L221.6,681.0 L222.1,680.9 L222.6,681.0 L223.1,681.2 L223.6,681.5 L224.1,681.7 L224.6,681.7 L225.1,681.5 L225.6,681.5 L226.1,681.4 L226.6,681.3 L227.1,681.1 L227.6,681.0 L228.1,680.9 L228.6,680.9 L229.1,680.9 L229.6,681.1 L230.1,681.2 L230.6,681.1 L231.1,680.9 L231.6,680.8 L232.1,680.9 L232.6,681.0 L233.1,681.1 L233.6,681.1 L234.1,680.9 L234.6,680.7 L235.1,680.6 L235.6,680.6 L236.1,680.6 L236.6,680.8 L237.1,680.9 L237.6,681.1 L238.1,681.1 L238.6,680.9 L239.1,680.6 L239.6,680.6 L240.1,680.8 L240.6,680.7 L241.1,680.6 L241.6,680.6 L242.1,680.9 L242.6,681.1 L243.1,681.3 L243.6,681.2 L244.1,681.1 L244.6,680.7 L245.1,680.3 L245.6,680.1 L246.1,680.2 L246.6,680.5 L247.1,680.8 L247.6,680.8 L248.1,680.8 L248.6,680.7 L249.1,681.0 L249.6,680.9 L250.1,681.0 L250.6,680.8 L251.1,680.9 L251.6,680.8 L252.1,680.8 L252.6,680.6 L253.1,680.5 L253.6,680.4 L254.1,680.2 L254.6,680.1 L255.1,680.1 L255.6,680.4 L256.1,680.8 L256.6,681.1 L257.1,681.0 L257.6,680.6 L258.1,680.2 L258.6,680.0 L259.1,680.1 L259.6,680.3 L260.1,680.5 L260.6,680.5 L261.1,680.5 L261.6,680.6 L262.1,680.6 L262.6,680.5 L263.1,680.2 L263.6,680.1 L264.1,680.2 L264.6,680.3 L265.1,680.4 L265.6,680.4 L266.1,680.4 L266.6,680.3 L267.1,680.2 L267.6,680.1 L268.1,680.0 L268.6,680.1 L269.1,680.2 L269.6,680.2 L270.1,680.1 L270.6,680.1 L271.1,680.0 L271.6,680.2 L272.1,680.3 L272.6,680.6 L273.1,680.6 L273.6,680.6 L274.1,680.2 L274.6,679.9 L275.1,680.0 L275.6,680.4 L276.1,680.7 L276.6,680.8 L277.1,680.6 L277.6,680.3 L278.1,679.9 L278.6,679.7 L279.1,679.8 L279.6,680.0 L280.1,680.2 L280.6,680.1 L281.1,680.0 L281.6,679.8 L282.1,679.9 L282.6,680.0 L283.1,680.2 L283.6,680.2 L284.1,680.2 L284.6,680.1 L285.1,680.1 L285.6,680.0 L286.1,680.0 L286.6,679.9 L287.1,679.9 L287.6,679.8 L288.1,679.8 L288.6,679.9 L289.1,679.9 L289.6,679.8 L290.1,679.6 L290.6,679.5 L291.1,679.6 L291.6,679.8 L292.1,679.9 L292.6,679.8 L293.1,679.5 L293.6,679.4 L294.1,679.2 L294.6,679.2 L295.1,679.2 L295.6,679.2 L296.1,679.2 L296.6,679.3 L297.1,679.5 L297.6,679.6 L298.1,679.8 L298.6,679.7 L299.1,679.5 L299.6,679.1 L300.1,679.1 L300.6,679.2 L301.1,679.2 L301.6,679.2 L302.1,679.1 L302.6,679.1 L303.1,679.1 L303.6,679.2 L304.1,679.2 L304.6,679.3 L305.1,679.5 L305.6,679.5 L306.1,679.5 L306.6,679.4 L307.1,679.4 L307.6,679.4 L308.1,679.5 L308.6,679.4 L309.1,679.2 L309.6,678.8 L310.1,678.6 L310.6,678.5 L311.1,678.7 L311.6,678.8 L312.1,678.9 L312.6,679.0 L313.1,679.1 L313.6,679.1 L314.1,679.2 L314.6,679.3 L315.1,679.4 L315.6,679.3 L316.1,679.2 L316.6,679.1 L317.1,679.1 L317.6,678.9 L318.1,678.7 L318.6,678.7 L319.1,678.7 L319.6,678.8 L320.1,678.8 L320.6,679.0 L321.1,679.1 L321.6,679.1 L322.1,678.8 L322.6,678.7 L323.1,678.5 L323.6,678.5 L324.1,678.4 L324.6,678.7 L325.1,678.7 L325.6,678.8 L326.1,678.5 L326.6,678.4 L327.1,678.4 L327.6,678.7 L328.1,678.9 L328.6,679.0 L329.1,678.7 L329.6,678.4 L330.1,678.5 L330.6,678.6 L331.1,678.8 L331.6,678.7 L332.1,678.5 L332.6,678.5 L333.1,678.5 L333.6,678.4 L334.1,678.4 L334.6,678.4 L335.1,678.7 L335.6,678.6 L336.1,678.5 L336.6,678.2 L337.1,678.1 L337.6,678.2 L338.1,678.1 L338.6,678.0 L339.1,677.8 L339.6,677.8 L340.1,677.8 L340.6,678.0 L341.1,678.1 L341.6,678.1 L342.1,678.0 L342.6,677.6 L343.1,677.4 L343.6,677.5 L344.1,677.9 L344.6,678.0 L345.1,678.0 L345.6,677.7 L346.1,677.7 L346.6,677.7 L347.1,677.9 L347.6,678.0 L348.1,678.1 L348.6,678.0 L349.1,677.8 L349.6,677.8 L350.1,677.8 L350.6,677.9 L351.1,677.7 L351.6,677.6 L352.1,677.6 L352.6,677.8 L353.1,678.0 L353.6,678.1 L354.1,678.2 L354.6,678.1 L355.1,677.9 L355.6,677.9 L356.1,677.9 L356.6,677.9 L357.1,677.7 L357.6,677.7 L358.1,677.8 L358.6,677.7 L359.1,677.4 L359.6,677.2 L360.1,677.2 L360.6,677.6 L361.1,677.5 L361.6,677.5 L362.1,677.2 L362.6,677.2 L363.1,677.2 L363.6,677.3 L364.1,677.4 L364.6,677.3 L365.1,677.2 L365.6,677.2 L366.1,677.2 L366.6,677.1 L367.1,677.1 L367.6,677.2 L368.1,677.5 L368.6,677.7 L369.1,677.5 L369.6,677.3 L370.1,677.1 L370.6,677.1 L371.1,677.3 L371.6,677.3 L372.1,677.3 L372.6,677.3 L373.1,677.3 L373.6,677.4 L374.1,677.4 L374.6,677.3 L375.1,676.9 L375.6,676.8 L376.1,676.7 L376.6,676.8 L377.1,676.9 L377.6,676.9 L378.1,676.8 L378.6,676.5 L379.1,676.5 L379.6,676.5 L380.1,676.7 L380.6,676.8 L381.1,677.0 L381.6,676.9 L382.1,676.9 L382.6,676.9 L383.1,677.1 L383.6,677.3 L384.1,677.3 L384.6,677.1 L385.1,676.8 L385.6,676.7 L386.1,676.5 L386.6,676.6 L387.1,676.7 L387.6,676.9 L388.1,676.8 L388.6,676.6 L389.1,676.2 L389.6,676.0 L390.1,676.1 L390.6,676.4 L391.1,676.7 L391.6,676.8 L392.1,676.7 L392.6,676.5 L393.1,676.5 L393.6,676.6 L394.1,676.5 L394.6,676.4 L395.1,676.3 L395.6,676.4 L396.1,676.2 L396.6,676.1 L397.1,676.1 L397.6,676.1 L398.1,676.1 L398.6,676.0 L399.1,676.0 L399.6,676.0 L400.1,675.8 L400.6,675.5 L401.1,675.3 L401.6,675.2 L402.1,675.4 L402.6,675.6 L403.1,675.8 L403.6,675.9 L404.1,676.0 L404.6,676.1 L405.1,675.9 L405.6,675.7 L406.1,675.4 L406.6,675.3 L407.1,675.2 L407.6,675.4 L408.1,675.4 L408.6,675.3 L409.1,674.9 L409.6,674.6 L410.1,674.4 L410.6,674.3 L411.1,674.1 L411.6,673.9 L412.1,673.9 L412.6,673.8 L413.1,673.8 L413.6,673.6 L414.1,673.5 L414.6,673.4 L415.1,673.2 L415.6,672.8 L416.1,672.4 L416.6,672.1 L417.1,671.8 L417.6,671.5 L418.1,671.0 L418.6,670.4 L419.1,669.6 L419.6,668.9 L420.1,668.3 L420.6,667.6 L421.1,666.5 L421.6,665.2 L422.1,663.8 L422.6,662.2 L423.1,660.2 L423.6,657.8 L424.1,655.4 L424.6,652.7 L425.1,649.6 L425.6,645.8 L426.1,641.7 L426.6,637.3 L427.1,632.8 L427.6,627.9 L428.1,622.8 L428.6,617.4 L429.1,612.3 L429.6,607.6 L430.1,603.9 L430.6,601.3 L431.1,600.3 L431.6,600.8 L432.1,602.8 L432.6,606.2 L433.1,610.6 L433.6,615.7 L434.1,621.0 L434.6,626.4 L435.1,631.7 L435.6,636.8 L436.1,641.4 L436.6,645.4 L437.1,648.9 L437.6,652.1 L438.1,655.0 L438.6,657.9 L439.1,660.4 L439.6,662.6 L440.1,664.2 L440.6,665.8 L441.1,667.1 L441.6,668.3 L442.1,669.1 L442.6,669.9 L443.1,670.7 L443.6,671.5 L444.1,672.3 L444.6,672.9 L445.1,673.4 L445.6,673.8 L446.1,674.1 L446.6,674.3 L447.1,674.5 L447.6,674.7 L448.1,675.0 L448.6,675.3 L449.1,675.6 L449.6,675.7 L450.1,675.9 L450.6,676.2 L451.1,676.4 L451.6,676.5 L452.1,676.6 L452.6,676.8 L453.1,676.9 L453.6,676.8 L454.1,676.9 L454.6,677.2 L455.1,677.6 L455.6,677.6 L456.1,677.6 L456.6,677.6 L457.1,678.0 L457.6,678.2 L458.1,678.5 L458.6,678.5 L459.1,678.5 L459.6,678.2 L460.1,677.9 L460.6,677.8 L461.1,677.8 L461.6,677.8 L462.1,678.1 L462.6,678.4 L463.1,678.7 L463.6,678.7 L464.1,678.4 L464.6,678.3 L465.1,678.5 L465.6,678.7 L466.1,678.7 L466.6,678.7 L467.1,678.7 L467.6,678.9 L468.1,679.1 L468.6,679.3 L469.1,679.5 L469.6,679.4 L470.1,679.1 L470.6,678.8 L471.1,678.4 L471.6,678.5 L472.1,678.6 L472.6,678.9 L473.1,679.0 L473.6,678.7 L474.1,678.4 L474.6,678.1 L475.1,678.1 L475.6,678.1 L476.1,678.2 L476.6,678.2 L477.1,678.2 L477.6,677.9 L478.1,677.5 L478.6,677.2 L479.1,676.9 L479.6,676.5 L480.1,676.1 L480.6,676.0 L481.1,675.9 L481.6,675.8 L482.1,675.3 L482.6,674.7 L483.1,674.3 L483.6,674.2 L484.1,673.9 L484.6,673.5 L485.1,673.1 L485.6,672.8 L486.1,672.4 L486.6,672.0 L487.1,671.4 L487.6,670.9 L488.1,670.4 L488.6,670.2 L489.1,670.1 L489.6,670.1 L490.1,670.2 L490.6,670.2 L491.1,670.2 L491.6,670.2 L492.1,670.6 L492.6,671.1 L493.1,671.5 L493.6,671.8 L494.1,672.0 L494.6,672.0 L495.1,672.0 L495.6,672.5 L496.1,673.1 L496.6,673.8 L497.1,674.5 L497.6,674.9 L498.1,675.3 L498.6,675.6 L499.1,676.0 L499.6,676.2 L500.1,676.6 L500.6,677.0 L501.1,677.6 L501.6,678.1 L502.1,678.3 L502.6,678.5 L503.1,678.7 L503.6,678.9 L504.1,679.1 L504.6,679.2 L505.1,679.4 L505.6,679.7 L506.1,680.0 L506.6,680.2 L507.1,680.4 L507.6,680.6 L508.1,680.5 L508.6,680.5 L509.1,680.5 L509.6,680.7 L510.1,680.9 L510.6,680.9 L511.1,680.8 L511.6,681.0 L512.1,681.2 L512.6,681.6 L513.1,682.0 L513.6,682.3 L514.1,682.3 L514.6,682.1 L515.1,681.8 L515.6,681.7 L516.1,681.8 L516.6,681.9 L517.1,681.9 L517.6,682.0 L518.1,681.9 L518.6,682.1 L519.1,682.1 L519.6,682.3 L520.1,682.3 L520.6,682.4 L521.1,682.4 L521.6,682.3 L522.1,682.3 L522.6,682.4 L523.1,682.6 L523.6,682.8 L524.1,682.9 L524.6,682.9 L525.1,682.9 L525.6,682.9 L526.1,682.8 L526.6,682.7 L527.1,682.6 L527.6,682.5 L528.1,682.7 L528.6,682.8 L529.1,682.7 L529.6,682.5 L530.1,682.5 L530.6,682.6 L531.1,682.6 L531.6,682.6 L532.1,682.6 L532.6,682.7 L533.1,682.6 L533.6,682.6 L534.1,682.7 L534.6,682.8 L535.1,682.9 L535.6,683.0 L536.1,683.0 L536.6,683.0 L537.1,682.9 L537.6,682.7 L538.1,682.5 L538.6,682.5 L539.1,682.7 L539.6,682.9 L540.1,683.1 L540.6,683.1 L541.1,683.1 L541.6,683.0 L542.1,682.8 L542.6,682.7 L543.1,682.8 L543.6,682.8 L544.1,682.9 L544.6,682.8 L545.1,682.7 L545.6,682.7 L546.1,682.7 L546.6,682.8 L547.1,683.0 L547.6,683.0 L548.1,683.0 L548.6,682.7 L549.1,682.6 L549.6,682.5 L550.1,682.6 L550.6,682.8 L551.1,683.0 L551.6,683.2 L552.1,683.3 L552.6,683.2 L553.1,683.1 L553.6,683.1 L554.1,683.1 L554.6,682.9 L555.1,682.7 L555.6,682.8 L556.1,683.0 L556.6,683.1 L557.1,683.1 L557.6,683.0 L558.1,683.1 L558.6,683.0 L559.1,683.1 L559.6,683.0 L560.1,683.0 L560.6,682.8 L561.1,682.7 L561.6,682.5 L562.1,682.4 L562.6,682.4 L563.1,682.5 L563.6,682.5 L564.1,682.5 L564.6,682.4 L565.1,682.3 L565.6,682.1 L566.1,682.1 L566.6,682.0 L567.1,681.8 L567.6,681.6 L568.1,681.4 L568.6,681.5 L569.1,681.5 L569.6,681.4 L570.1,680.9 L570.6,680.6 L571.1,680.5 L571.6,680.5 L572.1,680.4 L572.6,680.2 L573.1,679.9 L573.6,679.7 L574.1,679.7 L574.6,679.8 L575.1,679.9 L575.6,679.9 L576.1,680.0 L576.6,680.2 L577.1,680.4 L577.6,680.6 L578.1,680.9 L578.6,681.2 L579.1,681.5 L579.6,681.8 L580.1,682.0 L580.6,682.0 L581.1,681.8 L581.6,681.7 L582.1,681.6 L582.6,681.8 L583.1,681.9 L583.6,682.2 L584.1,682.5 L584.6,682.9 L585.1,683.1 L585.6,683.3 L586.1,683.2 L586.6,683.2 L587.1,683.3 L587.6,683.3 L588.1,683.4 L588.6,683.4 L589.1,683.6 L589.6,684.0 L590.1,684.1 L590.6,684.1 L591.1,683.9 L591.6,683.7 L592.1,683.8 L592.6,684.0 L593.1,684.0 L593.6,684.0 L594.1,684.0 L594.6,683.7 L595.1,683.5 L595.6,683.5 L596.1,683.8 L596.6,684.0 L597.1,684.0 L597.6,683.9 L598.1,683.7 L598.6,683.7 L599.1,683.7 L599.6,683.8 L600.1,683.9 L600.6,684.1 L601.1,684.2 L601.6,684.3 L602.1,684.4 L602.6,684.3 L603.1,684.0 L603.6,683.6 L604.1,683.5 L604.6,683.6 L605.1,683.6 L605.6,683.6 L606.1,683.6 L606.6,683.8 L607.1,683.9 L607.6,684.2 L608.1,684.2 L608.6,684.0 L609.1,683.6 L609.6,683.5 L610.1,683.7 L610.6,684.0 L611.1,684.2 L611.6,684.3 L612.1,684.2 L612.6,684.2 L613.1,684.1 L613.6,684.2 L614.1,684.3 L614.6,684.3 L615.1,684.4 L615.6,684.4 L616.1,684.4 L616.6,684.3 L617.1,684.1 L617.6,684.1 L618.1,684.2 L618.6,684.5 L619.1,684.4 L619.6,684.1 L620.1,683.7 L620.6,683.5 L621.1,683.6 L621.6,683.7 L622.1,683.7 L622.6,683.7 L623.1,683.8 L623.6,683.8 L624.1,684.0 L624.6,684.1 L625.1,683.9 L625.6,683.7 L626.1,683.5 L626.6,683.8 L627.1,684.2 L627.6,684.4 L628.1,684.3 L628.6,684.0 L629.1,683.9 L629.6,683.9 L630.1,684.0 L630.6,684.0 L631.1,684.0 L631.6,683.9 L632.1,683.8 L632.6,683.6 L633.1,683.5 L633.6,683.2 L634.1,683.3 L634.6,683.5 L635.1,683.7 L635.6,683.8 L636.1,683.8 L636.6,683.8 L637.1,683.6 L637.6,683.5 L638.1,683.5 L638.6,683.4 L639.1,683.2 L639.6,682.7 L640.1,682.3 L640.6,681.9 L641.1,681.7 L641.6,681.6 L642.1,681.7 L642.6,681.5 L643.1,681.3 L643.6,681.0 L644.1,680.8 L644.6,680.4 L645.1,680.1 L645.6,679.7 L646.1,679.2 L646.6,678.8 L647.1,678.7 L647.6,678.9 L648.1,679.4 L648.6,679.7 L649.1,680.1 L649.6,680.2 L650.1,680.6 L650.6,681.0 L651.1,681.2 L651.6,681.4 L652.1,681.5 L652.6,681.5 L653.1,681.5 L653.6,681.4 L654.1,681.3 L654.6,681.0 L655.1,680.7 L655.6,680.4 L656.1,680.3 L656.6,679.9 L657.1,679.4 L657.6,678.5 L658.1,677.5 L658.6,676.5 L659.1,675.7 L659.6,674.9 L660.1,674.2 L660.6,673.3 L661.1,672.3 L661.6,671.4 L662.1,670.9 L662.6,670.5 L663.1,670.3 L663.6,670.5 L664.1,670.8 L664.6,671.5 L665.1,672.2 L665.6,673.1 L666.1,674.1 L666.6,675.1 L667.1,676.0 L667.6,676.9 L668.1,677.8 L668.6,678.4 L669.1,678.9 L669.6,679.3 L670.1,679.7 L670.6,680.4 L671.1,680.8 L671.6,681.0 L672.1,680.8 L672.6,680.6 L673.1,680.3 L673.6,680.1 L674.1,679.9 L674.6,679.7 L675.1,679.3 L675.6,678.9 L676.1,678.8 L676.6,678.8 L677.1,679.0 L677.6,679.1 L678.1,679.0 L678.6,679.0 L679.1,679.2 L679.6,679.5 L680.1,679.8 L680.6,680.3 L681.1,680.8 L681.6,681.5 L682.1,682.2 L682.6,682.6 L683.1,682.8 L683.6,682.6 L684.1,682.7 L684.6,682.9 L685.1,683.3 L685.6,683.4 L686.1,683.5 L686.6,683.6 L687.1,683.7 L687.6,684.0 L688.1,684.1 L688.6,684.1 L689.1,684.1 L689.6,684.3 L690.1,684.4 L690.6,684.3 L691.1,684.0 L691.6,683.9 L692.1,684.0 L692.6,684.0 L693.1,683.9 L693.6,683.9 L694.1,683.8 L694.6,684.1 L695.1,684.0 L695.6,684.3 L696.1,684.2 L696.6,684.4 L697.1,684.2 L697.6,684.2 L698.1,684.2 L698.6,684.3 L699.1,684.3 L699.6,684.3 L700.1,684.3 L700.6,684.5 L701.1,684.5 L701.6,684.5 L702.1,684.4 L702.6,684.4 L703.1,684.3 L703.6,684.3 L704.1,684.3 L704.6,684.5 L705.1,684.7 L705.6,684.7 L706.1,684.6 L706.6,684.6 L707.1,684.7 L707.6,684.6 L708.1,684.5 L708.6,684.4 L709.1,684.5 L709.6,684.6 L710.1,684.6 L710.6,684.5 L711.1,684.6 L711.6,684.8 L712.1,684.9 L712.6,684.9 L713.1,684.7 L713.6,684.7 L714.1,684.5 L714.6,684.5 L715.1,684.3 L715.6,684.3 L716.1,684.4 L716.6,684.6 L717.1,684.6 L717.6,684.8 L718.1,684.9 L718.6,685.0 L719.1,684.9 L719.6,684.8 L720.1,684.9 L720.6,684.9 L721.1,684.9 L721.6,684.7 L722.1,684.7 L722.6,684.8 L723.1,684.9 L723.6,684.9 L724.1,684.9 L724.6,684.9 L725.1,684.7 L725.6,684.5 L726.1,684.4 L726.6,684.6 L727.1,684.7 L727.6,684.7 L728.1,684.9 L728.6,685.0 L729.1,685.1 L729.6,685.1 L730.1,684.9 L730.6,684.8 L731.1,684.5 L731.6,684.4 L732.1,684.3 L732.6,684.4 L733.1,684.4 L733.6,684.5 L734.1,684.4 L734.6,684.4 L735.1,684.5 L735.6,684.8 L736.1,684.9 L736.6,685.0 L737.1,684.8 L737.6,684.7 L738.1,684.8 L738.6,684.9 L739.1,685.0 L739.6,685.0 L740.1,684.9 L740.6,684.8 L741.1,684.6 L741.6,684.6 L742.1,684.6 L742.6,684.7 L743.1,684.7 L743.6,684.7 L744.1,684.6 L744.6,684.8 L745.1,684.8 L745.6,685.0 L746.1,684.9 L746.6,684.8 L747.1,684.6 L747.6,684.4 L748.1,684.3 L748.6,684.6 L749.1,684.7 L749.6,685.0 L750.1,684.9 L750.6,685.0 L751.1,685.1 L751.6,685.2 L752.1,685.2 L752.6,685.2 L753.1,685.2 L753.6,685.1 L754.1,684.8 L754.6,684.5 L755.1,684.2 L755.6,684.0 L756.1,683.9 L756.6,684.1 L757.1,684.2 L757.6,684.4 L758.1,684.5 L758.6,684.8 L759.1,685.0 L759.6,685.1 L760.1,685.0 L760.6,685.1 L761.1,685.0 L761.6,685.0 L762.1,684.7 L762.6,684.7 L763.1,684.8 L763.6,685.1 L764.1,685.2 L764.6,685.2 L765.1,685.1 L765.6,684.9 L766.1,684.7 L766.6,684.6 L767.1,684.7 L767.6,684.6 L768.1,684.5 L768.6,684.4 L769.1,684.4 L769.6,684.3 L770.1,684.3 L770.6,684.3 L771.1,684.5 L771.6,684.8 L772.1,684.9 L772.6,684.9 L773.1,684.6 L773.6,684.3 L774.1,684.1 L774.6,684.3 L775.1,684.7 L775.6,685.1 L776.1,685.3 L776.6,685.1 L777.1,684.8 L777.6,684.6 L778.1,684.6 L778.6,684.8 L779.1,684.9 L779.6,684.8 L780.1,684.7 L780.6,684.7 L781.1,684.7 L781.6,684.7 L782.1,684.6 L782.6,684.4 L783.1,684.3 L783.6,684.3 L784.1,684.5 L784.6,684.8 L785.1,685.0 L785.6,685.1 L786.1,684.8 L786.6,684.4 L787.1,684.4 L787.6,684.5 L788.1,684.8 L788.6,684.8 L789.1,684.7 L789.6,684.5 L790.1,684.5 L790.6,684.7 L791.1,684.9 L791.6,685.0 L792.1,684.6 L792.6,684.3 L793.1,684.1 L793.6,684.2 L794.1,684.5 L794.6,684.7 L795.1,684.8 L795.6,684.9 L796.1,684.8 L796.6,684.8 L797.1,684.7 L797.6,684.7 L798.1,684.5 L798.6,684.3 L799.1,684.2 L799.6,684.4 L800.1,684.6 L800.6,685.0 L801.1,685.1 L801.6,684.9 L802.1,684.5 L802.6,684.3 L803.1,684.4 L803.6,684.6 L804.1,684.5 L804.6,684.5 L805.1,684.6 L805.6,684.8 L806.1,684.9 L806.6,684.8 L807.1,684.7 L807.6,684.6 L808.1,684.5 L808.6,684.5 L809.1,684.5 L809.6,684.6 L810.1,684.9 L810.6,685.0 L811.1,685.0 L811.6,684.8 L812.1,684.7 L812.6,684.6 L813.1,684.4 L813.6,684.3 L814.1,684.3 L814.6,684.4 L815.1,684.4 L815.6,684.3 L816.1,684.1 L816.6,683.8 L817.1,683.7 L817.6,683.7 L818.1,683.8 L818.6,684.1 L819.1,684.5 L819.6,684.4 L820.1,684.2 L820.6,683.8 L821.1,683.6 L821.6,683.5 L822.1,683.5 L822.6,683.3 L823.1,683.3 L823.6,683.2 L824.1,683.3 L824.6,683.3 L825.1,683.4 L825.6,683.1 L826.1,682.9 L826.6,682.6 L827.1,682.3 L827.6,681.9 L828.1,681.7 L828.6,681.6 L829.1,681.6 L829.6,681.7 L830.1,681.5 L830.6,681.4 L831.1,681.3 L831.6,681.1 L832.1,680.7 L832.6,680.2 L833.1,679.7 L833.6,679.4 L834.1,679.4 L834.6,679.4 L835.1,679.2 L835.6,679.2 L836.1,679.0 L836.6,678.8 L837.1,678.4 L837.6,678.1 L838.1,677.9 L838.6,677.7 L839.1,677.5 L839.6,677.4 L840.1,677.3 L840.6,677.2 L841.1,677.1 L841.6,676.8 L842.1,676.5 L842.6,676.0 L843.1,675.5 L843.6,675.0 L844.1,674.5 L844.6,674.2 L845.1,673.8 L845.6,673.4 L846.1,672.7 L846.6,671.8 L847.1,670.7 L847.6,669.7 L848.1,668.7 L848.6,667.3 L849.1,665.8 L849.6,664.1 L850.1,662.6 L850.6,661.1 L851.1,659.5 L851.6,657.8 L852.1,656.4 L852.6,655.3 L853.1,654.9 L853.6,654.9 L854.1,655.8 L854.6,657.2 L855.1,659.2 L855.6,661.0 L856.1,662.9 L856.6,664.6 L857.1,666.5 L857.6,668.4 L858.1,670.4 L858.6,672.0 L859.1,673.5 L859.6,674.7 L860.1,676.0 L860.6,676.9 L861.1,677.9 L861.6,678.6 L862.1,679.5 L862.6,680.1 L863.1,680.6 L863.6,680.8 L864.1,681.2 L864.6,681.3 L865.1,681.6 L865.6,681.5 L866.1,681.9 L866.6,682.2 L867.1,682.5 L867.6,682.8 L868.1,683.0 L868.6,683.3 L869.1,683.2 L869.6,683.1 L870.1,682.9 L870.6,682.9 L871.1,683.2 L871.6,683.5 L872.1,683.6 L872.6,683.7 L873.1,683.8 L873.6,684.1 L874.1,684.1 L874.6,684.1 L875.1,684.0 L875.6,684.2 L876.1,684.2 L876.6,684.2 L877.1,684.1 L877.6,684.1 L878.1,684.2 L878.6,684.2 L879.1,684.1 L879.6,684.0 L880.1,684.1 L880.6,684.3 L881.1,684.3 L881.6,684.3 L882.1,684.3 L882.6,684.6 L883.1,684.8 L883.6,684.7 L884.1,684.5 L884.6,684.3 L885.1,684.3 L885.6,684.3 L886.1,684.3 L886.6,684.1 L887.1,684.0 L887.6,684.2 L888.1,684.5 L888.6,684.7 L889.1,684.8 L889.6,684.8 L890.1,684.7 L890.6,684.6 L891.1,684.5 L891.6,684.5 L892.1,684.4 L892.6,684.5 L893.1,684.5 L893.6,684.6 L894.1,684.6 L894.6,684.6 L895.1,684.7 L895.6,684.8 L896.1,685.0 L896.6,685.2 L897.1,685.1 L897.6,685.0 L898.1,684.8 L898.6,684.9 L899.1,684.9 L899.6,684.9 L900.1,684.7 L900.6,684.7 L901.1,684.7 L901.6,684.9 L902.1,685.1 L902.6,685.2 L903.1,685.1 L903.6,684.9 L904.1,684.8 L904.6,684.7 L905.1,684.9 L905.6,684.9 L906.1,685.1 L906.6,685.1 L907.1,685.1 L907.6,685.2 L908.1,685.0 L908.6,684.8 L909.1,684.5 L909.6,684.4 L910.1,684.4 L910.6,684.5 L911.1,684.5 L911.6,684.7 L912.1,684.8 L912.6,684.8 L913.1,684.6 L913.6,684.4 L914.1,684.5 L914.6,684.7 L915.1,684.9 L915.6,685.0 L916.1,685.0 L916.6,685.2 L917.1,685.1 L917.6,685.2 L918.1,685.0 L918.6,685.0 L919.1,684.9 L919.6,685.0 L920.1,685.1 L920.6,685.3 L921.1,685.2 L921.6,685.0 L922.1,685.0 L922.6,685.0 L923.1,685.1 L923.6,685.0 L924.1,685.0 L924.6,685.0 L925.1,685.0 L925.6,684.9 L926.1,684.7 L926.6,684.6 L927.1,684.6 L927.6,684.8 L928.1,684.8 L928.6,685.0 L929.1,685.1 L929.6,685.2 L930.1,684.9 L930.6,684.7 L931.1,684.6 L931.6,684.8 L932.1,685.1 L932.6,685.3 L933.1,685.4 L933.6,685.2 L934.1,685.2 L934.6,685.1 L935.1,684.9 L935.6,684.8 L936.1,684.6 L936.6,684.6 L937.1,684.5 L937.6,684.4 L938.1,684.3 L938.6,684.2 L939.1,684.4 L939.6,684.6 L940.1,684.6 L940.6,684.4 L941.1,684.3 L941.6,684.2 L942.1,684.3 L942.6,684.2 L943.1,684.2 L943.6,684.1 L944.1,684.3 L944.6,684.6 L945.1,684.9 L945.6,684.8 L946.1,684.6 L946.6,684.3 L947.1,684.0 L947.6,683.7 L948.1,683.5 L948.6,683.5 L949.1,683.6 L949.6,683.7 L950.1,683.7 L950.6,683.7 L951.1,683.5 L951.6,683.1 L952.1,682.6 L952.6,682.3 L953.1,682.0 L953.6,681.7 L954.1,681.2 L954.6,680.8 L955.1,680.4 L955.6,679.9 L956.1,679.4 L956.6,678.9 L957.1,678.4 L957.6,677.8 L958.1,677.0 L958.6,676.0 L959.1,675.1 L959.6,674.2 L960.1,673.7 L960.6,673.1 L961.1,672.7 L961.6,672.2 L962.1,672.1 L962.6,672.2 L963.1,672.5 L963.6,673.0 L964.1,673.6 L964.6,674.2 L965.1,674.6 L965.6,675.1 L966.1,675.7 L966.6,676.7 L967.1,677.5 L967.6,678.3 L968.1,678.9 L968.6,679.4 L969.1,679.9 L969.6,680.3 L970.1,680.6 L970.6,680.8 L971.1,681.1 L971.6,681.3 L972.1,681.7 L972.6,682.0 L973.1,682.1 L973.6,682.1 L974.1,681.9 L974.6,681.8 L975.1,681.4 L975.6,681.0 L976.1,680.5 L976.6,680.3 L977.1,679.9 L977.6,679.4 L978.1,678.7 L978.6,678.2 L979.1,677.6 L979.6,676.8 L980.1,676.1 L980.6,675.3 L981.1,674.7 L981.6,673.8 L982.1,673.0 L982.6,672.2 L983.1,671.7 L983.6,671.6 L984.1,671.9 L984.6,672.1 L985.1,672.4 L985.6,672.5 L986.1,673.0 L986.6,673.5 L987.1,674.4 L987.6,675.2 L988.1,676.1 L988.6,676.8 L989.1,677.4 L989.6,678.0 L990.1,678.6 L990.6,679.3 L991.1,679.9 L991.6,680.3 L992.1,680.8 L992.6,681.3 L993.1,681.7 L993.6,682.2 L994.1,682.3 L994.6,682.5 L995.1,682.4 L995.6,682.5 L996.1,682.2 L996.6,682.1 L997.1,682.3 L997.6,682.5 L998.1,682.6 L998.6,682.5 L999.1,682.3 L999.6,682.1 L1000.1,681.9 L1000.6,681.8 L1001.1,681.6 L1001.6,681.4 L1002.1,681.2 L1002.6,681.2 L1003.1,681.2 L1003.6,681.3 L1004.1,681.3 L1004.6,681.1 L1005.1,680.8 L1005.6,680.4 L1006.1,680.2 L1006.6,679.9 L1007.1,679.9 L1007.6,680.0 L1008.1,680.4 L1008.6,680.7 L1009.1,681.1 L1009.6,681.3 L1010.1,681.2 L1010.6,681.2 L1011.1,681.2 L1011.6,681.4 L1012.1,681.7 L1012.6,682.0 L1013.1,682.2 L1013.6,682.3 L1014.1,682.2 L1014.6,682.2 L1015.1,682.3 L1015.6,682.7 L1016.1,683.2 L1016.6,683.6 L1017.1,683.8 L1017.6,683.8 L1018.1,684.0 L1018.6,684.2 L1019.1,684.2 L1019.6,684.2 L1020.1,684.3 L1020.6,684.6 L1021.1,684.6 L1021.6,684.6 L1022.1,684.2 L1022.6,684.2 L1023.1,684.3 L1023.6,684.6 L1024.1,684.7 L1024.6,684.7 L1025.1,684.7 L1025.6,684.6 L1026.1,684.8 L1026.6,685.0 L1027.1,685.3 L1027.6,685.2 L1028.1,684.8 L1028.6,684.6 L1029.1,684.8 L1029.6,685.1 L1030.1,685.4 L1030.6,685.3 L1031.1,685.4 L1031.6,685.3 L1032.1,685.3 L1032.6,685.2 L1033.1,685.1 L1033.6,685.3 L1034.1,685.4 L1034.6,685.7 L1035.1,685.7 L1035.6,685.6 L1036.1,685.4 L1036.6,685.4 L1037.1,685.3 L1037.6,685.4 L1038.1,685.4 L1038.6,685.6 L1039.1,685.6 L1039.6,685.6 L1040.1,685.5 L1040.6,685.5 L1041.1,685.4 L1041.6,685.2 L1042.1,685.0 L1042.6,684.9 L1043.1,685.1 L1043.6,685.5 L1044.1,685.7 L1044.6,685.8 L1045.1,685.6 L1045.6,685.5 L1046.1,685.3 L1046.6,685.1 L1047.1,685.1 L1047.6,685.1 L1048.1,685.1 L1048.6,685.2 L1049.1,685.3 L1049.6,685.3 L1050.1,685.2 L1050.6,684.9 L1051.1,685.0 L1051.6,684.9 L1052.1,685.1 L1052.6,685.0 L1053.1,685.2 L1053.6,685.2 L1054.1,685.2 L1054.6,685.2 L1055.1,685.3 L1055.6,685.4 L1056.1,685.4 L1056.6,685.4 L1057.1,685.4 L1057.6,685.5 L1058.1,685.6 L1058.6,685.6 L1059.1,685.4 L1059.6,685.2 L1060.1,685.0 L1060.6,685.0 L1061.1,684.8 L1061.6,684.7 L1062.1,684.7 L1062.6,685.0 L1063.1,685.4 L1063.6,685.7 L1064.1,685.9 L1064.6,685.7 L1065.1,685.6 L1065.6,685.6 L1066.1,685.9 L1066.6,685.7 L1067.1,685.4 L1067.6,685.1 L1068.1,685.0 L1068.6,685.1 L1069.1,685.1 L1069.6,685.3 L1070.1,685.5 L1070.6,685.6 L1071.1,685.6 L1071.6,685.4 L1072.1,685.3 L1072.6,685.3 L1073.1,685.3 L1073.6,685.3 L1074.1,685.3 L1074.6,685.4 L1075.1,685.6 L1075.6,685.6 L1076.1,685.8 L1076.6,685.6 L1077.1,685.4 L1077.6,685.2 L1078.1,685.4 L1078.6,685.5 L1079.1,685.6 L1079.6,685.5 L1080.1,685.5 L1080.6,685.7 L1081.1,685.7 L1081.6,685.5 L1082.1,685.1 L1082.6,685.0 L1083.1,685.1 L1083.6,685.4 L1084.1,685.6 L1084.6,685.6 L1085.1,685.4 L1085.6,685.2 L1086.1,685.2 L1086.6,685.1 L1087.1,685.1 L1087.6,685.1 L1088.1,685.3 L1088.6,685.4 L1089.1,685.5 L1089.6,685.4 L1090.1,685.5 L1090.6,685.6 L1091.1,685.8 L1091.6,685.8 L1092.1,685.6 L1092.6,685.5 L1093.1,685.4 L1093.6,685.4 L1094.1,685.2 L1094.6,685.1 L1095.1,685.0 L1095.6,685.1 L1096.1,685.3 L1096.6,685.4 L1097.1,685.6 L1097.6,685.6 L1098.1,685.6 L1098.6,685.3 L1099.1,685.2 L1099.6,685.1 L1100.1,685.3 L1100.6,685.2 L1101.1,685.1 L1101.6,684.9 L1102.1,685.1 L1102.6,685.3 L1103.1,685.6 L1103.6,685.7 L1104.1,685.5 L1104.6,685.4 L1105.1,685.1 L1105.6,685.0 L1106.1,684.7 L1106.6,684.5 L1107.1,684.5 L1107.6,684.7 L1108.1,685.0 L1108.6,685.1 L1109.1,685.1 L1109.6,685.1 L1110.1,685.1 L1110.6,685.0 L1111.1,684.9 L1111.6,684.8 L1112.1,684.6 L1112.6,684.4 L1113.1,684.2 L1113.6,684.0 L1114.1,683.9 L1114.6,683.9 L1115.1,683.9 L1115.6,683.8 L1116.1,683.5 L1116.6,683.3 L1117.1,683.2 L1117.6,682.9 L1118.1,682.4 L1118.6,681.7 L1119.1,681.2 L1119.6,680.9 L1120.1,680.6 L1120.6,680.2 L1121.1,679.7 L1121.6,679.0 L1122.1,678.3 L1122.6,677.7 L1123.1,677.3 L1123.6,676.9 L1124.1,676.5 L1124.6,676.0 L1125.1,675.6 L1125.6,675.5 L1126.1,675.7 L1126.6,676.0 L1127.1,676.5 L1127.6,676.9 L1128.1,677.2 L1128.6,677.7 L1129.1,678.3 L1129.6,679.0 L1130.1,679.7 L1130.6,680.3 L1131.1,681.0 L1131.6,681.4 L1132.1,681.7 L1132.6,682.0 L1133.1,682.3 L1133.6,682.6 L1134.1,682.8 L1134.6,683.1 L1135.1,683.4 L1135.6,683.7 L1136.1,684.0 L1136.6,684.3 L1137.1,684.6 L1137.6,684.8 L1138.1,684.9 L1138.6,684.9 L1139.1,685.0 L1139.6,685.1 L1140.1,685.2 L1140.6,685.3 L1141.1,685.5 L1141.6,685.5 L1142.1,685.5 L1142.6,685.3 L1143.1,685.3 L1143.6,685.5 L1144.1,685.7 L1144.6,685.9 L1145.1,685.9 L1145.6,685.9 L1146.1,685.8 L1146.6,685.7 L1147.1,685.7 L1147.6,685.5 L1148.1,685.5 L1148.6,685.5 L1149.1,685.5 L1149.6,685.6 L1150.1,685.7 L1150.6,685.6 L1151.1,685.5 L1151.6,685.4 L1152.1,685.5 L1152.6,685.8 L1153.1,686.0 L1153.6,686.2 L1154.1,686.3 L1154.6,686.4 L1155.1,686.4 L1155.6,686.3 L1156.1,686.3 L1156.6,686.4 L1157.1,686.6 L1157.6,686.5 L1158.1,686.2 L1158.6,686.1 L1159.1,686.2 L1159.6,686.3 L1160.1,686.3 L1160.6,686.2 L1161.1,686.1 L1161.6,686.3 L1162.1,686.4 L1162.6,686.5 L1163.1,686.3 L1163.6,686.3 L1164.1,686.4 L1164.6,686.7 L1165.1,686.7 L1165.6,686.7 L1166.1,686.5 L1166.6,686.6 L1167.1,686.6 L1167.6,686.7 L1168.1,686.7 L1168.6,686.9 L1169.1,687.1 L1169.6,687.1 L1170.1,687.0 L1170.6,686.7 L1171.1,686.7 L1171.6,686.7 L1172.1,686.6 L1172.6,686.5 L1173.1,686.5 L1173.6,686.6 L1174.1,686.6 L1174.6,686.6 L1175.1,686.5 L1175.6,686.5 L1176.1,686.6 L1176.6,686.8 L1177.1,687.2 L1177.6,687.2 L1178.1,687.2 L1178.6,686.9 L1179.1,686.7 L1179.6,686.5 L1180.1,686.5 L1180.6,686.5 L1181.1,686.5 L1181.6,686.5 L1182.1,686.8 L1182.6,687.1 L1183.1,687.4 L1183.6,687.5 L1184.1,687.5 L1184.6,687.5 L1185.1,687.3 L1185.6,687.3 L1186.1,687.2 L1186.6,687.0 L1187.1,686.6 L1187.6,686.5 L1188.1,686.6 L1188.6,686.7 L1189.1,686.5 L1189.6,686.4 L1190.1,686.5 L1190.6,686.7 L1191.1,686.9 L1191.6,686.9 L1192.1,687.0 L1192.6,687.1 L1193.1,687.2 L1193.6,687.1 L1194.1,686.8 L1194.6,686.5 L1195.1,686.4 L1195.6,686.5 L1196.1,686.6 L1196.6,686.7 L1197.1,686.8 L1197.6,686.8 L1198.1,686.7 L1198.6,686.7 L1199.1,686.7 L1199.6,686.7 L1200.1,686.7 L1200.6,686.8 L1201.1,686.9 L1201.6,687.0 L1202.1,687.1 L1202.6,687.0 L1203.1,687.0 L1203.6,687.0 L1204.1,687.2 L1204.6,687.2 L1205.1,687.3 L1205.6,687.3 L1206.1,687.2 L1206.6,687.1 L1207.1,686.8 L1207.6,686.6 L1208.1,686.3 L1208.6,686.4 L1209.1,686.5 L1209.6,686.8 L1210.1,686.7 L1210.6,686.8 L1211.1,686.9 L1211.6,687.0 L1212.1,687.0 L1212.6,686.9 L1213.1,687.0 L1213.6,687.0 L1214.1,686.7 L1214.6,686.5 L1215.1,686.3 L1215.6,686.5 L1216.1,686.7 L1216.6,687.0 L1217.1,687.0 L1217.6,687.1 L1218.1,686.9 L1218.6,687.0 L1219.1,686.8 L1219.6,686.8 L1220.1,686.5 L1220.6,686.5 L1221.1,686.4 L1221.6,686.6 L1222.1,686.6 L1222.6,686.9 L1223.1,686.8 L1223.6,686.6 L1224.1,686.4 L1224.6,686.4 L1225.1,686.5 L1225.6,686.3 L1226.1,686.2 L1226.6,686.2 L1227.1,686.2 L1227.6,686.1 L1228.1,686.1 L1228.6,686.0 L1229.1,685.9 L1229.6,685.6 L1230.1,685.3 L1230.6,685.1 L1231.1,684.7 L1231.6,684.4 L1232.1,684.1 L1232.6,683.9 L1233.1,683.7 L1233.6,683.4 L1234.1,683.2 L1234.6,682.7 L1235.1,682.2 L1235.6,681.9 L1236.1,681.8 L1236.6,681.7 L1237.1,681.6 L1237.6,681.6 L1238.1,681.7 L1238.6,681.7 L1239.1,681.6 L1239.6,681.4 L1240.1,681.4 L1240.6,681.4 L1241.1,681.7 L1241.6,682.2 L1242.1,682.8 L1242.6,683.2 L1243.1,683.6 L1243.6,683.7 L1244.1,684.0 L1244.6,684.2 L1245.1,684.5 L1245.6,684.9 L1246.1,685.1 L1246.6,685.1 L1247.1,684.9 L1247.6,684.8 L1248.1,685.1 L1248.6,685.5 L1249.1,686.0 L1249.6,686.2 L1250.1,686.4 L1250.6,686.5 L1251.1,686.4 L1251.6,686.0 L1252.1,685.6 L1252.6,685.4 L1253.1,685.6 L1253.6,686.0 L1254.1,686.2 L1254.6,686.1 L1255.1,686.0 L1255.6,685.9 L1256.1,685.8 L1256.6,685.5 L1257.1,685.3 L1257.6,685.1 L1258.1,685.1 L1258.6,685.0 L1259.1,685.0 L1259.6,684.9 L1260.1,684.8 L1260.6,684.6 L1261.1,684.2 L1261.6,683.9 L1262.1,683.6 L1262.6,683.2 L1263.1,682.6 L1263.6,682.0 L1264.1,681.6 L1264.6,681.3 L1265.1,680.9 L1265.6,680.5 L1266.1,680.2 L1266.6,680.3 L1267.1,680.5 L1267.6,680.9 L1268.1,681.2 L1268.6,681.4 L1269.1,681.6 L1269.6,681.9 L1270.1,682.3 L1270.6,682.5 L1271.1,682.7 L1271.6,682.9 L1272.1,683.5 L1272.6,684.0 L1273.1,684.6 L1273.6,684.8 L1274.1,685.0 L1274.6,685.0 L1275.1,685.1 L1275.6,685.3 L1276.1,685.5 L1276.6,685.9 L1277.1,685.9 L1277.6,685.8 L1278.1,685.6 L1278.6,685.7 L1279.1,685.8 L1279.6,686.1 L1280.1,686.3 L1280.6,686.5 L1281.1,686.5 L1281.6,686.1 L1282.1,686.1 L1282.6,686.1 L1283.1,686.4 L1283.6,686.6 L1284.1,686.7 L1284.6,686.6 L1285.1,686.5 L1285.6,686.7 L1286.1,686.9 L1286.6,687.1 L1287.1,687.0 L1287.6,686.8 L1288.1,686.5 L1288.6,686.3 L1289.1,686.4 L1289.6,686.8 L1290.1,687.0 L1290.6,687.0 L1291.1,686.9 L1291.6,686.9 L1292.1,687.0 L1292.6,687.0 L1293.1,687.0 L1293.6,686.9 L1294.1,686.9 L1294.6,687.0 L1295.1,687.1 L1295.6,687.1 L1296.1,687.0 L1296.6,687.0 L1297.1,687.1 L1297.6,687.1 L1298.1,687.0 L1298.6,686.8 L1299.1,686.7 L1299.6,686.7 L1300.1,686.8 L1300.6,686.9 L1301.1,687.0 L1301.6,686.8 L1302.1,686.8 L1302.6,686.8 L1303.1,687.0 L1303.6,686.9 L1304.1,686.9 L1304.6,686.9 L1305.1,686.7 L1305.6,686.7 L1306.1,686.7 L1306.6,686.9 L1307.1,686.8 L1307.6,686.7 L1308.1,686.7 L1308.6,686.8 L1309.1,686.8 L1309.6,686.8 L1310.1,686.7 L1310.6,686.6 L1311.1,686.5 L1311.6,686.5 L1312.1,686.6 L1312.6,686.8 L1313.1,686.9 L1313.6,687.1 L1314.1,687.1 L1314.6,686.9 L1315.1,686.7 L1315.6,686.5 L1316.1,686.6 L1316.6,686.8 L1317.1,686.8 L1317.6,686.8 L1318.1,686.8 L1318.6,686.8 L1319.1,686.8 L1319.6,686.6 L1320.1,686.5 L1320.6,686.6 L1321.1,686.9 L1321.6,687.2 L1322.1,687.1 L1322.6,686.8 L1323.1,686.6 L1323.6,686.7 L1324.1,686.7 L1324.6,686.7 L1325.1,686.5 L1325.6,686.4 L1326.1,686.6 L1326.6,686.8 L1327.1,686.8 L1327.6,686.8 L1328.1,686.7 L1328.6,686.9 L1329.1,686.8 L1329.6,686.7 L1330.1,686.5 L1330.6,686.5 L1331.1,686.6 L1331.6,686.6 L1332.1,686.6 L1332.6,686.4 L1333.1,686.3 L1333.6,686.4 L1334.1,686.7 L1334.6,686.8 L1335.1,686.7 L1335.6,686.4 L1336.1,686.4 L1336.6,686.5 L1337.1,686.5 L1337.6,686.4 L1338.1,686.2 L1338.6,686.1 L1339.1,686.0 L1339.6,685.9 L1340.1,685.9 L1340.6,685.8 L1341.1,685.7 L1341.6,685.6 L1342.1,685.8 L1342.6,685.9 L1343.1,686.0 L1343.6,685.7 L1344.1,685.5 L1344.6,685.4 L1345.1,685.4 L1345.6,685.3 L1346.1,684.9 L1346.6,684.5 L1347.1,684.1 L1347.6,683.9 L1348.1,683.8 L1348.6,683.8 L1349.1,683.7 L1349.6,683.5 L1350.1,683.3 L1350.6,682.8 L1351.1,682.1 L1351.6,681.5 L1352.1,681.1 L1352.6,680.8 L1353.1,680.6 L1353.6,680.2 L1354.1,679.8 L1354.6,679.7 L1355.1,679.8 L1355.6,679.9 L1356.1,680.0 L1356.6,680.3 L1357.1,680.6 L1357.6,680.9 L1358.1,681.0 L1358.6,681.2 L1359.1,681.5 L1359.6,681.8 L1360.1,682.1 L1360.6,682.4 L1361.1,682.7 L1361.6,683.1 L1362.1,683.4 L1362.6,683.8 L1363.1,684.0 L1363.6,684.0 L1364.1,684.0 L1364.6,684.2 L1365.1,684.3 L1365.6,684.5 L1366.1,684.6 L1366.6,684.7 L1367.1,684.7 L1367.6,684.7 L1368.1,684.7 L1368.6,684.7 L1369.1,684.6 L1369.6,684.3 L1370.1,684.0 L1370.6,683.7 L1371.1,683.6 L1371.6,683.5 L1372.1,683.3 L1372.6,683.4 L1373.1,683.5 L1373.6,683.6 L1374.1,683.4 L1374.6,683.4 L1375.1,683.5 L1375.6,683.8 L1376.1,684.0 L1376.6,684.1 L1377.1,684.2 L1377.6,684.3 L1378.1,684.5 L1378.6,684.9 L1379.1,685.2 L1379.6,685.3 L1380.1,685.1 L1380.6,685.0 L1381.1,685.3 L1381.6,685.5 L1382.1,685.8 L1382.6,685.9 L1383.1,685.9 L1383.6,685.8 L1384.1,685.6 L1384.6,685.7 L1385.1,685.7 L1385.6,686.1 L1386.1,686.2 L1386.6,686.3 L1387.1,686.2 L1387.6,686.1 L1388.1,685.9 L1388.6,685.9 L1389.1,685.9 L1389.6,686.1 L1390.1,686.1 L1390.6,685.9 L1391.1,685.8 L1391.6,685.7 L1392.1,685.8 L1392.6,685.9 L1393.1,686.1 L1393.6,686.2 L1394.1,686.3 L1394.6,686.2 L1395.1,686.1 L1395.6,686.0 L1396.1,685.9 L1396.6,685.9 L1397.1,686.1 L1397.6,686.0 L1398.1,686.0 L1398.6,685.8 L1399.1,685.9 L1399.6,685.8 L1400.1,685.9 L1400.6,686.0 L1401.1,686.0 L1401.6,685.9 L1402.1,685.8 L1402.6,685.9 L1403.1,686.1 L1403.6,686.1 L1404.1,686.0 L1404.6,685.8 L1405.1,685.7 L1405.6,685.9 L1406.1,686.2 L1406.6,686.4 L1407.1,686.5 L1407.6,686.2 L1408.1,686.1 L1408.6,685.9 L1409.1,686.0 L1409.6,686.1 L1410.1,686.1 L1410.6,686.1 L1411.1,686.2 L1411.6,686.1 L1412.1,686.1 L1412.6,685.9 L1413.1,685.8 L1413.6,685.8 L1414.1,685.8 L1414.6,685.8 L1415.1,685.6 L1415.6,685.6 L1416.1,685.6 L1416.6,685.7 L1417.1,685.8 L1417.6,685.8 L1418.1,685.8 L1418.6,685.7 L1419.1,685.8 L1419.6,685.9 L1420.1,686.0 L1420.6,686.1 L1421.1,686.0 L1421.6,685.8 L1422.1,685.7 L1422.6,685.7 L1423.1,685.8 L1423.6,685.9 L1424.1,686.1 L1424.6,685.9 L1425.1,685.8 L1425.6,685.7 L1426.1,685.8 L1426.6,685.9 L1427.1,685.9 L1427.6,686.0 L1428.1,686.1 L1428.6,686.1 L1429.1,685.9 L1429.6,685.8 L1430.1,685.7 L1430.6,685.6 L1431.1,685.6 L1431.6,685.5 L1432.1,685.6 L1432.6,685.5 L1433.1,685.5 L1433.6,685.5 L1434.1,685.8 L1434.6,686.0 L1435.1,686.0 L1435.6,685.7 L1436.1,685.5 L1436.6,685.5 L1437.1,685.8 L1437.6,685.9 L1438.1,685.9 L1438.6,685.9 L1439.1,686.0 L1439.6,686.1 L1440.1,686.0 L1440.6,685.9 L1441.1,685.7 L1441.6,685.9 L1442.1,686.0 L1442.6,686.0 L1443.1,685.9 L1443.6,685.9 L1444.1,685.9 L1444.6,686.0 L1445.1,686.1 L1445.6,686.1 L1446.1,686.0"/>
<path stroke="#B57EDC" d="M147.6,581.2 L148.1,581.1 L148.6,581.0 L149.1,580.9 L149.6,580.9 L150.1,580.8 L150.6,580.8 L151.1,580.8 L151.6,580.9 L152.1,581.0 L152.6,581.0 L153.1,580.9 L153.6,580.9 L154.1,580.8 L154.6,580.8 L155.1,580.7 L155.6,580.9 L156.1,580.9 L156.6,580.9 L157.1,580.9 L157.6,581.0 L158.1,581.1 L158.6,581.1 L159.1,581.1 L159.6,580.9 L160.1,580.6 L160.6,580.5 L161.1,580.5 L161.6,580.7 L162.1,580.8 L162.6,580.8 L163.1,580.8 L163.6,580.6 L164.1,580.6 L164.6,580.4 L165.1,580.5 L165.6,580.7 L166.1,581.0 L166.6,581.2 L167.1,581.1 L167.6,581.0 L168.1,580.8 L168.6,580.7 L169.1,580.5 L169.6,580.3 L170.1,580.4 L170.6,580.8 L171.1,581.0 L171.6,581.1 L172.1,581.0 L172.6,581.0 L173.1,581.0 L173.6,580.9 L174.1,580.8 L174.6,580.6 L175.1,580.6 L175.6,580.5 L176.1,580.7 L176.6,580.8 L177.1,580.8 L177.6,580.6 L178.1,580.5 L178.6,580.6 L179.1,580.7 L179.6,580.6 L180.1,580.4 L180.6,580.3 L181.1,580.2 L181.6,580.4 L182.1,580.5 L182.6,580.7 L183.1,580.8 L183.6,580.9 L184.1,581.0 L184.6,581.0 L185.1,580.9 L185.6,580.8 L186.1,580.6 L186.6,580.5 L187.1,580.5 L187.6,580.6 L188.1,580.7 L188.6,580.7 L189.1,580.5 L189.6,580.4 L190.1,580.4 L190.6,580.7 L191.1,580.9 L191.6,581.0 L192.1,581.0 L192.6,580.8 L193.1,580.7 L193.6,580.6 L194.1,580.5 L194.6,580.5 L195.1,580.7 L195.6,580.9 L196.1,580.8 L196.6,580.6 L197.1,580.4 L197.6,580.4 L198.1,580.4 L198.6,580.4 L199.1,580.3 L199.6,580.4 L200.1,580.5 L200.6,580.7 L201.1,580.7 L201.6,580.7 L202.1,580.5 L202.6,580.5 L203.1,580.6 L203.6,580.6 L204.1,580.5 L204.6,580.4 L205.1,580.3 L205.6,580.3 L206.1,580.4 L206.6,580.4 L207.1,580.5 L207.6,580.4 L208.1,580.4 L208.6,580.4 L209.1,580.4 L209.6,580.5 L210.1,580.5 L210.6,580.6 L211.1,580.6 L211.6,580.6 L212.1,580.4 L212.6,580.3 L213.1,580.2 L213.6,580.2 L214.1,580.1 L214.6,580.0 L215.1,579.9 L215.6,579.9 L216.1,579.8 L216.6,579.9 L217.1,580.0 L217.6,580.1 L218.1,580.2 L218.6,580.0 L219.1,579.9 L219.6,579.9 L220.1,579.9 L220.6,580.0 L221.1,580.0 L221.6,580.0 L222.1,579.9 L222.6,579.9 L223.1,579.9 L223.6,580.1 L224.1,580.4 L224.6,580.5 L225.1,580.5 L225.6,580.3 L226.1,580.4 L226.6,580.4 L227.1,580.4 L227.6,580.3 L228.1,580.3 L228.6,580.3 L229.1,580.3 L229.6,580.3 L230.1,580.3 L230.6,580.2 L231.1,580.1 L231.6,579.9 L232.1,579.9 L232.6,579.9 L233.1,580.1 L233.6,580.1 L234.1,580.2 L234.6,580.1 L235.1,580.2 L235.6,580.2 L236.1,580.2 L236.6,580.0 L237.1,580.1 L237.6,580.1 L238.1,580.2 L238.6,580.3 L239.1,580.2 L239.6,580.0 L240.1,579.8 L240.6,579.7 L241.1,580.0 L241.6,580.1 L242.1,580.2 L242.6,580.2 L243.1,580.1 L243.6,579.9 L244.1,579.9 L244.6,579.8 L245.1,579.9 L245.6,579.9 L246.1,580.1 L246.6,580.0 L247.1,580.0 L247.6,579.8 L248.1,579.7 L248.6,579.6 L249.1,579.7 L249.6,579.8 L250.1,580.0 L250.6,580.1 L251.1,580.1 L251.6,579.9 L252.1,579.7 L252.6,579.7 L253.1,579.8 L253.6,579.9 L254.1,579.9 L254.6,579.8 L255.1,579.7 L255.6,579.7 L256.1,579.8 L256.6,579.8 L257.1,580.0 L257.6,580.0 L258.1,580.1 L258.6,579.9 L259.1,579.7 L259.6,579.6 L260.1,579.7 L260.6,579.7 L261.1,579.7 L261.6,579.7 L262.1,579.7 L262.6,579.8 L263.1,579.7 L263.6,579.8 L264.1,579.9 L264.6,580.0 L265.1,580.0 L265.6,579.9 L266.1,579.7 L266.6,579.6 L267.1,579.5 L267.6,579.5 L268.1,579.4 L268.6,579.6 L269.1,579.6 L269.6,579.7 L270.1,579.6 L270.6,579.6 L271.1,579.4 L271.6,579.4 L272.1,579.2 L272.6,579.3 L273.1,579.4 L273.6,579.5 L274.1,579.6 L274.6,579.6 L275.1,579.5 L275.6,579.4 L276.1,579.3 L276.6,579.4 L277.1,579.6 L277.6,579.6 L278.1,579.5 L278.6,579.4 L279.1,579.4 L279.6,579.5 L280.1,579.5 L280.6,579.3 L281.1,579.3 L281.6,579.3 L282.1,579.4 L282.6,579.5 L283.1,579.5 L283.6,579.4 L284.1,579.4 L284.6,579.4 L285.1,579.3 L285.6,579.1 L286.1,579.0 L286.6,578.9 L287.1,578.9 L287.6,578.8 L288.1,578.7 L288.6,578.7 L289.1,578.9 L289.6,579.2 L290.1,579.2 L290.6,579.1 L291.1,578.9 L291.6,578.9 L292.1,579.1 L292.6,579.2 L293.1,579.2 L293.6,579.2 L294.1,579.0 L294.6,579.1 L295.1,579.3 L295.6,579.5 L296.1,579.4 L296.6,579.3 L297.1,579.1 L297.6,579.0 L298.1,578.8 L298.6,578.8 L299.1,578.9 L299.6,579.0 L300.1,579.1 L300.6,579.0 L301.1,578.9 L301.6,578.7 L302.1,578.5 L302.6,578.5 L303.1,578.7 L303.6,578.9 L304.1,578.9 L304.6,578.9 L305.1,578.9 L305.6,579.0 L306.1,578.9 L306.6,578.8 L307.1,578.8 L307.6,578.8 L308.1,578.7 L308.6,578.6 L309.1,578.5 L309.6,578.6 L310.1,578.6 L310.6,578.6 L311.1,578.8 L311.6,578.8 L312.1,578.8 L312.6,578.6 L313.1,578.5 L313.6,578.4 L314.1,578.3 L314.6,578.4 L315.1,578.3 L315.6,578.4 L316.1,578.3 L316.6,578.5 L317.1,578.6 L317.6,578.6 L318.1,578.4 L318.6,578.2 L319.1,578.1 L319.6,578.2 L320.1,578.4 L320.6,578.6 L321.1,578.7 L321.6,578.9 L322.1,578.9 L322.6,579.0 L323.1,578.8 L323.6,578.5 L324.1,578.2 L324.6,578.1 L325.1,578.1 L325.6,578.0 L326.1,578.1 L326.6,578.2 L327.1,578.3 L327.6,578.4 L328.1,578.5 L328.6,578.4 L329.1,578.2 L329.6,578.1 L330.1,578.2 L330.6,578.2 L331.1,578.1 L331.6,578.0 L332.1,577.9 L332.6,577.9 L333.1,578.0 L333.6,578.3 L334.1,578.3 L334.6,578.2 L335.1,578.0 L335.6,577.9 L336.1,578.2 L336.6,578.3 L337.1,578.4 L337.6,578.3 L338.1,578.1 L338.6,577.8 L339.1,577.5 L339.6,577.4 L340.1,577.5 L340.6,577.7 L341.1,578.0 L341.6,578.1 L342.1,578.1 L342.6,578.1 L343.1,578.0 L343.6,577.8 L344.1,577.8 L344.6,577.8 L345.1,578.0 L345.6,578.1 L346.1,578.3 L346.6,578.3 L347.1,578.3 L347.6,578.1 L348.1,577.9 L348.6,577.8 L349.1,577.8 L349.6,577.7 L350.1,577.7 L350.6,577.8 L351.1,577.8 L351.6,577.9 L352.1,577.9 L352.6,578.0 L353.1,577.9 L353.6,577.6 L354.1,577.5 L354.6,577.6 L355.1,577.7 L355.6,577.7 L356.1,577.5 L356.6,577.4 L357.1,577.1 L357.6,577.2 L358.1,577.2 L358.6,577.4 L359.1,577.3 L359.6,577.3 L360.1,577.2 L360.6,577.2 L361.1,577.3 L361.6,577.3 L362.1,577.4 L362.6,577.4 L363.1,577.6 L363.6,577.6 L364.1,577.6 L364.6,577.5 L365.1,577.5 L365.6,577.5 L366.1,577.5 L366.6,577.5 L367.1,577.4 L367.6,577.5 L368.1,577.6 L368.6,577.7 L369.1,577.5 L369.6,577.4 L370.1,577.4 L370.6,577.5 L371.1,577.4 L371.6,577.2 L372.1,576.8 L372.6,576.8 L373.1,576.8 L373.6,576.9 L374.1,577.0 L374.6,577.1 L375.1,577.2 L375.6,577.1 L376.1,576.9 L376.6,576.9 L377.1,576.9 L377.6,576.9 L378.1,576.8 L378.6,576.7 L379.1,576.8 L379.6,576.9 L380.1,577.0 L380.6,576.9 L381.1,576.6 L381.6,576.6 L382.1,576.5 L382.6,576.4 L383.1,576.2 L383.6,575.9 L384.1,575.7 L384.6,575.4 L385.1,575.2 L385.6,574.9 L386.1,574.4 L386.6,574.0 L387.1,573.7 L387.6,573.5 L388.1,573.3 L388.6,573.1 L389.1,573.1 L389.6,573.0 L390.1,573.2 L390.6,573.4 L391.1,573.9 L391.6,574.2 L392.1,574.7 L392.6,575.1 L393.1,575.4 L393.6,575.6 L394.1,575.7 L394.6,575.8 L395.1,576.1 L395.6,576.2 L396.1,576.2 L396.6,576.2 L397.1,576.3 L397.6,576.4 L398.1,576.3 L398.6,576.3 L399.1,576.2 L399.6,576.2 L400.1,576.2 L400.6,576.3 L401.1,576.4 L401.6,576.4 L402.1,576.3 L402.6,576.0 L403.1,575.7 L403.6,575.7 L404.1,575.9 L404.6,576.1 L405.1,576.0 L405.6,575.8 L406.1,575.7 L406.6,575.6 L407.1,575.7 L407.6,575.8 L408.1,575.9 L408.6,575.8 L409.1,575.8 L409.6,575.9 L410.1,576.0 L410.6,576.0 L411.1,575.8 L411.6,575.7 L412.1,575.6 L412.6,575.5 L413.1,575.3 L413.6,575.1 L414.1,574.9 L414.6,574.9 L415.1,574.9 L415.6,574.9 L416.1,574.7 L416.6,574.5 L417.1,574.3 L417.6,574.3 L418.1,574.2 L418.6,573.9 L419.1,573.6 L419.6,573.3 L420.1,573.2 L420.6,573.1 L421.1,573.0 L421.6,572.7 L422.1,572.3 L422.6,571.9 L423.1,571.3 L423.6,570.7 L424.1,570.1 L424.6,569.5 L425.1,568.8 L425.6,567.9 L426.1,566.7 L426.6,565.5 L427.1,564.2 L427.6,562.5 L428.1,560.0 L428.6,557.1 L429.1,553.4 L429.6,548.8 L430.1,542.5 L430.6,534.4 L431.1,524.0 L431.6,511.4 L432.1,496.4 L432.6,479.6 L433.1,462.7 L433.6,448.3 L434.1,440.2 L434.6,441.1 L435.1,450.7 L435.6,466.0 L436.1,483.2 L436.6,499.5 L437.1,513.9 L437.6,526.1 L438.1,536.1 L438.6,544.2 L439.1,550.3 L439.6,554.9 L440.1,558.4 L440.6,561.2 L441.1,563.6 L441.6,565.4 L442.1,566.8 L442.6,567.9 L443.1,568.9 L443.6,569.7 L444.1,570.4 L444.6,570.9 L445.1,571.5 L445.6,572.2 L446.1,572.8 L446.6,573.3 L447.1,573.5 L447.6,573.5 L448.1,573.5 L448.6,573.7 L449.1,573.9 L449.6,574.4 L450.1,574.8 L450.6,575.3 L451.1,575.6 L451.6,575.7 L452.1,575.9 L452.6,575.9 L453.1,576.1 L453.6,576.0 L454.1,576.1 L454.6,576.1 L455.1,576.2 L455.6,576.3 L456.1,576.4 L456.6,576.5 L457.1,576.6 L457.6,576.7 L458.1,576.8 L458.6,576.8 L459.1,576.8 L459.6,576.8 L460.1,576.9 L460.6,576.9 L461.1,576.9 L461.6,576.9 L462.1,577.1 L462.6,577.2 L463.1,577.3 L463.6,577.3 L464.1,577.3 L464.6,577.2 L465.1,577.0 L465.6,577.0 L466.1,577.0 L466.6,577.2 L467.1,577.5 L467.6,577.5 L468.1,577.4 L468.6,577.2 L469.1,577.2 L469.6,577.3 L470.1,577.5 L470.6,577.5 L471.1,577.5 L471.6,577.5 L472.1,577.5 L472.6,577.5 L473.1,577.6 L473.6,577.6 L474.1,577.6 L474.6,577.7 L475.1,577.6 L475.6,577.6 L476.1,577.4 L476.6,577.3 L477.1,576.9 L477.6,576.9 L478.1,577.0 L478.6,577.2 L479.1,577.1 L479.6,576.9 L480.1,576.7 L480.6,576.6 L481.1,576.4 L481.6,576.1 L482.1,575.8 L482.6,575.7 L483.1,575.6 L483.6,575.4 L484.1,575.0 L484.6,574.5 L485.1,573.8 L485.6,573.3 L486.1,572.8 L486.6,572.2 L487.1,571.4 L487.6,570.6 L488.1,569.6 L488.6,568.7 L489.1,567.5 L489.6,566.2 L490.1,564.9 L490.6,564.0 L491.1,563.1 L491.6,562.1 L492.1,560.9 L492.6,560.1 L493.1,559.4 L493.6,559.1 L494.1,559.0 L494.6,559.2 L495.1,559.6 L495.6,560.4 L496.1,561.3 L496.6,562.4 L497.1,563.6 L497.6,565.0 L498.1,566.2 L498.6,567.4 L499.1,568.5 L499.6,569.6 L500.1,570.7 L500.6,571.7 L501.1,572.7 L501.6,573.4 L502.1,574.0 L502.6,574.5 L503.1,575.2 L503.6,575.9 L504.1,576.5 L504.6,576.8 L505.1,576.9 L505.6,576.9 L506.1,577.1 L506.6,577.3 L507.1,577.6 L507.6,577.5 L508.1,577.6 L508.6,577.7 L509.1,578.1 L509.6,578.2 L510.1,578.4 L510.6,578.5 L511.1,578.6 L511.6,578.6 L512.1,578.4 L512.6,578.3 L513.1,578.4 L513.6,578.8 L514.1,579.0 L514.6,579.2 L515.1,579.2 L515.6,579.2 L516.1,579.2 L516.6,579.3 L517.1,579.3 L517.6,579.3 L518.1,579.2 L518.6,579.2 L519.1,579.1 L519.6,579.1 L520.1,579.3 L520.6,579.6 L521.1,579.8 L521.6,579.8 L522.1,579.7 L522.6,579.9 L523.1,579.8 L523.6,579.7 L524.1,579.6 L524.6,579.7 L525.1,579.8 L525.6,579.8 L526.1,579.9 L526.6,579.9 L527.1,580.1 L527.6,580.1 L528.1,580.1 L528.6,580.0 L529.1,580.0 L529.6,580.1 L530.1,580.2 L530.6,580.3 L531.1,580.1 L531.6,579.9 L532.1,579.8 L532.6,580.0 L533.1,580.1 L533.6,580.1 L534.1,580.1 L534.6,580.1 L535.1,580.2 L535.6,580.3 L536.1,580.4 L536.6,580.4 L537.1,580.4 L537.6,580.4 L538.1,580.3 L538.6,580.3 L539.1,580.2 L539.6,580.1 L540.1,580.0 L540.6,580.0 L541.1,580.1 L541.6,580.2 L542.1,580.4 L542.6,580.5 L543.1,580.6 L543.6,580.5 L544.1,580.4 L544.6,580.3 L545.1,580.4 L545.6,580.5 L546.1,580.5 L546.6,580.5 L547.1,580.5 L547.6,580.4 L548.1,580.3 L548.6,580.3 L549.1,580.4 L549.6,580.5 L550.1,580.5 L550.6,580.4 L551.1,580.3 L551.6,580.4 L552.1,580.5 L552.6,580.5 L553.1,580.5 L553.6,580.5 L554.1,580.5 L554.6,580.6 L555.1,580.6 L555.6,580.7 L556.1,580.8 L556.6,580.8 L557.1,580.6 L557.6,580.5 L558.1,580.3 L558.6,580.3 L559.1,580.2 L559.6,580.3 L560.1,580.4 L560.6,580.6 L561.1,580.4 L561.6,580.2 L562.1,580.1 L562.6,580.2 L563.1,580.4 L563.6,580.4 L564.1,580.3 L564.6,580.3 L565.1,580.3 L565.6,580.3 L566.1,580.3 L566.6,580.4 L567.1,580.4 L567.6,580.3 L568.1,580.1 L568.6,579.9 L569.1,579.8 L569.6,579.8 L570.1,579.7 L570.6,579.5 L571.1,579.1 L571.6,578.9 L572.1,578.6 L572.6,578.3 L573.1,577.9 L573.6,577.5 L574.1,577.0 L574.6,576.4 L575.1,575.8 L575.6,575.3 L576.1,575.0 L576.6,574.8 L577.1,574.8 L577.6,574.7 L578.1,574.5 L578.6,574.4 L579.1,574.5 L579.6,574.7 L580.1,575.0 L580.6,575.1 L581.1,575.4 L581.6,575.9 L582.1,576.6 L582.6,577.1 L583.1,577.5 L583.6,577.8 L584.1,578.2 L584.6,578.5 L585.1,579.0 L585.6,579.4 L586.1,579.8 L586.6,579.9 L587.1,580.0 L587.6,580.2 L588.1,580.5 L588.6,580.7 L589.1,580.8 L589.6,580.9 L590.1,580.9 L590.6,580.6 L591.1,580.5 L591.6,580.5 L592.1,580.7 L592.6,580.8 L593.1,580.8 L593.6,580.9 L594.1,581.0 L594.6,581.1 L595.1,581.1 L595.6,581.1 L596.1,581.1 L596.6,581.2 L597.1,581.4 L597.6,581.3 L598.1,581.2 L598.6,581.1 L599.1,581.3 L599.6,581.5 L600.1,581.6 L600.6,581.5 L601.1,581.3 L601.6,581.3 L602.1,581.5 L602.6,581.7 L603.1,581.8 L603.6,581.7 L604.1,581.6 L604.6,581.4 L605.1,581.3 L605.6,581.3 L606.1,581.3 L606.6,581.5 L607.1,581.7 L607.6,581.9 L608.1,582.0 L608.6,581.9 L609.1,581.7 L609.6,581.4 L610.1,581.3 L610.6,581.4 L611.1,581.5 L611.6,581.7 L612.1,581.7 L612.6,581.7 L613.1,581.7 L613.6,581.7 L614.1,581.8 L614.6,581.9 L615.1,581.8 L615.6,581.6 L616.1,581.5 L616.6,581.5 L617.1,581.8 L617.6,582.0 L618.1,582.2 L618.6,582.2 L619.1,582.2 L619.6,582.2 L620.1,582.0 L620.6,581.8 L621.1,581.6 L621.6,581.6 L622.1,581.7 L622.6,581.8 L623.1,581.8 L623.6,581.8 L624.1,581.8 L624.6,581.9 L625.1,581.9 L625.6,582.0 L626.1,582.0 L626.6,582.0 L627.1,581.8 L627.6,581.9 L628.1,581.9 L628.6,582.1 L629.1,582.1 L629.6,582.1 L630.1,581.9 L630.6,581.8 L631.1,581.7 L631.6,581.8 L632.1,581.7 L632.6,581.6 L633.1,581.5 L633.6,581.4 L634.1,581.5 L634.6,581.5 L635.1,581.5 L635.6,581.6 L636.1,581.7 L636.6,581.8 L637.1,581.9 L637.6,581.8 L638.1,581.6 L638.6,581.4 L639.1,581.5 L639.6,581.7 L640.1,582.0 L640.6,582.0 L641.1,581.8 L641.6,581.5 L642.1,581.1 L642.6,580.9 L643.1,581.0 L643.6,581.0 L644.1,580.9 L644.6,580.5 L645.1,580.0 L645.6,579.4 L646.1,578.7 L646.6,577.9 L647.1,576.9 L647.6,575.9 L648.1,574.7 L648.6,573.8 L649.1,573.0 L649.6,572.7 L650.1,572.9 L650.6,573.5 L651.1,574.4 L651.6,575.5 L652.1,576.5 L652.6,577.4 L653.1,578.1 L653.6,578.7 L654.1,579.1 L654.6,579.5 L655.1,579.7 L655.6,579.9 L656.1,579.8 L656.6,579.8 L657.1,579.6 L657.6,579.3 L658.1,579.0 L658.6,578.8 L659.1,578.6 L659.6,578.2 L660.1,577.6 L660.6,576.7 L661.1,575.6 L661.6,574.1 L662.1,572.2 L662.6,569.7 L663.1,566.5 L663.6,562.7 L664.1,558.8 L664.6,555.3 L665.1,552.7 L665.6,551.9 L666.1,553.1 L666.6,556.1 L667.1,559.8 L667.6,563.5 L668.1,566.9 L668.6,569.9 L669.1,572.3 L669.6,574.1 L670.1,575.5 L670.6,576.5 L671.1,577.3 L671.6,577.8 L672.1,578.2 L672.6,578.5 L673.1,578.9 L673.6,579.1 L674.1,579.2 L674.6,579.1 L675.1,578.8 L675.6,578.3 L676.1,577.7 L676.6,576.9 L677.1,576.1 L677.6,575.1 L678.1,574.0 L678.6,572.8 L679.1,571.7 L679.6,571.3 L680.1,571.6 L680.6,572.5 L681.1,573.5 L681.6,575.0 L682.1,576.4 L682.6,577.6 L683.1,578.3 L683.6,579.1 L684.1,579.7 L684.6,580.1 L685.1,580.3 L685.6,580.3 L686.1,580.5 L686.6,580.5 L687.1,580.6 L687.6,580.6 L688.1,580.6 L688.6,580.7 L689.1,580.9 L689.6,581.1 L690.1,581.2 L690.6,581.2 L691.1,581.3 L691.6,581.5 L692.1,581.7 L692.6,581.9 L693.1,581.9 L693.6,581.9 L694.1,582.1 L694.6,582.1 L695.1,582.1 L695.6,581.9 L696.1,581.9 L696.6,582.1 L697.1,582.1 L697.6,582.0 L698.1,581.5 L698.6,581.3 L699.1,581.2 L699.6,581.6 L700.1,581.7 L700.6,581.9 L701.1,581.9 L701.6,582.0 L702.1,582.0 L702.6,582.1 L703.1,582.1 L703.6,582.0 L704.1,581.9 L704.6,581.9 L705.1,581.8 L705.6,581.9 L706.1,582.0 L706.6,582.1 L707.1,582.0 L707.6,581.9 L708.1,581.8 L708.6,581.7 L709.1,581.7 L709.6,581.7 L710.1,581.7 L710.6,581.7 L711.1,581.8 L711.6,581.9 L712.1,582.1 L712.6,582.2 L713.1,582.3 L713.6,582.0 L714.1,581.9 L714.6,581.8 L715.1,582.1 L715.6,582.2 L716.1,582.2 L716.6,582.0 L717.1,582.0 L717.6,582.1 L718.1,582.1 L718.6,582.1 L719.1,582.1 L719.6,582.2 L720.1,582.2 L720.6,582.1 L721.1,581.9 L721.6,581.9 L722.1,581.9 L722.6,582.0 L723.1,582.0 L723.6,582.0 L724.1,582.0 L724.6,581.9 L725.1,581.6 L725.6,581.4 L726.1,581.3 L726.6,581.5 L727.1,581.6 L727.6,581.8 L728.1,581.9 L728.6,581.9 L729.1,581.9 L729.6,581.9 L730.1,582.0 L730.6,582.0 L731.1,581.9 L731.6,581.9 L732.1,581.7 L732.6,581.7 L733.1,581.4 L733.6,581.6 L734.1,581.6 L734.6,581.9 L735.1,581.9 L735.6,582.1 L736.1,582.1 L736.6,582.3 L737.1,582.2 L737.6,582.3 L738.1,582.3 L738.6,582.3 L739.1,582.2 L739.6,582.0 L740.1,581.9 L740.6,581.9 L741.1,581.8 L741.6,581.8 L742.1,581.8 L742.6,581.9 L743.1,581.9 L743.6,581.9 L744.1,581.9 L744.6,581.9 L745.1,581.9 L745.6,581.9 L746.1,582.1 L746.6,582.2 L747.1,582.1 L747.6,581.9 L748.1,581.8 L748.6,581.8 L749.1,581.9 L749.6,582.0 L750.1,582.0 L750.6,582.0 L751.1,582.0 L751.6,582.1 L752.1,582.1 L752.6,582.0 L753.1,582.0 L753.6,582.1 L754.1,582.3 L754.6,582.2 L755.1,582.0 L755.6,581.8 L756.1,581.6 L756.6,581.7 L757.1,581.9 L757.6,582.1 L758.1,582.1 L758.6,582.0 L759.1,581.8 L759.6,581.9 L760.1,582.0 L760.6,582.1 L761.1,582.2 L761.6,582.2 L762.1,582.2 L762.6,582.2 L763.1,582.1 L763.6,582.1 L764.1,582.1 L764.6,582.2 L765.1,582.2 L765.6,582.2 L766.1,582.1 L766.6,582.3 L767.1,582.4 L767.6,582.4 L768.1,582.2 L768.6,582.1 L769.1,582.0 L769.6,582.0 L770.1,582.1 L770.6,582.0 L771.1,582.0 L771.6,582.1 L772.1,582.3 L772.6,582.2 L773.1,582.1 L773.6,582.1 L774.1,582.1 L774.6,582.1 L775.1,581.9 L775.6,582.0 L776.1,581.9 L776.6,581.9 L777.1,582.0 L777.6,582.2 L778.1,582.4 L778.6,582.2 L779.1,582.1 L779.6,582.0 L780.1,582.0 L780.6,581.9 L781.1,581.9 L781.6,581.8 L782.1,581.8 L782.6,581.8 L783.1,581.8 L783.6,581.8 L784.1,581.7 L784.6,581.8 L785.1,581.9 L785.6,582.0 L786.1,582.0 L786.6,582.1 L787.1,582.2 L787.6,582.4 L788.1,582.3 L788.6,582.2 L789.1,581.9 L789.6,581.6 L790.1,581.5 L790.6,581.6 L791.1,581.8 L791.6,581.8 L792.1,581.7 L792.6,581.6 L793.1,581.6 L793.6,581.7 L794.1,582.0 L794.6,582.3 L795.1,582.4 L795.6,582.1 L796.1,581.9 L796.6,581.8 L797.1,581.9 L797.6,581.9 L798.1,581.9 L798.6,581.9 L799.1,581.9 L799.6,581.9 L800.1,581.8 L800.6,581.9 L801.1,582.0 L801.6,582.0 L802.1,581.9 L802.6,581.9 L803.1,582.0 L803.6,582.1 L804.1,582.1 L804.6,581.9 L805.1,581.9 L805.6,581.8 L806.1,581.9 L806.6,581.8 L807.1,581.8 L807.6,581.8 L808.1,581.8 L808.6,581.8 L809.1,581.6 L809.6,581.6 L810.1,581.6 L810.6,581.8 L811.1,581.6 L811.6,581.6 L812.1,581.8 L812.6,582.1 L813.1,582.2 L813.6,582.1 L814.1,582.0 L814.6,581.9 L815.1,581.9 L815.6,581.8 L816.1,581.6 L816.6,581.5 L817.1,581.6 L817.6,581.9 L818.1,582.0 L818.6,582.0 L819.1,582.1 L819.6,582.1 L820.1,582.0 L820.6,581.8 L821.1,581.6 L821.6,581.6 L822.1,581.6 L822.6,581.4 L823.1,581.4 L823.6,581.4 L824.1,581.6 L824.6,581.7 L825.1,581.6 L825.6,581.4 L826.1,581.2 L826.6,581.2 L827.1,581.2 L827.6,581.3 L828.1,581.3 L828.6,581.1 L829.1,581.0 L829.6,581.0 L830.1,581.1 L830.6,581.2 L831.1,581.2 L831.6,581.1 L832.1,580.9 L832.6,580.7 L833.1,580.6 L833.6,580.5 L834.1,580.4 L834.6,580.3 L835.1,580.1 L835.6,579.9 L836.1,579.6 L836.6,579.3 L837.1,579.0 L837.6,578.6 L838.1,578.2 L838.6,577.8 L839.1,577.2 L839.6,576.6 L840.1,576.0 L840.6,575.5 L841.1,574.8 L841.6,574.0 L842.1,573.0 L842.6,571.9 L843.1,571.2 L843.6,570.5 L844.1,570.1 L844.6,569.5 L845.1,569.2 L845.6,568.9 L846.1,569.1 L846.6,569.5 L847.1,570.2 L847.6,570.6 L848.1,571.0 L848.6,571.1 L849.1,571.5 L849.6,571.6 L850.1,571.6 L850.6,571.1 L851.1,569.9 L851.6,568.1 L852.1,565.7 L852.6,562.8 L853.1,558.8 L853.6,554.0 L854.1,548.5 L854.6,543.0 L855.1,538.5 L855.6,536.1 L856.1,536.7 L856.6,540.0 L857.1,545.1 L857.6,550.7 L858.1,556.2 L858.6,561.0 L859.1,565.2 L859.6,568.3 L860.1,570.8 L860.6,572.6 L861.1,574.2 L861.6,575.7 L862.1,577.0 L862.6,577.9 L863.1,578.3 L863.6,578.4 L864.1,578.6 L864.6,579.1 L865.1,579.7 L865.6,579.9 L866.1,579.9 L866.6,579.6 L867.1,579.5 L867.6,579.6 L868.1,580.0 L868.6,580.3 L869.1,580.6 L869.6,580.7 L870.1,580.9 L870.6,581.1 L871.1,581.2 L871.6,581.2 L872.1,581.2 L872.6,581.2 L873.1,581.2 L873.6,581.2 L874.1,581.2 L874.6,581.3 L875.1,581.4 L875.6,581.7 L876.1,581.9 L876.6,582.1 L877.1,582.2 L877.6,582.2 L878.1,582.0 L878.6,581.9 L879.1,581.8 L879.6,581.8 L880.1,581.6 L880.6,581.5 L881.1,581.5 L881.6,581.7 L882.1,581.8 L882.6,581.8 L883.1,581.6 L883.6,581.6 L884.1,581.7 L884.6,581.8 L885.1,581.9 L885.6,581.9 L886.1,582.0 L886.6,582.0 L887.1,581.8 L887.6,581.6 L888.1,581.5 L888.6,581.5 L889.1,581.5 L889.6,581.7 L890.1,581.8 L890.6,581.9 L891.1,581.9 L891.6,582.0 L892.1,582.0 L892.6,581.9 L893.1,581.9 L893.6,581.9 L894.1,582.0 L894.6,581.9 L895.1,581.9 L895.6,582.1 L896.1,582.2 L896.6,582.3 L897.1,582.1 L897.6,581.9 L898.1,581.7 L898.6,581.7 L899.1,581.8 L899.6,581.8 L900.1,581.7 L900.6,581.7 L901.1,581.7 L901.6,581.9 L902.1,581.9 L902.6,581.9 L903.1,581.8 L903.6,581.7 L904.1,581.6 L904.6,581.6 L905.1,581.6 L905.6,581.7 L906.1,581.7 L906.6,581.6 L907.1,581.6 L907.6,581.6 L908.1,581.6 L908.6,581.7 L909.1,581.8 L909.6,581.9 L910.1,582.0 L910.6,582.0 L911.1,582.1 L911.6,582.0 L912.1,581.9 L912.6,581.8 L913.1,581.9 L913.6,581.9 L914.1,582.0 L914.6,581.9 L915.1,582.0 L915.6,582.0 L916.1,581.9 L916.6,581.7 L917.1,581.6 L917.6,581.6 L918.1,581.7 L918.6,581.9 L919.1,582.1 L919.6,582.2 L920.1,582.0 L920.6,581.9 L921.1,582.0 L921.6,582.1 L922.1,582.1 L922.6,582.0 L923.1,581.9 L923.6,581.9 L924.1,581.8 L924.6,581.8 L925.1,581.6 L925.6,581.6 L926.1,581.5 L926.6,581.6 L927.1,581.7 L927.6,581.8 L928.1,582.0 L928.6,582.0 L929.1,582.1 L929.6,582.1 L930.1,582.2 L930.6,582.2 L931.1,582.3 L931.6,582.2 L932.1,582.1 L932.6,581.9 L933.1,582.0 L933.6,582.0 L934.1,582.0 L934.6,582.0 L935.1,581.9 L935.6,581.9 L936.1,582.0 L936.6,581.9 L937.1,581.7 L937.6,581.4 L938.1,581.4 L938.6,581.6 L939.1,582.0 L939.6,582.3 L940.1,582.2 L940.6,582.0 L941.1,581.9 L941.6,581.9 L942.1,581.8 L942.6,581.7 L943.1,581.8 L943.6,581.7 L944.1,581.5 L944.6,581.3 L945.1,581.2 L945.6,581.2 L946.1,581.3 L946.6,581.4 L947.1,581.5 L947.6,581.6 L948.1,581.5 L948.6,581.5 L949.1,581.4 L949.6,581.4 L950.1,581.5 L950.6,581.7 L951.1,581.6 L951.6,581.4 L952.1,581.1 L952.6,580.8 L953.1,580.7 L953.6,580.6 L954.1,580.4 L954.6,580.0 L955.1,579.8 L955.6,579.8 L956.1,580.0 L956.6,579.9 L957.1,579.4 L957.6,578.6 L958.1,577.9 L958.6,577.0 L959.1,576.1 L959.6,574.9 L960.1,573.4 L960.6,571.8 L961.1,569.8 L961.6,567.5 L962.1,564.9 L962.6,562.1 L963.1,559.4 L963.6,557.1 L964.1,555.9 L964.6,555.9 L965.1,557.2 L965.6,559.4 L966.1,562.2 L966.6,565.1 L967.1,567.9 L967.6,570.2 L968.1,572.2 L968.6,573.8 L969.1,575.1 L969.6,576.1 L970.1,576.8 L970.6,577.4 L971.1,577.9 L971.6,578.4 L972.1,578.9 L972.6,579.2 L973.1,579.5 L973.6,579.5 L974.1,579.5 L974.6,579.3 L975.1,579.2 L975.6,579.1 L976.1,579.1 L976.6,579.2 L977.1,579.4 L977.6,579.5 L978.1,579.2 L978.6,578.9 L979.1,578.4 L979.6,578.2 L980.1,577.9 L980.6,577.6 L981.1,577.0 L981.6,576.2 L982.1,575.1 L982.6,573.8 L983.1,572.1 L983.6,569.9 L984.1,567.4 L984.6,564.8 L985.1,562.2 L985.6,559.7 L986.1,557.5 L986.6,556.0 L987.1,555.8 L987.6,556.8 L988.1,558.9 L988.6,561.6 L989.1,564.6 L989.6,567.5 L990.1,569.9 L990.6,571.9 L991.1,573.4 L991.6,574.7 L992.1,575.9 L992.6,577.0 L993.1,577.7 L993.6,578.3 L994.1,578.7 L994.6,579.1 L995.1,579.3 L995.6,579.3 L996.1,579.5 L996.6,579.6 L997.1,579.7 L997.6,579.7 L998.1,579.6 L998.6,579.3 L999.1,579.0 L999.6,578.9 L1000.1,579.0 L1000.6,579.1 L1001.1,579.0 L1001.6,578.7 L1002.1,578.3 L1002.6,577.9 L1003.1,577.5 L1003.6,577.2 L1004.1,576.7 L1004.6,576.2 L1005.1,575.5 L1005.6,575.0 L1006.1,574.6 L1006.6,574.3 L1007.1,573.8 L1007.6,573.3 L1008.1,572.8 L1008.6,572.7 L1009.1,572.7 L1009.6,572.9 L1010.1,573.0 L1010.6,573.2 L1011.1,573.6 L1011.6,574.1 L1012.1,574.6 L1012.6,575.1 L1013.1,575.5 L1013.6,575.9 L1014.1,576.6 L1014.6,577.1 L1015.1,577.6 L1015.6,577.8 L1016.1,578.3 L1016.6,578.7 L1017.1,579.2 L1017.6,579.5 L1018.1,579.9 L1018.6,580.1 L1019.1,580.3 L1019.6,580.4 L1020.1,580.5 L1020.6,580.6 L1021.1,580.7 L1021.6,580.7 L1022.1,580.8 L1022.6,581.0 L1023.1,580.9 L1023.6,581.0 L1024.1,581.0 L1024.6,581.1 L1025.1,581.2 L1025.6,581.2 L1026.1,581.2 L1026.6,581.4 L1027.1,581.6 L1027.6,581.8 L1028.1,581.8 L1028.6,581.7 L1029.1,581.6 L1029.6,581.6 L1030.1,581.7 L1030.6,581.8 L1031.1,581.9 L1031.6,581.8 L1032.1,581.8 L1032.6,581.7 L1033.1,581.8 L1033.6,581.8 L1034.1,581.9 L1034.6,581.8 L1035.1,581.7 L1035.6,581.6 L1036.1,581.6 L1036.6,581.7 L1037.1,581.9 L1037.6,581.9 L1038.1,582.0 L1038.6,581.9 L1039.1,582.1 L1039.6,582.2 L1040.1,582.2 L1040.6,582.1 L1041.1,581.9 L1041.6,581.9 L1042.1,581.8 L1042.6,581.9 L1043.1,581.9 L1043.6,582.0 L1044.1,582.1 L1044.6,582.1 L1045.1,582.0 L1045.6,581.8 L1046.1,581.7 L1046.6,581.8 L1047.1,582.1 L1047.6,582.3 L1048.1,582.3 L1048.6,582.0 L1049.1,582.0 L1049.6,581.9 L1050.1,582.0 L1050.6,582.0 L1051.1,581.9 L1051.6,581.9 L1052.1,582.0 L1052.6,582.2 L1053.1,582.4 L1053.6,582.3 L1054.1,582.1 L1054.6,581.9 L1055.1,581.9 L1055.6,581.9 L1056.1,582.1 L1056.6,582.0 L1057.1,581.9 L1057.6,581.8 L1058.1,582.0 L1058.6,582.1 L1059.1,582.3 L1059.6,582.1 L1060.1,581.9 L1060.6,581.6 L1061.1,581.6 L1061.6,581.7 L1062.1,582.0 L1062.6,582.1 L1063.1,582.1 L1063.6,581.9 L1064.1,582.0 L1064.6,582.1 L1065.1,582.3 L1065.6,582.3 L1066.1,582.2 L1066.6,582.1 L1067.1,582.1 L1067.6,582.1 L1068.1,582.1 L1068.6,582.2 L1069.1,582.3 L1069.6,582.3 L1070.1,582.2 L1070.6,582.3 L1071.1,582.4 L1071.6,582.5 L1072.1,582.3 L1072.6,582.3 L1073.1,582.3 L1073.6,582.2 L1074.1,581.9 L1074.6,581.7 L1075.1,581.6 L1075.6,581.7 L1076.1,581.9 L1076.6,582.1 L1077.1,582.3 L1077.6,582.3 L1078.1,582.3 L1078.6,582.3 L1079.1,582.4 L1079.6,582.4 L1080.1,582.2 L1080.6,582.2 L1081.1,582.3 L1081.6,582.4 L1082.1,582.5 L1082.6,582.6 L1083.1,582.4 L1083.6,582.1 L1084.1,581.9 L1084.6,581.8 L1085.1,581.9 L1085.6,582.1 L1086.1,582.2 L1086.6,582.5 L1087.1,582.4 L1087.6,582.1 L1088.1,581.9 L1088.6,582.0 L1089.1,582.2 L1089.6,582.4 L1090.1,582.2 L1090.6,582.0 L1091.1,581.9 L1091.6,582.0 L1092.1,582.1 L1092.6,582.2 L1093.1,582.1 L1093.6,582.0 L1094.1,582.0 L1094.6,581.8 L1095.1,581.9 L1095.6,581.9 L1096.1,582.1 L1096.6,582.0 L1097.1,582.0 L1097.6,581.9 L1098.1,582.0 L1098.6,582.0 L1099.1,581.9 L1099.6,581.7 L1100.1,581.6 L1100.6,581.6 L1101.1,581.6 L1101.6,581.5 L1102.1,581.5 L1102.6,581.5 L1103.1,581.7 L1103.6,581.9 L1104.1,582.1 L1104.6,582.2 L1105.1,582.2 L1105.6,582.0 L1106.1,581.8 L1106.6,581.8 L1107.1,581.7 L1107.6,581.6 L1108.1,581.5 L1108.6,581.1 L1109.1,581.0 L1109.6,581.1 L1110.1,581.1 L1110.6,581.1 L1111.1,580.8 L1111.6,580.6 L1112.1,580.3 L1112.6,580.0 L1113.1,579.7 L1113.6,579.3 L1114.1,578.9 L1114.6,578.5 L1115.1,578.3 L1115.6,578.2 L1116.1,578.0 L1116.6,577.9 L1117.1,577.9 L1117.6,578.1 L1118.1,578.1 L1118.6,578.2 L1119.1,578.2 L1119.6,578.4 L1120.1,578.6 L1120.6,578.8 L1121.1,578.9 L1121.6,578.7 L1122.1,578.4 L1122.6,577.9 L1123.1,577.2 L1123.6,576.3 L1124.1,575.4 L1124.6,574.1 L1125.1,572.6 L1125.6,570.9 L1126.1,569.1 L1126.6,567.4 L1127.1,566.1 L1127.6,565.6 L1128.1,565.8 L1128.6,566.9 L1129.1,568.4 L1129.6,570.0 L1130.1,571.6 L1130.6,573.1 L1131.1,574.6 L1131.6,576.1 L1132.1,577.3 L1132.6,578.3 L1133.1,578.9 L1133.6,579.6 L1134.1,580.2 L1134.6,580.6 L1135.1,580.6 L1135.6,580.5 L1136.1,580.4 L1136.6,580.5 L1137.1,580.6 L1137.6,580.7 L1138.1,580.8 L1138.6,580.9 L1139.1,581.2 L1139.6,581.5 L1140.1,581.7 L1140.6,581.8 L1141.1,581.8 L1141.6,581.7 L1142.1,581.5 L1142.6,581.4 L1143.1,581.3 L1143.6,581.5 L1144.1,581.7 L1144.6,582.0 L1145.1,582.3 L1145.6,582.3 L1146.1,582.2 L1146.6,582.0 L1147.1,581.9 L1147.6,581.9 L1148.1,581.9 L1148.6,581.9 L1149.1,582.0 L1149.6,582.1 L1150.1,582.3 L1150.6,582.4 L1151.1,582.3 L1151.6,582.0 L1152.1,581.7 L1152.6,581.5 L1153.1,581.5 L1153.6,581.5 L1154.1,581.5 L1154.6,581.7 L1155.1,581.9 L1155.6,582.2 L1156.1,582.3 L1156.6,582.2 L1157.1,582.0 L1157.6,581.8 L1158.1,581.8 L1158.6,581.7 L1159.1,581.7 L1159.6,581.7 L1160.1,581.8 L1160.6,581.8 L1161.1,581.8 L1161.6,581.9 L1162.1,582.1 L1162.6,582.1 L1163.1,582.1 L1163.6,582.1 L1164.1,582.1 L1164.6,582.1 L1165.1,582.1 L1165.6,582.2 L1166.1,582.2 L1166.6,582.1 L1167.1,581.8 L1167.6,581.7 L1168.1,581.8 L1168.6,581.9 L1169.1,582.0 L1169.6,581.9 L1170.1,581.9 L1170.6,582.0 L1171.1,582.1 L1171.6,582.2 L1172.1,582.3 L1172.6,582.5 L1173.1,582.3 L1173.6,582.2 L1174.1,582.0 L1174.6,582.0 L1175.1,582.0 L1175.6,582.1 L1176.1,581.8 L1176.6,581.6 L1177.1,581.5 L1177.6,581.6 L1178.1,581.8 L1178.6,582.2 L1179.1,582.4 L1179.6,582.6 L1180.1,582.6 L1180.6,582.5 L1181.1,582.4 L1181.6,582.4 L1182.1,582.3 L1182.6,582.2 L1183.1,582.2 L1183.6,582.3 L1184.1,582.6 L1184.6,582.5 L1185.1,582.4 L1185.6,582.2 L1186.1,582.2 L1186.6,582.1 L1187.1,582.0 L1187.6,581.7 L1188.1,581.5 L1188.6,581.6 L1189.1,582.0 L1189.6,582.3 L1190.1,582.3 L1190.6,582.1 L1191.1,582.0 L1191.6,582.0 L1192.1,582.0 L1192.6,581.9 L1193.1,581.9 L1193.6,582.0 L1194.1,582.2 L1194.6,582.3 L1195.1,582.3 L1195.6,582.2 L1196.1,582.2 L1196.6,582.3 L1197.1,582.3 L1197.6,582.3 L1198.1,582.3 L1198.6,582.3 L1199.1,582.3 L1199.6,582.4 L1200.1,582.5 L1200.6,582.5 L1201.1,582.4 L1201.6,582.4 L1202.1,582.5 L1202.6,582.3 L1203.1,582.1 L1203.6,581.8 L1204.1,581.7 L1204.6,581.8 L1205.1,582.0 L1205.6,582.2 L1206.1,582.3 L1206.6,582.4 L1207.1,582.4 L1207.6,582.4 L1208.1,582.2 L1208.6,582.1 L1209.1,582.1 L1209.6,582.0 L1210.1,582.1 L1210.6,582.0 L1211.1,581.9 L1211.6,581.9 L1212.1,581.8 L1212.6,582.0 L1213.1,582.0 L1213.6,582.0 L1214.1,581.9 L1214.6,581.8 L1215.1,582.0 L1215.6,582.1 L1216.1,582.2 L1216.6,582.1 L1217.1,582.0 L1217.6,582.2 L1218.1,582.3 L1218.6,582.3 L1219.1,582.2 L1219.6,582.0 L1220.1,582.1 L1220.6,582.2 L1221.1,582.3 L1221.6,582.1 L1222.1,582.0 L1222.6,581.9 L1223.1,581.9 L1223.6,581.8 L1224.1,581.7 L1224.6,581.8 L1225.1,581.9 L1225.6,581.9 L1226.1,581.8 L1226.6,581.7 L1227.1,581.6 L1227.6,581.7 L1228.1,581.7 L1228.6,581.8 L1229.1,581.8 L1229.6,581.7 L1230.1,581.5 L1230.6,581.2 L1231.1,581.3 L1231.6,581.2 L1232.1,581.3 L1232.6,581.2 L1233.1,580.9 L1233.6,580.4 L1234.1,580.0 L1234.6,579.7 L1235.1,579.4 L1235.6,579.1 L1236.1,578.7 L1236.6,578.4 L1237.1,577.8 L1237.6,577.3 L1238.1,576.5 L1238.6,575.9 L1239.1,575.5 L1239.6,575.4 L1240.1,575.4 L1240.6,575.5 L1241.1,575.7 L1241.6,576.1 L1242.1,576.6 L1242.6,577.3 L1243.1,578.0 L1243.6,578.7 L1244.1,579.1 L1244.6,579.5 L1245.1,579.9 L1245.6,580.4 L1246.1,580.6 L1246.6,580.5 L1247.1,580.5 L1247.6,580.6 L1248.1,580.7 L1248.6,580.9 L1249.1,580.9 L1249.6,580.9 L1250.1,580.9 L1250.6,580.9 L1251.1,581.1 L1251.6,581.3 L1252.1,581.6 L1252.6,581.9 L1253.1,582.0 L1253.6,582.0 L1254.1,582.0 L1254.6,582.0 L1255.1,582.1 L1255.6,582.1 L1256.1,581.9 L1256.6,581.6 L1257.1,581.4 L1257.6,581.1 L1258.1,581.0 L1258.6,581.0 L1259.1,581.2 L1259.6,581.5 L1260.1,581.6 L1260.6,581.6 L1261.1,581.3 L1261.6,581.1 L1262.1,580.9 L1262.6,580.8 L1263.1,580.8 L1263.6,580.7 L1264.1,580.3 L1264.6,579.8 L1265.1,579.3 L1265.6,578.9 L1266.1,578.5 L1266.6,578.0 L1267.1,577.4 L1267.6,576.6 L1268.1,576.0 L1268.6,575.3 L1269.1,575.0 L1269.6,574.8 L1270.1,574.8 L1270.6,574.8 L1271.1,575.0 L1271.6,575.5 L1272.1,576.0 L1272.6,576.8 L1273.1,577.5 L1273.6,578.2 L1274.1,578.7 L1274.6,579.1 L1275.1,579.5 L1275.6,579.9 L1276.1,580.3 L1276.6,580.4 L1277.1,580.5 L1277.6,580.5 L1278.1,580.6 L1278.6,580.8 L1279.1,581.0 L1279.6,581.1 L1280.1,581.1 L1280.6,581.2 L1281.1,581.4 L1281.6,581.5 L1282.1,581.5 L1282.6,581.4 L1283.1,581.5 L1283.6,581.7 L1284.1,581.9 L1284.6,581.9 L1285.1,581.8 L1285.6,581.9 L1286.1,581.9 L1286.6,581.9 L1287.1,581.9 L1287.6,581.9 L1288.1,582.1 L1288.6,582.0 L1289.1,581.8 L1289.6,581.6 L1290.1,581.7 L1290.6,581.9 L1291.1,582.1 L1291.6,582.1 L1292.1,581.9 L1292.6,581.7 L1293.1,581.6 L1293.6,581.7 L1294.1,582.0 L1294.6,582.3 L1295.1,582.4 L1295.6,582.3 L1296.1,582.3 L1296.6,582.2 L1297.1,582.1 L1297.6,582.0 L1298.1,582.0 L1298.6,582.1 L1299.1,582.1 L1299.6,582.0 L1300.1,581.9 L1300.6,581.9 L1301.1,581.8 L1301.6,581.6 L1302.1,581.6 L1302.6,581.7 L1303.1,581.9 L1303.6,582.1 L1304.1,582.2 L1304.6,582.1 L1305.1,582.1 L1305.6,582.1 L1306.1,582.2 L1306.6,582.2 L1307.1,582.2 L1307.6,582.2 L1308.1,582.3 L1308.6,582.2 L1309.1,581.9 L1309.6,581.8 L1310.1,581.9 L1310.6,582.0 L1311.1,582.0 L1311.6,582.0 L1312.1,582.0 L1312.6,582.2 L1313.1,582.1 L1313.6,582.0 L1314.1,581.9 L1314.6,581.8 L1315.1,581.8 L1315.6,581.9 L1316.1,582.1 L1316.6,582.2 L1317.1,582.3 L1317.6,582.3 L1318.1,582.2 L1318.6,582.1 L1319.1,582.0 L1319.6,582.0 L1320.1,582.0 L1320.6,582.0 L1321.1,582.0 L1321.6,582.0 L1322.1,581.9 L1322.6,581.7 L1323.1,581.6 L1323.6,581.9 L1324.1,582.2 L1324.6,582.3 L1325.1,582.3 L1325.6,582.1 L1326.1,582.0 L1326.6,581.9 L1327.1,582.0 L1327.6,582.0 L1328.1,582.0 L1328.6,582.0 L1329.1,582.0 L1329.6,582.1 L1330.1,582.2 L1330.6,582.0 L1331.1,582.0 L1331.6,581.8 L1332.1,581.7 L1332.6,581.7 L1333.1,581.8 L1333.6,581.9 L1334.1,582.1 L1334.6,582.2 L1335.1,582.3 L1335.6,582.2 L1336.1,582.1 L1336.6,582.0 L1337.1,581.9 L1337.6,581.8 L1338.1,581.6 L1338.6,581.7 L1339.1,581.8 L1339.6,582.0 L1340.1,582.0 L1340.6,581.9 L1341.1,581.8 L1341.6,581.8 L1342.1,581.9 L1342.6,582.1 L1343.1,582.1 L1343.6,582.0 L1344.1,581.7 L1344.6,581.6 L1345.1,581.4 L1345.6,581.4 L1346.1,581.2 L1346.6,581.1 L1347.1,581.0 L1347.6,580.8 L1348.1,580.6 L1348.6,580.6 L1349.1,580.6 L1349.6,580.4 L1350.1,580.2 L1350.6,579.8 L1351.1,579.6 L1351.6,579.1 L1352.1,578.4 L1352.6,577.5 L1353.1,576.7 L1353.6,575.8 L1354.1,574.8 L1354.6,573.7 L1355.1,572.8 L1355.6,572.1 L1356.1,571.5 L1356.6,571.3 L1357.1,571.4 L1357.6,572.1 L1358.1,573.3 L1358.6,574.5 L1359.1,575.5 L1359.6,576.4 L1360.1,577.0 L1360.6,577.8 L1361.1,578.5 L1361.6,579.1 L1362.1,579.6 L1362.6,579.8 L1363.1,580.0 L1363.6,580.3 L1364.1,580.5 L1364.6,580.7 L1365.1,580.9 L1365.6,581.2 L1366.1,581.4 L1366.6,581.6 L1367.1,581.8 L1367.6,581.8 L1368.1,581.7 L1368.6,581.6 L1369.1,581.5 L1369.6,581.3 L1370.1,581.2 L1370.6,581.1 L1371.1,581.2 L1371.6,581.2 L1372.1,581.2 L1372.6,581.1 L1373.1,580.9 L1373.6,580.7 L1374.1,580.6 L1374.6,580.5 L1375.1,580.4 L1375.6,580.1 L1376.1,579.8 L1376.6,579.4 L1377.1,579.2 L1377.6,579.1 L1378.1,579.2 L1378.6,579.3 L1379.1,579.3 L1379.6,579.0 L1380.1,578.8 L1380.6,578.9 L1381.1,579.0 L1381.6,579.2 L1382.1,579.5 L1382.6,579.8 L1383.1,580.0 L1383.6,579.9 L1384.1,580.0 L1384.6,580.2 L1385.1,580.4 L1385.6,580.5 L1386.1,580.8 L1386.6,580.9 L1387.1,581.0 L1387.6,581.1 L1388.1,581.0 L1388.6,581.1 L1389.1,581.3 L1389.6,581.5 L1390.1,581.6 L1390.6,581.6 L1391.1,581.6 L1391.6,581.6 L1392.1,581.7 L1392.6,581.8 L1393.1,582.0 L1393.6,582.2 L1394.1,582.0 L1394.6,581.9 L1395.1,581.9 L1395.6,582.0 L1396.1,582.2 L1396.6,582.2 L1397.1,582.1 L1397.6,581.9 L1398.1,581.8 L1398.6,581.8 L1399.1,581.9 L1399.6,581.9 L1400.1,581.8 L1400.6,581.8 L1401.1,581.8 L1401.6,582.0 L1402.1,582.0 L1402.6,582.1 L1403.1,582.0 L1403.6,582.0 L1404.1,582.1 L1404.6,582.3 L1405.1,582.3 L1405.6,582.4 L1406.1,582.3 L1406.6,582.2 L1407.1,582.2 L1407.6,582.3 L1408.1,582.3 L1408.6,582.4 L1409.1,582.2 L1409.6,582.1 L1410.1,581.8 L1410.6,581.7 L1411.1,581.6 L1411.6,581.6 L1412.1,581.5 L1412.6,581.5 L1413.1,581.6 L1413.6,581.8 L1414.1,582.0 L1414.6,582.1 L1415.1,582.2 L1415.6,582.3 L1416.1,582.3 L1416.6,582.3 L1417.1,582.1 L1417.6,582.1 L1418.1,582.1 L1418.6,582.1 L1419.1,582.1 L1419.6,582.2 L1420.1,582.2 L1420.6,582.2 L1421.1,582.2 L1421.6,582.2 L1422.1,582.2 L1422.6,582.3 L1423.1,582.4 L1423.6,582.4 L1424.1,582.3 L1424.6,582.2 L1425.1,582.0 L1425.6,581.8 L1426.1,581.8 L1426.6,581.9 L1427.1,581.9 L1427.6,581.8 L1428.1,581.7 L1428.6,581.7 L1429.1,581.9 L1429.6,582.2 L1430.1,582.4 L1430.6,582.5 L1431.1,582.4 L1431.6,582.2 L1432.1,582.2 L1432.6,582.2 L1433.1,582.2 L1433.6,582.1 L1434.1,582.1 L1434.6,582.0 L1435.1,582.0 L1435.6,582.0 L1436.1,582.0 L1436.6,582.1 L1437.1,582.0 L1437.6,582.0 L1438.1,582.0 L1438.6,582.0 L1439.1,582.0 L1439.6,581.9 L1440.1,581.8 L1440.6,581.8 L1441.1,582.0 L1441.6,582.3 L1442.1,582.4 L1442.6,582.4 L1443.1,582.2 L1443.6,581.9 L1444.1,581.8 L1444.6,581.8 L1445.1,582.1 L1445.6,582.2 L1446.1,582.2"/>
<path stroke="#CFA41F" d="M147.6,420.0 L148.1,419.9 L148.6,419.5 L149.1,419.5 L149.6,419.7 L150.1,420.3 L150.6,420.6 L151.1,420.7 L151.6,420.4 L152.1,420.2 L152.6,420.0 L153.1,420.0 L153.6,419.8 L154.1,419.7 L154.6,419.7 L155.1,419.8 L155.6,419.9 L156.1,419.9 L156.6,419.9 L157.1,419.9 L157.6,420.0 L158.1,419.9 L158.6,419.8 L159.1,419.6 L159.6,419.6 L160.1,419.7 L160.6,419.9 L161.1,420.0 L161.6,420.0 L162.1,419.9 L162.6,419.9 L163.1,419.8 L163.6,419.8 L164.1,419.7 L164.6,419.7 L165.1,419.6 L165.6,419.6 L166.1,419.5 L166.6,419.4 L167.1,419.4 L167.6,419.5 L168.1,419.6 L168.6,419.6 L169.1,419.7 L169.6,419.8 L170.1,419.9 L170.6,419.9 L171.1,419.7 L171.6,419.3 L172.1,419.2 L172.6,419.1 L173.1,419.1 L173.6,419.2 L174.1,419.5 L174.6,419.7 L175.1,419.6 L175.6,419.4 L176.1,419.3 L176.6,419.5 L177.1,419.8 L177.6,419.9 L178.1,420.0 L178.6,419.9 L179.1,419.8 L179.6,419.6 L180.1,419.4 L180.6,419.4 L181.1,419.4 L181.6,419.6 L182.1,419.7 L182.6,419.7 L183.1,419.7 L183.6,419.6 L184.1,419.5 L184.6,419.4 L185.1,419.4 L185.6,419.5 L186.1,419.5 L186.6,419.5 L187.1,419.4 L187.6,419.4 L188.1,419.3 L188.6,419.3 L189.1,419.3 L189.6,419.4 L190.1,419.4 L190.6,419.3 L191.1,419.1 L191.6,419.1 L192.1,419.0 L192.6,419.0 L193.1,418.8 L193.6,418.9 L194.1,419.2 L194.6,419.6 L195.1,419.8 L195.6,419.7 L196.1,419.6 L196.6,419.5 L197.1,419.4 L197.6,419.3 L198.1,419.3 L198.6,419.2 L199.1,419.1 L199.6,419.1 L200.1,419.1 L200.6,419.0 L201.1,419.2 L201.6,419.4 L202.1,419.4 L202.6,419.3 L203.1,419.3 L203.6,419.2 L204.1,419.2 L204.6,419.1 L205.1,419.1 L205.6,419.0 L206.1,418.8 L206.6,418.6 L207.1,418.5 L207.6,418.7 L208.1,419.1 L208.6,419.3 L209.1,419.3 L209.6,419.1 L210.1,418.9 L210.6,418.7 L211.1,418.6 L211.6,418.6 L212.1,418.7 L212.6,418.6 L213.1,418.5 L213.6,418.5 L214.1,418.7 L214.6,418.8 L215.1,419.0 L215.6,418.9 L216.1,418.8 L216.6,418.8 L217.1,418.8 L217.6,419.0 L218.1,419.1 L218.6,419.2 L219.1,419.1 L219.6,418.8 L220.1,418.6 L220.6,418.6 L221.1,418.5 L221.6,418.4 L222.1,418.4 L222.6,418.5 L223.1,418.5 L223.6,418.5 L224.1,418.4 L224.6,418.4 L225.1,418.3 L225.6,418.3 L226.1,418.3 L226.6,418.4 L227.1,418.5 L227.6,418.5 L228.1,418.7 L228.6,418.9 L229.1,419.2 L229.6,419.1 L230.1,419.0 L230.6,418.9 L231.1,418.8 L231.6,418.7 L232.1,418.6 L232.6,418.6 L233.1,418.7 L233.6,418.7 L234.1,418.8 L234.6,418.9 L235.1,419.0 L235.6,419.0 L236.1,419.0 L236.6,418.8 L237.1,418.5 L237.6,418.2 L238.1,418.2 L238.6,418.3 L239.1,418.5 L239.6,418.7 L240.1,418.9 L240.6,418.8 L241.1,418.7 L241.6,418.5 L242.1,418.5 L242.6,418.6 L243.1,418.6 L243.6,418.5 L244.1,418.4 L244.6,418.3 L245.1,418.3 L245.6,418.2 L246.1,418.1 L246.6,418.0 L247.1,418.1 L247.6,418.2 L248.1,418.3 L248.6,418.4 L249.1,418.3 L249.6,418.2 L250.1,418.0 L250.6,418.0 L251.1,417.9 L251.6,418.2 L252.1,418.5 L252.6,418.6 L253.1,418.5 L253.6,418.3 L254.1,418.1 L254.6,418.1 L255.1,418.2 L255.6,418.3 L256.1,418.4 L256.6,418.4 L257.1,418.2 L257.6,418.1 L258.1,418.0 L258.6,417.9 L259.1,418.0 L259.6,418.0 L260.1,418.0 L260.6,418.1 L261.1,418.1 L261.6,418.1 L262.1,418.1 L262.6,418.1 L263.1,417.9 L263.6,417.8 L264.1,417.8 L264.6,417.8 L265.1,417.8 L265.6,417.8 L266.1,417.8 L266.6,417.8 L267.1,417.9 L267.6,418.0 L268.1,418.2 L268.6,418.2 L269.1,418.2 L269.6,418.1 L270.1,418.0 L270.6,417.8 L271.1,417.6 L271.6,417.7 L272.1,417.9 L272.6,417.9 L273.1,417.8 L273.6,417.8 L274.1,417.9 L274.6,418.0 L275.1,417.9 L275.6,417.8 L276.1,417.6 L276.6,417.7 L277.1,417.7 L277.6,417.9 L278.1,417.8 L278.6,417.8 L279.1,417.7 L279.6,417.6 L280.1,417.7 L280.6,417.8 L281.1,417.8 L281.6,417.7 L282.1,417.7 L282.6,417.7 L283.1,417.8 L283.6,417.9 L284.1,417.8 L284.6,417.8 L285.1,417.8 L285.6,417.9 L286.1,417.8 L286.6,417.8 L287.1,417.7 L287.6,417.7 L288.1,417.6 L288.6,417.7 L289.1,417.6 L289.6,417.6 L290.1,417.6 L290.6,417.5 L291.1,417.3 L291.6,417.2 L292.1,417.2 L292.6,417.4 L293.1,417.6 L293.6,417.6 L294.1,417.6 L294.6,417.4 L295.1,417.4 L295.6,417.1 L296.1,416.9 L296.6,416.6 L297.1,416.5 L297.6,416.4 L298.1,416.4 L298.6,416.2 L299.1,415.9 L299.6,415.4 L300.1,414.9 L300.6,414.7 L301.1,414.7 L301.6,414.6 L302.1,414.6 L302.6,414.5 L303.1,414.6 L303.6,415.0 L304.1,415.4 L304.6,415.9 L305.1,416.1 L305.6,416.4 L306.1,416.4 L306.6,416.6 L307.1,416.7 L307.6,416.8 L308.1,416.8 L308.6,416.8 L309.1,416.9 L309.6,417.1 L310.1,417.4 L310.6,417.5 L311.1,417.4 L311.6,417.3 L312.1,417.2 L312.6,417.2 L313.1,417.3 L313.6,417.3 L314.1,417.2 L314.6,417.0 L315.1,416.9 L315.6,417.0 L316.1,417.1 L316.6,417.3 L317.1,417.4 L317.6,417.5 L318.1,417.3 L318.6,417.2 L319.1,417.2 L319.6,417.3 L320.1,417.2 L320.6,417.0 L321.1,417.1 L321.6,417.2 L322.1,417.3 L322.6,417.2 L323.1,417.3 L323.6,417.2 L324.1,417.2 L324.6,417.0 L325.1,416.8 L325.6,416.8 L326.1,416.9 L326.6,417.1 L327.1,417.1 L327.6,417.0 L328.1,416.8 L328.6,416.7 L329.1,416.6 L329.6,416.6 L330.1,416.7 L330.6,416.8 L331.1,416.8 L331.6,416.6 L332.1,416.4 L332.6,416.4 L333.1,416.6 L333.6,416.7 L334.1,416.7 L334.6,416.7 L335.1,416.7 L335.6,416.5 L336.1,416.5 L336.6,416.6 L337.1,416.7 L337.6,416.6 L338.1,416.5 L338.6,416.3 L339.1,416.2 L339.6,416.0 L340.1,415.9 L340.6,415.9 L341.1,416.0 L341.6,416.0 L342.1,416.0 L342.6,416.0 L343.1,416.0 L343.6,416.1 L344.1,416.1 L344.6,416.1 L345.1,416.0 L345.6,415.9 L346.1,416.0 L346.6,416.2 L347.1,416.3 L347.6,416.3 L348.1,416.2 L348.6,416.1 L349.1,416.1 L349.6,416.2 L350.1,416.2 L350.6,416.1 L351.1,416.0 L351.6,415.8 L352.1,415.9 L352.6,416.1 L353.1,416.3 L353.6,416.4 L354.1,416.4 L354.6,416.4 L355.1,416.3 L355.6,416.4 L356.1,416.5 L356.6,416.7 L357.1,416.6 L357.6,416.6 L358.1,416.4 L358.6,416.4 L359.1,416.4 L359.6,416.6 L360.1,416.6 L360.6,416.8 L361.1,416.7 L361.6,416.7 L362.1,416.5 L362.6,416.6 L363.1,416.6 L363.6,416.6 L364.1,416.4 L364.6,416.2 L365.1,416.0 L365.6,416.2 L366.1,416.3 L366.6,416.4 L367.1,416.5 L367.6,416.8 L368.1,417.1 L368.6,417.1 L369.1,417.0 L369.6,416.7 L370.1,416.6 L370.6,416.6 L371.1,416.7 L371.6,416.6 L372.1,416.6 L372.6,416.5 L373.1,416.6 L373.6,416.6 L374.1,416.7 L374.6,416.7 L375.1,416.7 L375.6,416.8 L376.1,416.9 L376.6,416.9 L377.1,416.8 L377.6,416.7 L378.1,416.9 L378.6,416.8 L379.1,416.7 L379.6,416.5 L380.1,416.5 L380.6,416.6 L381.1,416.9 L381.6,417.1 L382.1,417.1 L382.6,417.1 L383.1,416.9 L383.6,416.9 L384.1,416.9 L384.6,417.0 L385.1,417.1 L385.6,417.1 L386.1,416.9 L386.6,416.6 L387.1,416.5 L387.6,416.6 L388.1,416.8 L388.6,416.7 L389.1,416.7 L389.6,416.6 L390.1,416.7 L390.6,416.6 L391.1,416.4 L391.6,416.3 L392.1,416.4 L392.6,416.6 L393.1,416.7 L393.6,416.8 L394.1,416.5 L394.6,416.2 L395.1,416.3 L395.6,416.5 L396.1,416.8 L396.6,416.7 L397.1,416.5 L397.6,416.5 L398.1,416.4 L398.6,416.4 L399.1,416.4 L399.6,416.3 L400.1,416.3 L400.6,416.2 L401.1,416.2 L401.6,416.4 L402.1,416.5 L402.6,416.5 L403.1,416.6 L403.6,416.6 L404.1,416.7 L404.6,416.6 L405.1,416.6 L405.6,416.5 L406.1,416.3 L406.6,416.2 L407.1,416.5 L407.6,416.7 L408.1,416.9 L408.6,416.9 L409.1,416.8 L409.6,416.7 L410.1,416.7 L410.6,416.6 L411.1,416.6 L411.6,416.5 L412.1,416.4 L412.6,416.4 L413.1,416.4 L413.6,416.5 L414.1,416.6 L414.6,416.7 L415.1,416.5 L415.6,416.4 L416.1,416.2 L416.6,416.2 L417.1,416.1 L417.6,416.4 L418.1,416.5 L418.6,416.6 L419.1,416.3 L419.6,416.1 L420.1,416.1 L420.6,416.4 L421.1,416.5 L421.6,416.4 L422.1,416.1 L422.6,415.8 L423.1,415.4 L423.6,415.0 L424.1,415.0 L424.6,415.2 L425.1,415.4 L425.6,415.3 L426.1,415.0 L426.6,414.6 L427.1,414.2 L427.6,413.7 L428.1,413.0 L428.6,411.7 L429.1,409.6 L429.6,405.7 L430.1,398.4 L430.6,386.3 L431.1,367.8 L431.6,343.1 L432.1,313.6 L432.6,283.8 L433.1,260.5 L433.6,251.6 L434.1,260.6 L434.6,284.1 L435.1,314.2 L435.6,343.9 L436.1,368.8 L436.6,387.0 L437.1,399.1 L437.6,406.4 L438.1,410.7 L438.6,413.0 L439.1,414.4 L439.6,415.2 L440.1,415.7 L440.6,416.1 L441.1,416.3 L441.6,416.6 L442.1,416.7 L442.6,416.9 L443.1,416.9 L443.6,417.1 L444.1,417.2 L444.6,417.2 L445.1,417.2 L445.6,417.3 L446.1,417.5 L446.6,417.7 L447.1,417.7 L447.6,418.0 L448.1,418.2 L448.6,418.4 L449.1,418.5 L449.6,418.6 L450.1,418.8 L450.6,418.9 L451.1,419.0 L451.6,418.9 L452.1,418.9 L452.6,419.1 L453.1,419.3 L453.6,419.5 L454.1,419.4 L454.6,419.4 L455.1,419.2 L455.6,419.1 L456.1,419.0 L456.6,419.0 L457.1,419.0 L457.6,419.0 L458.1,418.9 L458.6,419.0 L459.1,419.2 L459.6,419.3 L460.1,419.2 L460.6,419.0 L461.1,419.0 L461.6,419.1 L462.1,419.1 L462.6,419.0 L463.1,418.8 L463.6,418.7 L464.1,418.7 L464.6,418.9 L465.1,419.2 L465.6,419.2 L466.1,419.1 L466.6,418.6 L467.1,418.3 L467.6,418.1 L468.1,418.2 L468.6,418.0 L469.1,417.2 L469.6,415.4 L470.1,412.3 L470.6,407.9 L471.1,402.6 L471.6,397.3 L472.1,393.8 L472.6,393.8 L473.1,397.0 L473.6,401.6 L474.1,405.9 L474.6,408.5 L475.1,409.2 L475.6,408.1 L476.1,406.1 L476.6,404.0 L477.1,402.7 L477.6,402.5 L478.1,403.6 L478.6,405.9 L479.1,408.7 L479.6,411.4 L480.1,413.8 L480.6,415.7 L481.1,416.9 L481.6,417.7 L482.1,418.1 L482.6,418.5 L483.1,418.6 L483.6,418.6 L484.1,418.6 L484.6,418.5 L485.1,418.5 L485.6,418.5 L486.1,418.6 L486.6,418.6 L487.1,418.6 L487.6,418.4 L488.1,418.1 L488.6,417.2 L489.1,416.0 L489.6,413.9 L490.1,411.0 L490.6,406.9 L491.1,401.6 L491.6,395.5 L492.1,389.2 L492.6,383.5 L493.1,379.9 L493.6,379.6 L494.1,382.9 L494.6,388.4 L495.1,395.0 L495.6,401.2 L496.1,406.5 L496.6,410.6 L497.1,413.8 L497.6,415.9 L498.1,417.1 L498.6,418.0 L499.1,418.5 L499.6,418.9 L500.1,419.1 L500.6,419.1 L501.1,419.3 L501.6,419.4 L502.1,419.6 L502.6,419.7 L503.1,419.7 L503.6,419.9 L504.1,419.9 L504.6,420.0 L505.1,419.8 L505.6,419.9 L506.1,420.0 L506.6,420.4 L507.1,420.5 L507.6,420.5 L508.1,420.4 L508.6,420.3 L509.1,420.2 L509.6,420.2 L510.1,420.3 L510.6,420.5 L511.1,420.5 L511.6,420.4 L512.1,420.3 L512.6,420.2 L513.1,420.3 L513.6,420.3 L514.1,420.4 L514.6,420.4 L515.1,420.4 L515.6,420.3 L516.1,420.5 L516.6,420.5 L517.1,420.4 L517.6,420.3 L518.1,420.2 L518.6,420.3 L519.1,420.6 L519.6,420.7 L520.1,420.6 L520.6,420.3 L521.1,420.1 L521.6,420.0 L522.1,419.9 L522.6,419.6 L523.1,419.0 L523.6,418.2 L524.1,417.1 L524.6,415.5 L525.1,413.9 L525.6,412.4 L526.1,411.7 L526.6,411.7 L527.1,412.6 L527.6,413.9 L528.1,415.5 L528.6,417.0 L529.1,418.2 L529.6,418.8 L530.1,419.1 L530.6,419.3 L531.1,419.6 L531.6,419.9 L532.1,420.1 L532.6,420.4 L533.1,420.3 L533.6,420.4 L534.1,420.3 L534.6,420.4 L535.1,420.5 L535.6,420.6 L536.1,420.5 L536.6,420.5 L537.1,420.6 L537.6,420.7 L538.1,420.7 L538.6,420.7 L539.1,420.7 L539.6,420.7 L540.1,420.8 L540.6,420.8 L541.1,420.9 L541.6,420.9 L542.1,420.8 L542.6,420.6 L543.1,420.5 L543.6,420.5 L544.1,420.6 L544.6,420.7 L545.1,420.7 L545.6,420.8 L546.1,420.7 L546.6,420.7 L547.1,420.7 L547.6,420.7 L548.1,420.6 L548.6,420.5 L549.1,420.7 L549.6,421.0 L550.1,421.2 L550.6,421.2 L551.1,420.9 L551.6,420.7 L552.1,420.7 L552.6,420.9 L553.1,421.1 L553.6,421.2 L554.1,421.1 L554.6,421.2 L555.1,421.1 L555.6,421.0 L556.1,420.7 L556.6,420.6 L557.1,420.7 L557.6,420.7 L558.1,420.7 L558.6,420.7 L559.1,420.8 L559.6,420.9 L560.1,420.9 L560.6,420.8 L561.1,420.8 L561.6,420.9 L562.1,421.0 L562.6,421.0 L563.1,421.0 L563.6,421.0 L564.1,420.7 L564.6,420.5 L565.1,420.4 L565.6,420.5 L566.1,420.5 L566.6,420.5 L567.1,420.5 L567.6,420.9 L568.1,421.2 L568.6,421.3 L569.1,421.0 L569.6,420.6 L570.1,420.4 L570.6,420.2 L571.1,419.9 L571.6,419.5 L572.1,419.2 L572.6,418.9 L573.1,418.2 L573.6,417.4 L574.1,416.2 L574.6,415.1 L575.1,414.1 L575.6,413.6 L576.1,413.4 L576.6,413.5 L577.1,414.1 L577.6,414.9 L578.1,416.0 L578.6,416.8 L579.1,417.4 L579.6,417.6 L580.1,417.8 L580.6,417.7 L581.1,417.8 L581.6,417.8 L582.1,417.7 L582.6,417.6 L583.1,417.6 L583.6,417.8 L584.1,417.9 L584.6,418.2 L585.1,418.6 L585.6,418.9 L586.1,419.1 L586.6,419.2 L587.1,419.6 L587.6,419.9 L588.1,420.2 L588.6,420.5 L589.1,420.7 L589.6,420.7 L590.1,420.6 L590.6,420.6 L591.1,420.8 L591.6,421.2 L592.1,421.3 L592.6,421.4 L593.1,421.3 L593.6,421.1 L594.1,420.9 L594.6,421.0 L595.1,420.9 L595.6,420.9 L596.1,420.8 L596.6,420.9 L597.1,421.1 L597.6,421.3 L598.1,421.2 L598.6,421.1 L599.1,421.0 L599.6,421.0 L600.1,421.1 L600.6,421.3 L601.1,421.4 L601.6,421.4 L602.1,421.3 L602.6,421.3 L603.1,421.2 L603.6,421.3 L604.1,421.2 L604.6,421.2 L605.1,421.1 L605.6,421.1 L606.1,421.2 L606.6,421.2 L607.1,421.3 L607.6,421.3 L608.1,421.5 L608.6,421.5 L609.1,421.5 L609.6,421.3 L610.1,421.1 L610.6,421.1 L611.1,421.4 L611.6,421.5 L612.1,421.5 L612.6,421.1 L613.1,421.0 L613.6,421.2 L614.1,421.5 L614.6,421.6 L615.1,421.5 L615.6,421.2 L616.1,421.1 L616.6,421.1 L617.1,421.4 L617.6,421.5 L618.1,421.6 L618.6,421.6 L619.1,421.6 L619.6,421.5 L620.1,421.5 L620.6,421.5 L621.1,421.6 L621.6,421.6 L622.1,421.5 L622.6,421.2 L623.1,421.1 L623.6,421.0 L624.1,421.1 L624.6,421.3 L625.1,421.4 L625.6,421.5 L626.1,421.1 L626.6,420.6 L627.1,420.1 L627.6,419.5 L628.1,418.8 L628.6,418.0 L629.1,417.3 L629.6,416.8 L630.1,416.7 L630.6,416.8 L631.1,417.3 L631.6,417.9 L632.1,418.7 L632.6,419.6 L633.1,420.4 L633.6,420.9 L634.1,421.0 L634.6,421.1 L635.1,421.1 L635.6,421.2 L636.1,421.4 L636.6,421.6 L637.1,421.5 L637.6,421.4 L638.1,421.2 L638.6,421.3 L639.1,421.3 L639.6,421.4 L640.1,421.3 L640.6,421.3 L641.1,421.2 L641.6,421.1 L642.1,421.0 L642.6,420.9 L643.1,420.7 L643.6,420.4 L644.1,419.9 L644.6,419.1 L645.1,418.1 L645.6,416.8 L646.1,415.4 L646.6,413.5 L647.1,411.8 L647.6,410.4 L648.1,410.2 L648.6,411.1 L649.1,412.7 L649.6,414.7 L650.1,416.6 L650.6,418.2 L651.1,419.5 L651.6,420.0 L652.1,420.2 L652.6,420.1 L653.1,420.3 L653.6,420.4 L654.1,420.6 L654.6,420.7 L655.1,420.6 L655.6,420.6 L656.1,420.7 L656.6,420.6 L657.1,420.6 L657.6,420.4 L658.1,420.3 L658.6,420.1 L659.1,419.8 L659.6,419.4 L660.1,418.9 L660.6,417.9 L661.1,416.4 L661.6,414.0 L662.1,410.1 L662.6,404.8 L663.1,398.0 L663.6,390.7 L664.1,384.6 L664.6,382.0 L665.1,384.1 L665.6,389.9 L666.1,397.2 L666.6,404.1 L667.1,409.8 L667.6,413.9 L668.1,416.5 L668.6,418.0 L669.1,418.8 L669.6,419.4 L670.1,419.7 L670.6,419.9 L671.1,419.9 L671.6,420.1 L672.1,420.3 L672.6,420.5 L673.1,420.5 L673.6,420.5 L674.1,420.5 L674.6,420.4 L675.1,420.1 L675.6,419.3 L676.1,418.0 L676.6,416.2 L677.1,414.0 L677.6,411.7 L678.1,409.6 L678.6,408.3 L679.1,408.5 L679.6,410.0 L680.1,412.3 L680.6,414.7 L681.1,416.8 L681.6,418.4 L682.1,419.5 L682.6,420.2 L683.1,420.7 L683.6,420.9 L684.1,421.1 L684.6,421.0 L685.1,421.0 L685.6,420.8 L686.1,420.5 L686.6,420.0 L687.1,419.4 L687.6,418.9 L688.1,418.4 L688.6,418.4 L689.1,418.5 L689.6,419.0 L690.1,419.5 L690.6,420.0 L691.1,420.4 L691.6,420.8 L692.1,421.1 L692.6,421.3 L693.1,421.4 L693.6,421.4 L694.1,421.4 L694.6,421.3 L695.1,421.1 L695.6,421.1 L696.1,421.1 L696.6,421.2 L697.1,421.3 L697.6,421.3 L698.1,421.2 L698.6,421.1 L699.1,421.0 L699.6,421.1 L700.1,421.4 L700.6,421.7 L701.1,421.8 L701.6,421.7 L702.1,421.3 L702.6,421.0 L703.1,420.8 L703.6,420.8 L704.1,420.9 L704.6,421.1 L705.1,421.3 L705.6,421.4 L706.1,421.4 L706.6,421.3 L707.1,421.4 L707.6,421.4 L708.1,421.3 L708.6,421.2 L709.1,421.3 L709.6,421.4 L710.1,421.5 L710.6,421.4 L711.1,421.3 L711.6,421.3 L712.1,421.4 L712.6,421.4 L713.1,421.2 L713.6,421.1 L714.1,421.1 L714.6,421.3 L715.1,421.4 L715.6,421.4 L716.1,421.4 L716.6,421.5 L717.1,421.6 L717.6,421.6 L718.1,421.5 L718.6,421.4 L719.1,421.5 L719.6,421.4 L720.1,421.3 L720.6,421.2 L721.1,421.3 L721.6,421.5 L722.1,421.7 L722.6,421.6 L723.1,421.6 L723.6,421.4 L724.1,421.3 L724.6,421.0 L725.1,420.7 L725.6,420.4 L726.1,419.9 L726.6,419.2 L727.1,418.2 L727.6,417.0 L728.1,415.9 L728.6,415.3 L729.1,415.6 L729.6,416.5 L730.1,417.7 L730.6,419.1 L731.1,420.1 L731.6,420.7 L732.1,421.0 L732.6,421.1 L733.1,421.3 L733.6,421.2 L734.1,421.3 L734.6,421.2 L735.1,421.3 L735.6,421.3 L736.1,421.4 L736.6,421.4 L737.1,421.5 L737.6,421.4 L738.1,421.3 L738.6,421.2 L739.1,421.3 L739.6,421.3 L740.1,421.6 L740.6,421.8 L741.1,422.0 L741.6,421.9 L742.1,421.9 L742.6,421.8 L743.1,421.8 L743.6,421.7 L744.1,421.4 L744.6,421.4 L745.1,421.5 L745.6,421.8 L746.1,421.8 L746.6,421.9 L747.1,421.8 L747.6,421.9 L748.1,421.9 L748.6,421.9 L749.1,421.8 L749.6,421.7 L750.1,421.7 L750.6,421.6 L751.1,421.6 L751.6,421.7 L752.1,421.6 L752.6,421.5 L753.1,421.3 L753.6,421.5 L754.1,421.5 L754.6,421.4 L755.1,421.4 L755.6,421.4 L756.1,421.5 L756.6,421.5 L757.1,421.4 L757.6,421.4 L758.1,421.4 L758.6,421.5 L759.1,421.7 L759.6,421.8 L760.1,421.7 L760.6,421.4 L761.1,421.3 L761.6,421.3 L762.1,421.6 L762.6,421.8 L763.1,421.9 L763.6,421.8 L764.1,421.8 L764.6,421.7 L765.1,421.6 L765.6,421.5 L766.1,421.4 L766.6,421.3 L767.1,421.4 L767.6,421.6 L768.1,421.8 L768.6,421.9 L769.1,421.7 L769.6,421.6 L770.1,421.6 L770.6,421.5 L771.1,421.4 L771.6,421.2 L772.1,421.3 L772.6,421.3 L773.1,421.4 L773.6,421.3 L774.1,421.5 L774.6,421.7 L775.1,421.9 L775.6,421.8 L776.1,421.4 L776.6,420.9 L777.1,420.4 L777.6,420.2 L778.1,420.0 L778.6,419.6 L779.1,419.5 L779.6,419.4 L780.1,419.6 L780.6,419.6 L781.1,419.8 L781.6,419.9 L782.1,420.3 L782.6,420.5 L783.1,420.8 L783.6,420.9 L784.1,421.1 L784.6,421.2 L785.1,421.3 L785.6,421.3 L786.1,421.2 L786.6,421.1 L787.1,421.3 L787.6,421.6 L788.1,421.9 L788.6,422.0 L789.1,421.8 L789.6,421.6 L790.1,421.7 L790.6,421.9 L791.1,422.0 L791.6,421.9 L792.1,421.7 L792.6,421.5 L793.1,421.5 L793.6,421.6 L794.1,421.6 L794.6,421.5 L795.1,421.1 L795.6,421.0 L796.1,421.0 L796.6,421.1 L797.1,421.3 L797.6,421.5 L798.1,421.6 L798.6,421.6 L799.1,421.8 L799.6,421.8 L800.1,421.8 L800.6,421.5 L801.1,421.2 L801.6,421.2 L802.1,421.3 L802.6,421.4 L803.1,421.5 L803.6,421.4 L804.1,421.4 L804.6,421.2 L805.1,421.0 L805.6,420.7 L806.1,420.4 L806.6,420.3 L807.1,420.1 L807.6,420.0 L808.1,419.6 L808.6,419.1 L809.1,418.7 L809.6,418.3 L810.1,417.9 L810.6,417.4 L811.1,417.2 L811.6,417.0 L812.1,416.9 L812.6,416.6 L813.1,416.4 L813.6,416.4 L814.1,416.6 L814.6,416.9 L815.1,417.1 L815.6,417.2 L816.1,417.5 L816.6,417.9 L817.1,418.3 L817.6,418.8 L818.1,419.3 L818.6,419.9 L819.1,420.3 L819.6,420.5 L820.1,420.6 L820.6,420.8 L821.1,421.1 L821.6,421.2 L822.1,421.4 L822.6,421.1 L823.1,420.9 L823.6,420.7 L824.1,420.8 L824.6,420.9 L825.1,421.0 L825.6,421.2 L826.1,421.2 L826.6,421.3 L827.1,421.2 L827.6,421.2 L828.1,421.1 L828.6,421.0 L829.1,421.0 L829.6,421.1 L830.1,421.2 L830.6,421.1 L831.1,421.1 L831.6,420.9 L832.1,420.9 L832.6,420.9 L833.1,421.0 L833.6,420.9 L834.1,420.8 L834.6,420.7 L835.1,420.7 L835.6,420.7 L836.1,420.7 L836.6,420.8 L837.1,420.8 L837.6,420.8 L838.1,420.8 L838.6,420.7 L839.1,420.5 L839.6,420.4 L840.1,420.1 L840.6,419.5 L841.1,418.7 L841.6,417.4 L842.1,415.6 L842.6,413.3 L843.1,410.8 L843.6,408.3 L844.1,406.1 L844.6,404.3 L845.1,403.6 L845.6,404.4 L846.1,406.4 L846.6,408.9 L847.1,411.3 L847.6,413.3 L848.1,414.9 L848.6,416.3 L849.1,417.2 L849.6,417.6 L850.1,417.4 L850.6,416.5 L851.1,414.6 L851.6,411.3 L852.1,406.0 L852.6,398.9 L853.1,390.0 L853.6,380.1 L854.1,370.7 L854.6,364.4 L855.1,363.8 L855.6,369.0 L856.1,378.1 L856.6,388.3 L857.1,397.8 L857.6,405.5 L858.1,411.0 L858.6,414.7 L859.1,416.9 L859.6,418.2 L860.1,418.9 L860.6,419.2 L861.1,419.6 L861.6,419.8 L862.1,420.2 L862.6,420.4 L863.1,420.5 L863.6,420.4 L864.1,420.3 L864.6,420.4 L865.1,420.4 L865.6,420.7 L866.1,420.6 L866.6,420.8 L867.1,420.7 L867.6,420.9 L868.1,421.0 L868.6,421.1 L869.1,421.1 L869.6,421.0 L870.1,421.1 L870.6,421.2 L871.1,421.4 L871.6,421.4 L872.1,421.3 L872.6,421.2 L873.1,421.1 L873.6,421.0 L874.1,421.0 L874.6,421.1 L875.1,421.2 L875.6,421.3 L876.1,421.4 L876.6,421.6 L877.1,421.8 L877.6,421.8 L878.1,421.8 L878.6,421.8 L879.1,421.9 L879.6,421.7 L880.1,421.6 L880.6,421.4 L881.1,421.5 L881.6,421.5 L882.1,421.6 L882.6,421.6 L883.1,421.7 L883.6,421.9 L884.1,421.9 L884.6,421.6 L885.1,421.3 L885.6,421.1 L886.1,421.1 L886.6,421.3 L887.1,421.4 L887.6,421.6 L888.1,421.7 L888.6,421.9 L889.1,422.0 L889.6,421.9 L890.1,421.7 L890.6,421.4 L891.1,421.2 L891.6,421.1 L892.1,421.1 L892.6,421.1 L893.1,421.1 L893.6,421.2 L894.1,421.2 L894.6,421.2 L895.1,421.4 L895.6,421.6 L896.1,421.7 L896.6,421.5 L897.1,421.4 L897.6,421.5 L898.1,421.7 L898.6,421.9 L899.1,422.0 L899.6,422.1 L900.1,421.9 L900.6,421.7 L901.1,421.5 L901.6,421.4 L902.1,421.4 L902.6,421.6 L903.1,421.6 L903.6,421.6 L904.1,421.5 L904.6,421.5 L905.1,421.7 L905.6,421.8 L906.1,421.8 L906.6,421.6 L907.1,421.5 L907.6,421.4 L908.1,421.5 L908.6,421.5 L909.1,421.5 L909.6,421.4 L910.1,421.3 L910.6,421.2 L911.1,421.2 L911.6,421.4 L912.1,421.6 L912.6,421.7 L913.1,421.8 L913.6,421.6 L914.1,421.7 L914.6,421.6 L915.1,421.5 L915.6,421.4 L916.1,421.3 L916.6,421.4 L917.1,421.3 L917.6,421.3 L918.1,421.2 L918.6,421.3 L919.1,421.3 L919.6,421.4 L920.1,421.3 L920.6,421.3 L921.1,421.4 L921.6,421.4 L922.1,421.4 L922.6,421.3 L923.1,421.4 L923.6,421.7 L924.1,421.9 L924.6,421.9 L925.1,421.5 L925.6,421.1 L926.1,420.8 L926.6,420.9 L927.1,420.8 L927.6,420.7 L928.1,420.7 L928.6,420.7 L929.1,420.6 L929.6,420.3 L930.1,419.9 L930.6,419.8 L931.1,419.7 L931.6,419.6 L932.1,419.4 L932.6,419.2 L933.1,419.2 L933.6,419.4 L934.1,419.4 L934.6,419.2 L935.1,419.2 L935.6,419.3 L936.1,419.5 L936.6,419.7 L937.1,419.9 L937.6,420.1 L938.1,420.2 L938.6,420.4 L939.1,420.7 L939.6,421.0 L940.1,421.3 L940.6,421.3 L941.1,421.1 L941.6,420.9 L942.1,421.0 L942.6,421.1 L943.1,421.1 L943.6,421.1 L944.1,421.0 L944.6,421.0 L945.1,421.0 L945.6,421.1 L946.1,421.3 L946.6,421.4 L947.1,421.4 L947.6,421.4 L948.1,421.4 L948.6,421.5 L949.1,421.6 L949.6,421.7 L950.1,421.5 L950.6,421.3 L951.1,421.0 L951.6,420.9 L952.1,421.0 L952.6,421.0 L953.1,421.2 L953.6,421.1 L954.1,421.1 L954.6,420.8 L955.1,420.7 L955.6,420.5 L956.1,420.5 L956.6,420.4 L957.1,420.2 L957.6,420.3 L958.1,420.2 L958.6,419.8 L959.1,418.5 L959.6,416.6 L960.1,413.5 L960.6,409.2 L961.1,403.7 L961.6,397.7 L962.1,392.5 L962.6,389.4 L963.1,389.7 L963.6,393.2 L964.1,398.8 L964.6,404.7 L965.1,410.0 L965.6,413.7 L966.1,416.0 L966.6,417.0 L967.1,416.9 L967.6,415.9 L968.1,414.1 L968.6,411.5 L969.1,408.3 L969.6,405.3 L970.1,403.4 L970.6,403.6 L971.1,405.8 L971.6,408.6 L972.1,411.1 L972.6,412.7 L973.1,413.1 L973.6,412.3 L974.1,410.8 L974.6,409.4 L975.1,409.0 L975.6,410.1 L976.1,412.2 L976.6,414.5 L977.1,416.5 L977.6,417.8 L978.1,418.7 L978.6,419.5 L979.1,419.9 L979.6,420.2 L980.1,420.1 L980.6,419.8 L981.1,419.1 L981.6,418.0 L982.1,416.4 L982.6,413.9 L983.1,410.4 L983.6,405.6 L984.1,400.0 L984.6,394.4 L985.1,390.3 L985.6,389.7 L986.1,392.7 L986.6,398.2 L987.1,404.2 L987.6,409.6 L988.1,413.8 L988.6,416.5 L989.1,418.3 L989.6,419.3 L990.1,420.1 L990.6,420.5 L991.1,420.9 L991.6,420.9 L992.1,420.8 L992.6,420.6 L993.1,420.5 L993.6,420.5 L994.1,420.6 L994.6,420.7 L995.1,420.8 L995.6,421.2 L996.1,421.4 L996.6,421.6 L997.1,421.3 L997.6,421.1 L998.1,421.0 L998.6,421.0 L999.1,421.0 L999.6,421.0 L1000.1,420.9 L1000.6,420.8 L1001.1,420.7 L1001.6,420.6 L1002.1,420.5 L1002.6,420.5 L1003.1,420.5 L1003.6,420.4 L1004.1,420.1 L1004.6,419.5 L1005.1,418.5 L1005.6,417.5 L1006.1,416.4 L1006.6,415.1 L1007.1,413.5 L1007.6,412.0 L1008.1,410.9 L1008.6,410.3 L1009.1,410.2 L1009.6,410.7 L1010.1,411.6 L1010.6,412.7 L1011.1,413.9 L1011.6,414.8 L1012.1,415.6 L1012.6,416.2 L1013.1,416.9 L1013.6,417.4 L1014.1,417.5 L1014.6,417.5 L1015.1,417.2 L1015.6,417.2 L1016.1,417.2 L1016.6,417.3 L1017.1,417.4 L1017.6,417.6 L1018.1,418.1 L1018.6,418.8 L1019.1,419.4 L1019.6,419.8 L1020.1,420.0 L1020.6,420.0 L1021.1,420.2 L1021.6,420.4 L1022.1,420.7 L1022.6,420.7 L1023.1,420.6 L1023.6,420.6 L1024.1,420.7 L1024.6,421.0 L1025.1,421.3 L1025.6,421.5 L1026.1,421.5 L1026.6,421.2 L1027.1,421.1 L1027.6,421.1 L1028.1,421.3 L1028.6,421.5 L1029.1,421.7 L1029.6,421.8 L1030.1,421.9 L1030.6,421.9 L1031.1,421.9 L1031.6,422.0 L1032.1,422.1 L1032.6,422.1 L1033.1,421.9 L1033.6,421.7 L1034.1,421.3 L1034.6,421.2 L1035.1,421.2 L1035.6,421.3 L1036.1,421.4 L1036.6,421.4 L1037.1,421.5 L1037.6,421.6 L1038.1,421.7 L1038.6,421.7 L1039.1,421.7 L1039.6,421.5 L1040.1,421.5 L1040.6,421.5 L1041.1,421.7 L1041.6,421.6 L1042.1,421.6 L1042.6,421.5 L1043.1,421.5 L1043.6,421.5 L1044.1,421.6 L1044.6,421.8 L1045.1,421.8 L1045.6,421.7 L1046.1,421.4 L1046.6,421.3 L1047.1,421.5 L1047.6,421.7 L1048.1,421.7 L1048.6,421.5 L1049.1,421.2 L1049.6,421.2 L1050.1,421.2 L1050.6,421.3 L1051.1,421.3 L1051.6,421.5 L1052.1,421.5 L1052.6,421.4 L1053.1,421.2 L1053.6,421.1 L1054.1,420.9 L1054.6,420.8 L1055.1,420.5 L1055.6,420.3 L1056.1,420.0 L1056.6,419.7 L1057.1,419.4 L1057.6,419.1 L1058.1,419.0 L1058.6,419.1 L1059.1,419.3 L1059.6,419.7 L1060.1,420.2 L1060.6,420.7 L1061.1,421.1 L1061.6,421.4 L1062.1,421.5 L1062.6,421.5 L1063.1,421.4 L1063.6,421.2 L1064.1,421.0 L1064.6,421.1 L1065.1,421.2 L1065.6,421.2 L1066.1,421.2 L1066.6,421.2 L1067.1,421.5 L1067.6,421.6 L1068.1,421.7 L1068.6,421.7 L1069.1,421.6 L1069.6,421.6 L1070.1,421.6 L1070.6,421.6 L1071.1,421.4 L1071.6,421.4 L1072.1,421.3 L1072.6,421.5 L1073.1,421.5 L1073.6,421.6 L1074.1,421.6 L1074.6,421.7 L1075.1,421.6 L1075.6,421.5 L1076.1,421.5 L1076.6,421.6 L1077.1,421.7 L1077.6,421.5 L1078.1,421.4 L1078.6,421.4 L1079.1,421.6 L1079.6,421.8 L1080.1,421.9 L1080.6,421.9 L1081.1,421.7 L1081.6,421.6 L1082.1,421.4 L1082.6,421.3 L1083.1,421.3 L1083.6,421.3 L1084.1,421.3 L1084.6,421.6 L1085.1,421.7 L1085.6,421.9 L1086.1,421.7 L1086.6,421.6 L1087.1,421.4 L1087.6,421.4 L1088.1,421.4 L1088.6,421.4 L1089.1,421.4 L1089.6,421.4 L1090.1,421.5 L1090.6,421.6 L1091.1,421.7 L1091.6,421.6 L1092.1,421.5 L1092.6,421.5 L1093.1,421.7 L1093.6,421.8 L1094.1,422.0 L1094.6,421.9 L1095.1,421.8 L1095.6,421.7 L1096.1,421.6 L1096.6,421.5 L1097.1,421.3 L1097.6,421.2 L1098.1,421.1 L1098.6,421.1 L1099.1,421.1 L1099.6,421.2 L1100.1,421.3 L1100.6,421.4 L1101.1,421.5 L1101.6,421.7 L1102.1,421.8 L1102.6,421.8 L1103.1,421.7 L1103.6,421.5 L1104.1,421.5 L1104.6,421.3 L1105.1,421.2 L1105.6,421.0 L1106.1,421.0 L1106.6,421.2 L1107.1,421.3 L1107.6,421.3 L1108.1,421.3 L1108.6,421.2 L1109.1,421.2 L1109.6,421.0 L1110.1,420.8 L1110.6,420.6 L1111.1,420.7 L1111.6,420.7 L1112.1,420.7 L1112.6,420.5 L1113.1,420.2 L1113.6,419.8 L1114.1,419.3 L1114.6,418.7 L1115.1,418.1 L1115.6,417.6 L1116.1,417.4 L1116.6,417.4 L1117.1,417.6 L1117.6,417.8 L1118.1,418.1 L1118.6,418.3 L1119.1,418.6 L1119.6,418.9 L1120.1,419.3 L1120.6,419.5 L1121.1,419.8 L1121.6,419.9 L1122.1,420.0 L1122.6,419.9 L1123.1,419.5 L1123.6,418.5 L1124.1,416.8 L1124.6,414.4 L1125.1,411.0 L1125.6,406.7 L1126.1,401.8 L1126.6,397.5 L1127.1,395.1 L1127.6,396.2 L1128.1,399.8 L1128.6,404.8 L1129.1,409.5 L1129.6,413.4 L1130.1,416.3 L1130.6,418.4 L1131.1,419.7 L1131.6,420.3 L1132.1,420.5 L1132.6,420.6 L1133.1,420.6 L1133.6,420.7 L1134.1,420.9 L1134.6,421.1 L1135.1,421.2 L1135.6,421.1 L1136.1,421.0 L1136.6,421.0 L1137.1,421.2 L1137.6,421.4 L1138.1,421.4 L1138.6,421.2 L1139.1,421.2 L1139.6,421.3 L1140.1,421.5 L1140.6,421.5 L1141.1,421.6 L1141.6,421.8 L1142.1,421.8 L1142.6,421.8 L1143.1,421.6 L1143.6,421.5 L1144.1,421.3 L1144.6,421.3 L1145.1,421.4 L1145.6,421.5 L1146.1,421.5 L1146.6,421.3 L1147.1,421.3 L1147.6,421.3 L1148.1,421.4 L1148.6,421.3 L1149.1,421.2 L1149.6,421.3 L1150.1,421.4 L1150.6,421.4 L1151.1,421.5 L1151.6,421.5 L1152.1,421.6 L1152.6,421.6 L1153.1,421.5 L1153.6,421.4 L1154.1,421.4 L1154.6,421.4 L1155.1,421.4 L1155.6,421.4 L1156.1,421.4 L1156.6,421.7 L1157.1,421.9 L1157.6,422.1 L1158.1,422.1 L1158.6,421.9 L1159.1,421.7 L1159.6,421.4 L1160.1,421.2 L1160.6,421.2 L1161.1,421.2 L1161.6,421.3 L1162.1,421.3 L1162.6,421.3 L1163.1,421.4 L1163.6,421.5 L1164.1,421.6 L1164.6,421.7 L1165.1,421.8 L1165.6,421.7 L1166.1,421.7 L1166.6,421.8 L1167.1,421.9 L1167.6,421.9 L1168.1,421.8 L1168.6,421.6 L1169.1,421.4 L1169.6,421.3 L1170.1,421.3 L1170.6,421.4 L1171.1,421.6 L1171.6,421.6 L1172.1,421.4 L1172.6,421.3 L1173.1,421.4 L1173.6,421.6 L1174.1,421.8 L1174.6,421.9 L1175.1,421.8 L1175.6,421.6 L1176.1,421.5 L1176.6,421.5 L1177.1,421.4 L1177.6,421.5 L1178.1,421.6 L1178.6,421.9 L1179.1,422.0 L1179.6,422.1 L1180.1,422.0 L1180.6,421.8 L1181.1,421.7 L1181.6,421.6 L1182.1,421.7 L1182.6,421.7 L1183.1,421.8 L1183.6,421.6 L1184.1,421.4 L1184.6,421.4 L1185.1,421.5 L1185.6,421.7 L1186.1,421.6 L1186.6,421.5 L1187.1,421.5 L1187.6,421.6 L1188.1,421.7 L1188.6,421.7 L1189.1,421.7 L1189.6,421.9 L1190.1,422.2 L1190.6,422.2 L1191.1,422.0 L1191.6,421.6 L1192.1,421.3 L1192.6,421.3 L1193.1,421.4 L1193.6,421.6 L1194.1,421.7 L1194.6,421.8 L1195.1,421.7 L1195.6,421.5 L1196.1,421.2 L1196.6,421.2 L1197.1,421.4 L1197.6,421.6 L1198.1,421.5 L1198.6,421.4 L1199.1,421.2 L1199.6,421.3 L1200.1,421.5 L1200.6,421.7 L1201.1,421.6 L1201.6,421.5 L1202.1,421.4 L1202.6,421.3 L1203.1,421.3 L1203.6,421.5 L1204.1,421.6 L1204.6,421.8 L1205.1,421.9 L1205.6,422.1 L1206.1,422.1 L1206.6,422.0 L1207.1,421.9 L1207.6,421.8 L1208.1,421.9 L1208.6,421.7 L1209.1,421.4 L1209.6,421.2 L1210.1,421.3 L1210.6,421.5 L1211.1,421.7 L1211.6,421.6 L1212.1,421.6 L1212.6,421.5 L1213.1,421.5 L1213.6,421.5 L1214.1,421.6 L1214.6,421.5 L1215.1,421.5 L1215.6,421.5 L1216.1,421.5 L1216.6,421.7 L1217.1,421.9 L1217.6,421.9 L1218.1,421.7 L1218.6,421.6 L1219.1,421.6 L1219.6,421.5 L1220.1,421.4 L1220.6,421.4 L1221.1,421.6 L1221.6,421.7 L1222.1,421.6 L1222.6,421.5 L1223.1,421.4 L1223.6,421.5 L1224.1,421.6 L1224.6,421.6 L1225.1,421.6 L1225.6,421.4 L1226.1,421.4 L1226.6,421.4 L1227.1,421.4 L1227.6,421.4 L1228.1,421.4 L1228.6,421.4 L1229.1,421.5 L1229.6,421.7 L1230.1,421.8 L1230.6,421.5 L1231.1,421.2 L1231.6,421.0 L1232.1,421.1 L1232.6,421.1 L1233.1,421.0 L1233.6,421.0 L1234.1,421.0 L1234.6,421.0 L1235.1,420.7 L1235.6,420.2 L1236.1,419.6 L1236.6,418.9 L1237.1,417.9 L1237.6,416.7 L1238.1,415.3 L1238.6,414.2 L1239.1,413.5 L1239.6,413.2 L1240.1,413.2 L1240.6,413.4 L1241.1,414.0 L1241.6,414.8 L1242.1,416.0 L1242.6,416.9 L1243.1,417.7 L1243.6,417.8 L1244.1,417.6 L1244.6,417.2 L1245.1,416.7 L1245.6,416.5 L1246.1,416.1 L1246.6,415.9 L1247.1,415.9 L1247.6,416.5 L1248.1,417.3 L1248.6,418.0 L1249.1,418.7 L1249.6,419.4 L1250.1,420.1 L1250.6,420.6 L1251.1,420.7 L1251.6,420.7 L1252.1,420.7 L1252.6,420.8 L1253.1,421.0 L1253.6,421.2 L1254.1,421.3 L1254.6,421.3 L1255.1,421.4 L1255.6,421.5 L1256.1,421.8 L1256.6,421.7 L1257.1,421.6 L1257.6,421.5 L1258.1,421.3 L1258.6,421.3 L1259.1,421.2 L1259.6,421.2 L1260.1,421.2 L1260.6,421.2 L1261.1,421.3 L1261.6,421.4 L1262.1,421.4 L1262.6,421.4 L1263.1,421.2 L1263.6,421.1 L1264.1,420.8 L1264.6,420.4 L1265.1,419.6 L1265.6,418.6 L1266.1,417.4 L1266.6,416.2 L1267.1,415.0 L1267.6,413.9 L1268.1,413.0 L1268.6,412.6 L1269.1,412.8 L1269.6,413.6 L1270.1,415.1 L1270.6,416.7 L1271.1,417.9 L1271.6,418.8 L1272.1,419.6 L1272.6,420.4 L1273.1,421.0 L1273.6,421.3 L1274.1,421.4 L1274.6,421.6 L1275.1,421.8 L1275.6,421.8 L1276.1,421.6 L1276.6,421.4 L1277.1,421.4 L1277.6,421.3 L1278.1,421.4 L1278.6,421.6 L1279.1,421.7 L1279.6,421.7 L1280.1,421.5 L1280.6,421.5 L1281.1,421.5 L1281.6,421.5 L1282.1,421.4 L1282.6,421.2 L1283.1,421.1 L1283.6,421.3 L1284.1,421.5 L1284.6,421.8 L1285.1,421.8 L1285.6,421.8 L1286.1,421.8 L1286.6,421.8 L1287.1,421.9 L1287.6,422.0 L1288.1,422.0 L1288.6,421.7 L1289.1,421.5 L1289.6,421.4 L1290.1,421.5 L1290.6,421.9 L1291.1,422.1 L1291.6,422.2 L1292.1,422.0 L1292.6,421.9 L1293.1,421.7 L1293.6,421.4 L1294.1,421.4 L1294.6,421.3 L1295.1,421.4 L1295.6,421.5 L1296.1,421.5 L1296.6,421.6 L1297.1,421.7 L1297.6,421.9 L1298.1,421.9 L1298.6,421.8 L1299.1,421.8 L1299.6,421.9 L1300.1,421.8 L1300.6,421.7 L1301.1,421.4 L1301.6,421.3 L1302.1,421.3 L1302.6,421.5 L1303.1,421.7 L1303.6,422.0 L1304.1,422.0 L1304.6,422.1 L1305.1,422.1 L1305.6,422.1 L1306.1,422.0 L1306.6,421.8 L1307.1,421.8 L1307.6,421.7 L1308.1,421.8 L1308.6,421.9 L1309.1,422.0 L1309.6,422.0 L1310.1,421.7 L1310.6,421.7 L1311.1,421.7 L1311.6,421.9 L1312.1,421.9 L1312.6,421.9 L1313.1,421.8 L1313.6,421.6 L1314.1,421.5 L1314.6,421.7 L1315.1,421.9 L1315.6,422.0 L1316.1,421.9 L1316.6,421.9 L1317.1,421.9 L1317.6,422.0 L1318.1,421.9 L1318.6,421.9 L1319.1,421.8 L1319.6,421.8 L1320.1,421.6 L1320.6,421.3 L1321.1,421.1 L1321.6,421.0 L1322.1,421.0 L1322.6,421.3 L1323.1,421.5 L1323.6,421.6 L1324.1,421.6 L1324.6,421.6 L1325.1,421.7 L1325.6,421.7 L1326.1,421.9 L1326.6,422.0 L1327.1,422.3 L1327.6,422.4 L1328.1,422.1 L1328.6,421.7 L1329.1,421.5 L1329.6,421.5 L1330.1,421.6 L1330.6,421.7 L1331.1,421.7 L1331.6,421.8 L1332.1,421.8 L1332.6,421.8 L1333.1,421.8 L1333.6,421.7 L1334.1,421.6 L1334.6,421.4 L1335.1,421.5 L1335.6,421.6 L1336.1,421.9 L1336.6,421.9 L1337.1,421.7 L1337.6,421.4 L1338.1,421.2 L1338.6,421.4 L1339.1,421.7 L1339.6,421.8 L1340.1,421.7 L1340.6,421.5 L1341.1,421.4 L1341.6,421.6 L1342.1,421.7 L1342.6,421.5 L1343.1,421.2 L1343.6,421.0 L1344.1,421.0 L1344.6,421.1 L1345.1,421.2 L1345.6,421.2 L1346.1,421.1 L1346.6,421.3 L1347.1,421.3 L1347.6,421.5 L1348.1,421.4 L1348.6,421.2 L1349.1,421.0 L1349.6,421.0 L1350.1,421.1 L1350.6,421.0 L1351.1,420.7 L1351.6,420.1 L1352.1,419.2 L1352.6,417.9 L1353.1,416.1 L1353.6,413.6 L1354.1,410.7 L1354.6,407.7 L1355.1,405.4 L1355.6,404.4 L1356.1,405.1 L1356.6,407.1 L1357.1,409.7 L1357.6,412.1 L1358.1,413.7 L1358.6,414.6 L1359.1,414.6 L1359.6,414.2 L1360.1,413.7 L1360.6,413.7 L1361.1,414.2 L1361.6,415.3 L1362.1,416.5 L1362.6,417.7 L1363.1,418.8 L1363.6,419.8 L1364.1,420.6 L1364.6,421.1 L1365.1,421.2 L1365.6,421.0 L1366.1,420.8 L1366.6,420.9 L1367.1,421.1 L1367.6,421.3 L1368.1,421.3 L1368.6,420.9 L1369.1,420.5 L1369.6,420.2 L1370.1,420.0 L1370.6,419.8 L1371.1,419.5 L1371.6,419.0 L1372.1,418.6 L1372.6,418.0 L1373.1,417.6 L1373.6,417.4 L1374.1,417.6 L1374.6,418.0 L1375.1,418.3 L1375.6,418.6 L1376.1,418.9 L1376.6,419.4 L1377.1,420.0 L1377.6,420.6 L1378.1,421.0 L1378.6,421.2 L1379.1,421.2 L1379.6,421.2 L1380.1,421.2 L1380.6,421.0 L1381.1,420.8 L1381.6,420.6 L1382.1,420.3 L1382.6,420.0 L1383.1,419.6 L1383.6,419.4 L1384.1,419.2 L1384.6,418.9 L1385.1,418.7 L1385.6,418.4 L1386.1,418.5 L1386.6,418.8 L1387.1,419.4 L1387.6,419.6 L1388.1,419.9 L1388.6,420.2 L1389.1,420.7 L1389.6,421.1 L1390.1,421.4 L1390.6,421.5 L1391.1,421.5 L1391.6,421.5 L1392.1,421.4 L1392.6,421.3 L1393.1,421.4 L1393.6,421.5 L1394.1,421.7 L1394.6,421.8 L1395.1,421.8 L1395.6,421.8 L1396.1,421.8 L1396.6,421.7 L1397.1,421.5 L1397.6,421.3 L1398.1,421.3 L1398.6,421.4 L1399.1,421.4 L1399.6,421.4 L1400.1,421.7 L1400.6,421.8 L1401.1,421.7 L1401.6,421.4 L1402.1,421.3 L1402.6,421.4 L1403.1,421.5 L1403.6,421.6 L1404.1,421.7 L1404.6,421.8 L1405.1,421.8 L1405.6,421.7 L1406.1,421.6 L1406.6,421.6 L1407.1,421.6 L1407.6,421.5 L1408.1,421.5 L1408.6,421.6 L1409.1,421.6 L1409.6,421.5 L1410.1,421.5 L1410.6,421.6 L1411.1,421.6 L1411.6,421.7 L1412.1,421.8 L1412.6,421.8 L1413.1,421.9 L1413.6,421.8 L1414.1,421.8 L1414.6,421.7 L1415.1,421.7 L1415.6,421.7 L1416.1,421.9 L1416.6,421.9 L1417.1,421.8 L1417.6,421.7 L1418.1,421.6 L1418.6,421.5 L1419.1,421.4 L1419.6,421.3 L1420.1,421.3 L1420.6,421.4 L1421.1,421.5 L1421.6,421.4 L1422.1,421.2 L1422.6,421.1 L1423.1,421.2 L1423.6,421.2 L1424.1,421.3 L1424.6,421.3 L1425.1,421.5 L1425.6,421.7 L1426.1,421.9 L1426.6,421.9 L1427.1,421.8 L1427.6,422.0 L1428.1,422.2 L1428.6,422.3 L1429.1,422.2 L1429.6,422.0 L1430.1,422.1 L1430.6,422.1 L1431.1,422.0 L1431.6,421.9 L1432.1,421.8 L1432.6,421.8 L1433.1,421.8 L1433.6,421.9 L1434.1,421.8 L1434.6,421.9 L1435.1,421.9 L1435.6,422.0 L1436.1,422.0 L1436.6,421.9 L1437.1,421.7 L1437.6,421.7 L1438.1,421.7 L1438.6,421.8 L1439.1,421.9 L1439.6,422.0 L1440.1,422.0 L1440.6,421.9 L1441.1,421.9 L1441.6,421.9 L1442.1,421.9 L1442.6,421.8 L1443.1,421.7 L1443.6,421.6 L1444.1,421.8 L1444.6,421.7 L1445.1,421.7 L1445.6,421.5 L1446.1,421.6"/>
</g>
<g font-family="'Liberation Sans', Arial, sans-serif" font-weight="bold" fill="#000" text-anchor="middle">
<text x="147.2" y="1052.2" font-size="63">10</text>
<text x="332.8" y="1052.2" font-size="63">20</text>
<text x="518.4" y="1052.2" font-size="63">30</text>
<text x="704.0" y="1052.2" font-size="63">40</text>
<text x="889.6" y="1052.2" font-size="63">50</text>
<text x="1075.2" y="1052.2" font-size="63">60</text>
<text x="1260.8" y="1052.2" font-size="63">70</text>
<text x="1446.4" y="1052.2" font-size="63">80</text>
</g>
<g font-family="'Liberation Sans', Arial, sans-serif" font-weight="bold" font-size="81" fill="#000">
<text x="581.3" y="1145.2">2</text>
<text transform="translate(624.2,1145.3) scale(1.25,1)" font-family="'Liberation Serif', 'Times New Roman', serif" font-weight="normal" font-size="78">θ</text>
<text x="691.5" y="1145.2">(degree)</text>
</g>
<text transform="translate(80,504.5) rotate(-90)" font-family="'Liberation Sans', Arial, sans-serif" font-weight="bold" font-size="81" fill="#000" text-anchor="middle">Intensity (a.u.)</text>
<g font-family="'Liberation Sans', Arial, sans-serif" font-weight="bold" font-size="40" fill="#000" clip-path="url(#cp)">
<text x="1112.3" y="355.8" textLength="333.3" lengthAdjust="spacingAndGlyphs">15CeV10W/Ti-900</text>
<text x="1114.4" y="504.5" textLength="331.2" lengthAdjust="spacingAndGlyphs">15CeV10W/Ti-800</text>
<text x="1112.3" y="658.6" textLength="333.3" lengthAdjust="spacingAndGlyphs">15CeV10W/Ti-700</text>
<text x="1114.7" y="745.2" textLength="330.9" lengthAdjust="spacingAndGlyphs">15CeV10W/Ti-600</text>
<text x="1113.8" y="828.8" textLength="331.8" lengthAdjust="spacingAndGlyphs">15CeV10W/Ti-500</text>
<text x="1113.8" y="911.9" textLength="331.8" lengthAdjust="spacingAndGlyphs">15CeV10W/Ti-400</text>
</g>
<g stroke="#262626" stroke-width="4" fill="none">
<rect x="147.6" y="26.3" width="1298.5" height="957.8"/>
<path stroke-width="3.2" d="M240.0,984.1 V974.2 M332.8,984.1 V964.6 M425.6,984.1 V974.2 M518.4,984.1 V964.6 M611.2,984.1 V974.2 M704.0,984.1 V964.6 M796.8,984.1 V974.2 M889.6,984.1 V964.6 M982.4,984.1 V974.2 M1075.2,984.1 V964.6 M1168.0,984.1 V974.2 M1260.8,984.1 V964.6 M1353.6,984.1 V974.2"/>
</g>
<g font-weight="bold" fill="#000">
<g font-family="'DejaVu Sans', sans-serif" font-weight="normal" text-anchor="middle"><text transform="translate(249.2,138.5) scale(1.04,1)" font-family="'DejaVu Sans', sans-serif" font-size="38">♦</text><text transform="translate(682.0,146.8) scale(1.15,1)" font-family="IPAGothic, 'Liberation Sans', sans-serif" font-size="54">♣</text><text transform="translate(1051.9,132.5) scale(1.0,1)" font-family="'DejaVu Sans', sans-serif" font-size="24">●</text></g>
<text x="266.5" y="138.4" font-family="'Liberation Sans', Arial, sans-serif" font-size="51.5" textLength="304" lengthAdjust="spacingAndGlyphs">Anatase TiO</text>
<text x="570.6" y="151" font-family="'Liberation Sans', Arial, sans-serif" font-size="34.5">2</text>
<text x="702.5" y="139.2" font-family="'Liberation Sans', Arial, sans-serif" font-size="51.5" textLength="246.5" lengthAdjust="spacingAndGlyphs">Rutile TiO</text>
<text x="948" y="153.6" font-family="'Liberation Sans', Arial, sans-serif" font-size="35">2</text>
<text x="1063.5" y="141.6" font-family="'Liberation Sans', Arial, sans-serif" font-size="50" textLength="252" lengthAdjust="spacingAndGlyphs">Cubic CeO</text>
<text x="1316" y="153.8" font-family="'Liberation Sans', Arial, sans-serif" font-size="33.5">2</text>
</g>
<g font-family="'DejaVu Sans', sans-serif" fill="#000" text-anchor="middle">
<text transform="translate(435.4,236.4) scale(1.05,1)" font-family="'DejaVu Sans', sans-serif" font-size="37.6">♦</text>
<text transform="translate(647.6,568.5) scale(1.05,1)" font-family="'DejaVu Sans', sans-serif" font-size="37.6">♦</text>
<text transform="translate(666.2,524.2) scale(1.05,1)" font-family="'DejaVu Sans', sans-serif" font-size="37.6">♦</text>
<text transform="translate(688.4,567.4) scale(1.05,1)" font-family="'DejaVu Sans', sans-serif" font-size="37.6">♦</text>
<text transform="translate(854.5,515.8) scale(1.05,1)" font-family="'DejaVu Sans', sans-serif" font-size="37.6">♦</text>
<text transform="translate(958.7,545.8) scale(1.05,1)" font-family="'DejaVu Sans', sans-serif" font-size="37.6">♦</text>
<text transform="translate(988.4,545.8) scale(1.05,1)" font-family="'DejaVu Sans', sans-serif" font-size="37.6">♦</text>
<text transform="translate(1108.3,569.0) scale(1.05,1)" font-family="'DejaVu Sans', sans-serif" font-size="37.6">♦</text>
<text transform="translate(1127.6,550.9) scale(1.05,1)" font-family="'DejaVu Sans', sans-serif" font-size="37.6">♦</text>
<text transform="translate(1235.2,571.7) scale(1.05,1)" font-family="'DejaVu Sans', sans-serif" font-size="37.6">♦</text>
<text transform="translate(1273.3,571.7) scale(1.05,1)" font-family="'DejaVu Sans', sans-serif" font-size="37.6">♦</text>
<text transform="translate(1355.8,555.2) scale(1.05,1)" font-family="'DejaVu Sans', sans-serif" font-size="37.6">♦</text>
<text transform="translate(464.0,392.9) scale(1.18,1)" font-family="IPAGothic, 'Liberation Sans', sans-serif" font-size="50.2">♣</text>
<text transform="translate(626.0,422.3) scale(1.18,1)" font-family="IPAGothic, 'Liberation Sans', sans-serif" font-size="50.2">♣</text>
<text transform="translate(736.3,413.9) scale(1.18,1)" font-family="IPAGothic, 'Liberation Sans', sans-serif" font-size="50.2">♣</text>
<text transform="translate(1244.1,407.9) scale(1.18,1)" font-family="IPAGothic, 'Liberation Sans', sans-serif" font-size="50.2">♣</text>
<text transform="translate(496.7,350.1) scale(1.0,1)" font-family="'DejaVu Sans', sans-serif" font-size="23.5">●</text>
<text transform="translate(574.8,395.9) scale(1.0,1)" font-family="'DejaVu Sans', sans-serif" font-size="23.5">●</text>
<text transform="translate(838.4,394.7) scale(1.0,1)" font-family="'DejaVu Sans', sans-serif" font-size="23.5">●</text>
<text transform="translate(1007.4,385.6) scale(1.0,1)" font-family="'DejaVu Sans', sans-serif" font-size="23.5">●</text>
</g>
</g>
</svg>
</body></html>
